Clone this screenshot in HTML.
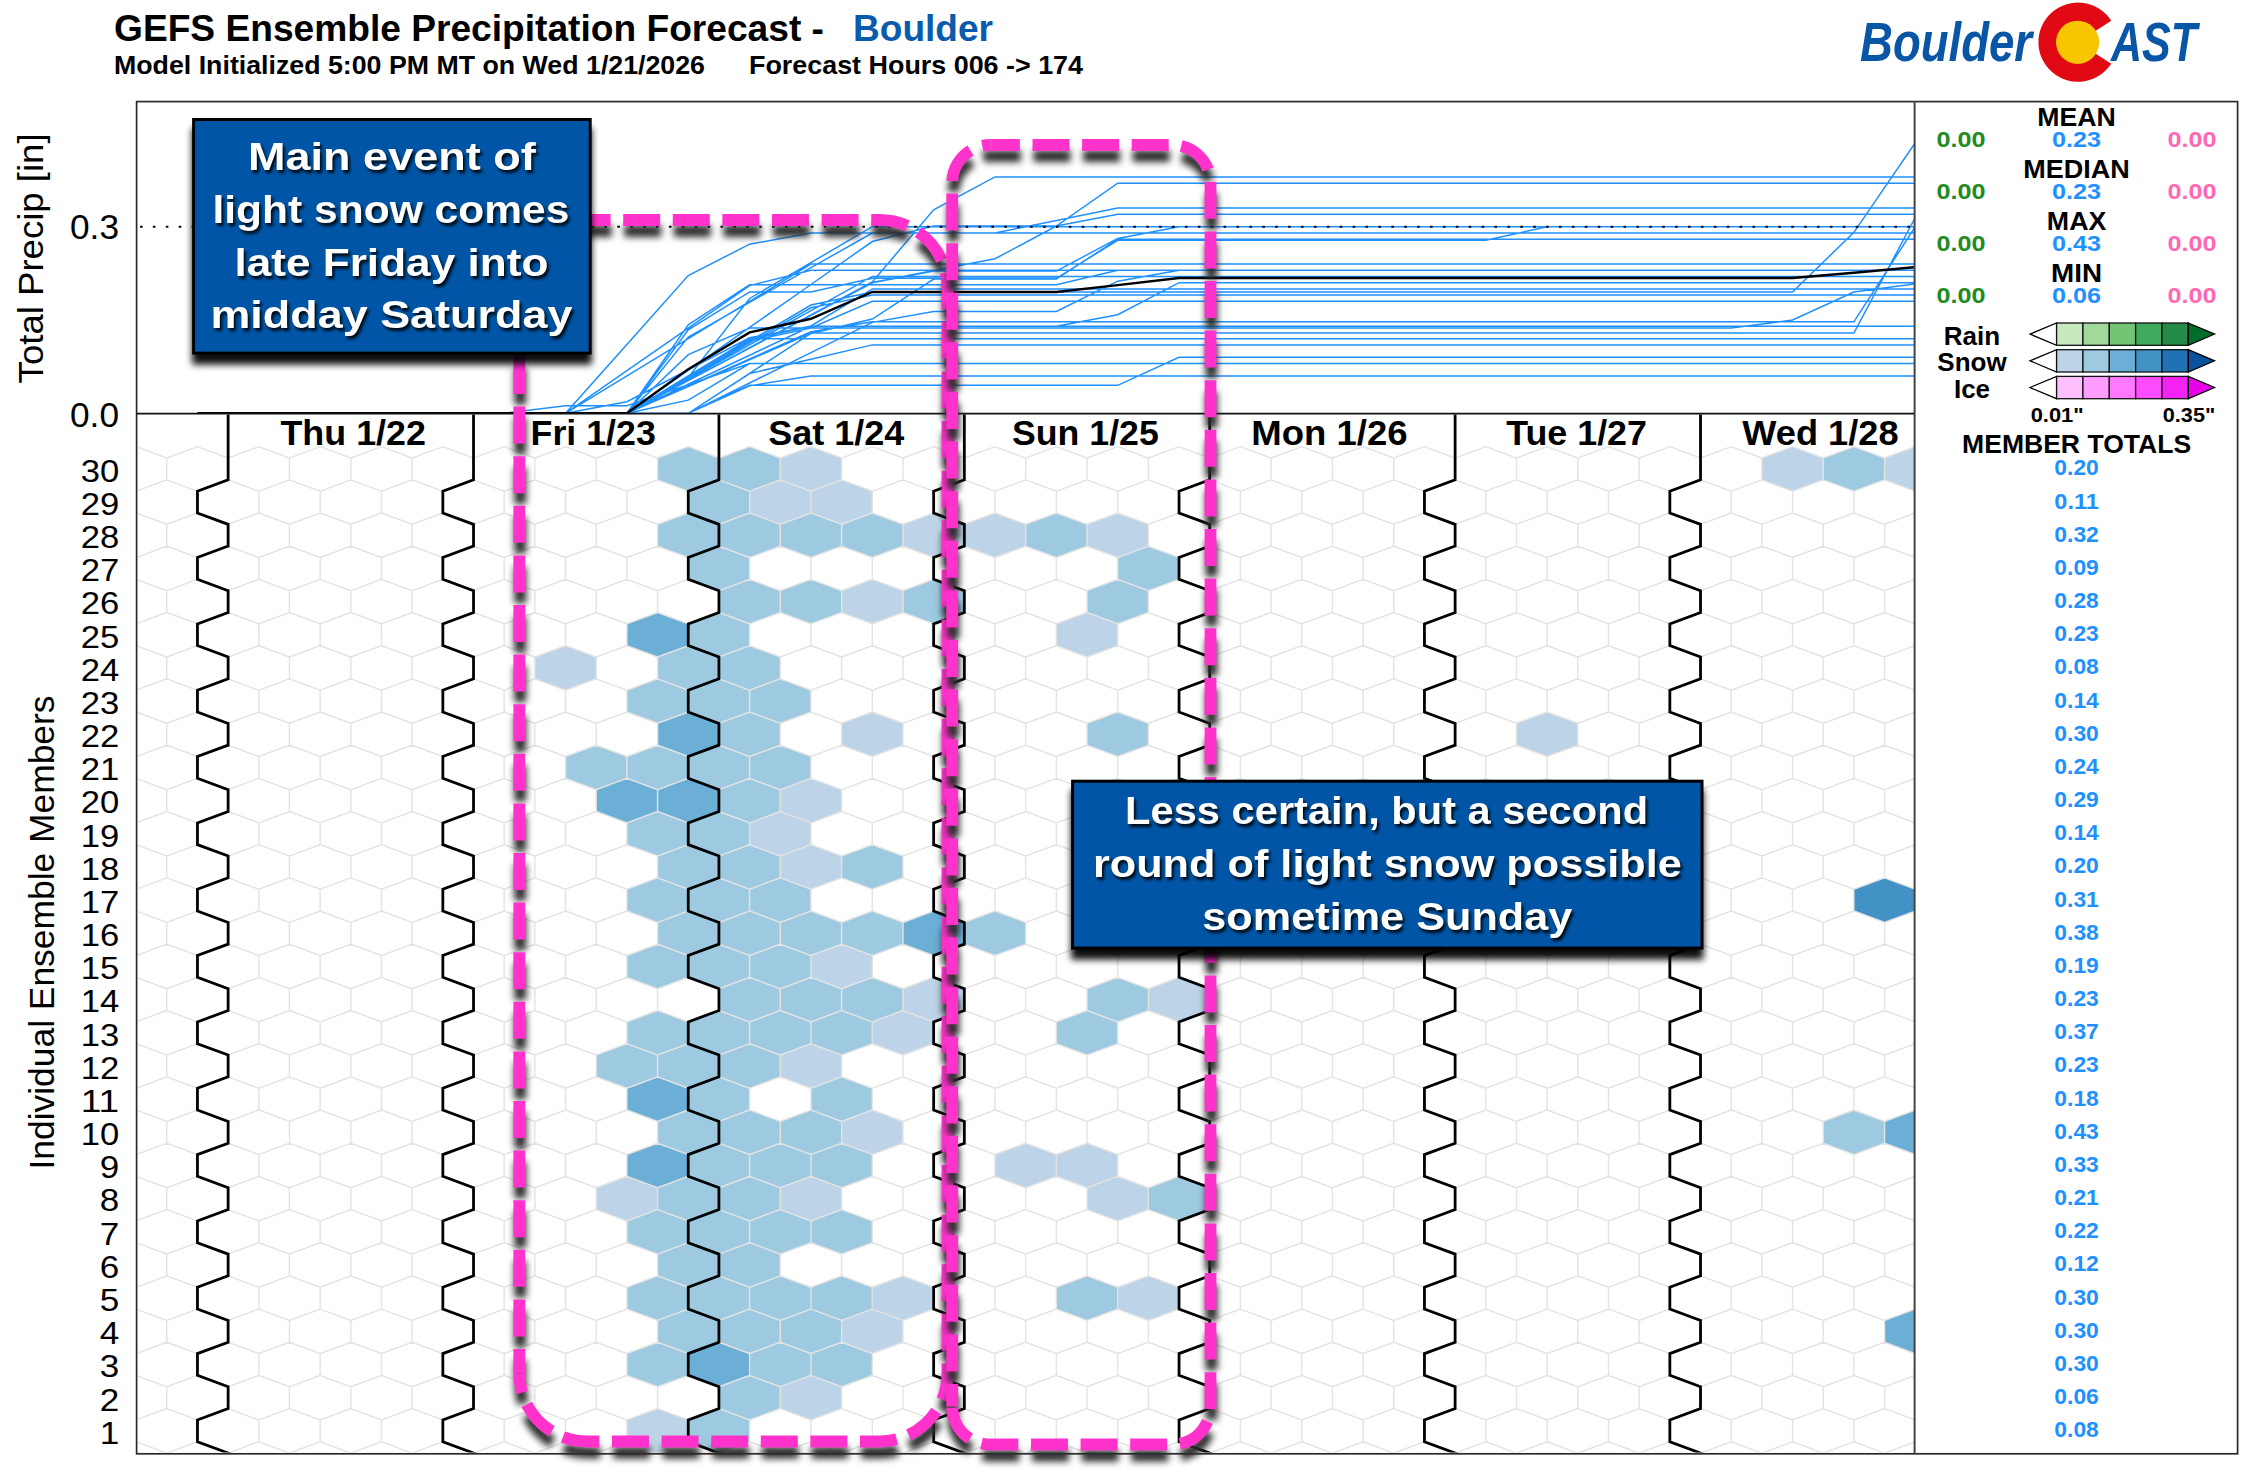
<!DOCTYPE html>
<html><head><meta charset="utf-8"><title>GEFS Ensemble Precipitation Forecast - Boulder</title>
<style>html,body{margin:0;padding:0;background:#fff;width:2253px;height:1472px;overflow:hidden}svg{display:block}</style>
</head><body>
<svg width="2253" height="1472" viewBox="0 0 2253 1472"><rect width="2253" height="1472" fill="#fff"/><defs>
<clipPath id="cg"><rect x="137.5" y="414.5" width="1776.5" height="1038"/></clipPath>
<clipPath id="cl"><rect x="137.5" y="102" width="1776.5" height="312"/></clipPath>
<filter id="dsh" x="-20%" y="-5%" width="140%" height="112%" color-interpolation-filters="sRGB"><feGaussianBlur in="SourceAlpha" stdDeviation="3.6"/><feOffset dx="0.5" dy="11"/><feComponentTransfer><feFuncR type="linear" slope="0" intercept="0.17"/><feFuncG type="linear" slope="0" intercept="0.17"/><feFuncB type="linear" slope="0" intercept="0.17"/><feFuncA type="linear" slope="1.0"/></feComponentTransfer><feMerge><feMergeNode/><feMergeNode in="SourceGraphic"/></feMerge></filter>
<filter id="bsh" x="-10%" y="-10%" width="120%" height="130%" color-interpolation-filters="sRGB"><feGaussianBlur in="SourceAlpha" stdDeviation="3.8"/><feOffset dx="0" dy="10"/><feComponentTransfer><feFuncA type="linear" slope="0.95"/></feComponentTransfer><feMerge><feMergeNode/><feMergeNode in="SourceGraphic"/></feMerge></filter>
<filter id="tsh" x="-10%" y="-20%" width="130%" height="150%" color-interpolation-filters="sRGB"><feGaussianBlur in="SourceAlpha" stdDeviation="1.5"/><feOffset dx="1.5" dy="3"/><feComponentTransfer><feFuncA type="linear" slope="0.9"/></feComponentTransfer><feMerge><feMergeNode/><feMergeNode in="SourceGraphic"/></feMerge></filter>
</defs>
<g clip-path="url(#cg)">
<path d="M657.57,1408.56L688.25,1419.93L688.25,1441.73L657.57,1453.10L626.90,1441.73L626.90,1419.93Z" fill="#bdd3e7"/><path d="M718.92,1408.56L749.59,1419.93L749.59,1441.73L718.92,1453.10L688.25,1441.73L688.25,1419.93Z" fill="#9ecae1"/><path d="M749.60,1375.39L780.27,1386.76L780.27,1408.56L749.60,1419.93L718.93,1408.56L718.93,1386.76Z" fill="#9ecae1"/><path d="M810.95,1375.39L841.62,1386.76L841.62,1408.56L810.95,1419.93L780.28,1408.56L780.28,1386.76Z" fill="#bdd3e7"/><path d="M657.57,1342.22L688.25,1353.59L688.25,1375.39L657.57,1386.76L626.90,1375.39L626.90,1353.59Z" fill="#9ecae1"/><path d="M718.92,1342.22L749.59,1353.59L749.59,1375.39L718.92,1386.76L688.25,1375.39L688.25,1353.59Z" fill="#6baed6"/><path d="M780.27,1342.22L810.94,1353.59L810.94,1375.39L780.27,1386.76L749.60,1375.39L749.60,1353.59Z" fill="#9ecae1"/><path d="M841.62,1342.22L872.29,1353.59L872.29,1375.39L841.62,1386.76L810.95,1375.39L810.95,1353.59Z" fill="#9ecae1"/><path d="M688.25,1309.05L718.92,1320.42L718.92,1342.22L688.25,1353.59L657.58,1342.22L657.58,1320.42Z" fill="#9ecae1"/><path d="M749.60,1309.05L780.27,1320.42L780.27,1342.22L749.60,1353.59L718.93,1342.22L718.93,1320.42Z" fill="#9ecae1"/><path d="M810.95,1309.05L841.62,1320.42L841.62,1342.22L810.95,1353.59L780.28,1342.22L780.28,1320.42Z" fill="#9ecae1"/><path d="M872.30,1309.05L902.98,1320.42L902.98,1342.22L872.30,1353.59L841.63,1342.22L841.63,1320.42Z" fill="#bdd3e7"/><path d="M1915.25,1309.05L1945.92,1320.42L1945.92,1342.22L1915.25,1353.59L1884.58,1342.22L1884.58,1320.42Z" fill="#6baed6"/><path d="M657.57,1275.88L688.25,1287.25L688.25,1309.05L657.57,1320.42L626.90,1309.05L626.90,1287.25Z" fill="#9ecae1"/><path d="M718.92,1275.88L749.59,1287.25L749.59,1309.05L718.92,1320.42L688.25,1309.05L688.25,1287.25Z" fill="#9ecae1"/><path d="M780.27,1275.88L810.94,1287.25L810.94,1309.05L780.27,1320.42L749.60,1309.05L749.60,1287.25Z" fill="#9ecae1"/><path d="M841.62,1275.88L872.29,1287.25L872.29,1309.05L841.62,1320.42L810.95,1309.05L810.95,1287.25Z" fill="#9ecae1"/><path d="M902.97,1275.88L933.64,1287.25L933.64,1309.05L902.97,1320.42L872.30,1309.05L872.30,1287.25Z" fill="#bdd3e7"/><path d="M1087.02,1275.88L1117.69,1287.25L1117.69,1309.05L1087.02,1320.42L1056.35,1309.05L1056.35,1287.25Z" fill="#9ecae1"/><path d="M1148.37,1275.88L1179.05,1287.25L1179.05,1309.05L1148.37,1320.42L1117.70,1309.05L1117.70,1287.25Z" fill="#bdd3e7"/><path d="M688.25,1242.71L718.92,1254.08L718.92,1275.88L688.25,1287.25L657.58,1275.88L657.58,1254.08Z" fill="#9ecae1"/><path d="M749.60,1242.71L780.27,1254.08L780.27,1275.88L749.60,1287.25L718.93,1275.88L718.93,1254.08Z" fill="#9ecae1"/><path d="M657.57,1209.54L688.25,1220.91L688.25,1242.71L657.57,1254.08L626.90,1242.71L626.90,1220.91Z" fill="#9ecae1"/><path d="M718.92,1209.54L749.59,1220.91L749.59,1242.71L718.92,1254.08L688.25,1242.71L688.25,1220.91Z" fill="#9ecae1"/><path d="M780.27,1209.54L810.94,1220.91L810.94,1242.71L780.27,1254.08L749.60,1242.71L749.60,1220.91Z" fill="#9ecae1"/><path d="M841.62,1209.54L872.29,1220.91L872.29,1242.71L841.62,1254.08L810.95,1242.71L810.95,1220.91Z" fill="#9ecae1"/><path d="M626.90,1176.37L657.57,1187.74L657.57,1209.54L626.90,1220.91L596.23,1209.54L596.23,1187.74Z" fill="#bdd3e7"/><path d="M688.25,1176.37L718.92,1187.74L718.92,1209.54L688.25,1220.91L657.58,1209.54L657.58,1187.74Z" fill="#9ecae1"/><path d="M749.60,1176.37L780.27,1187.74L780.27,1209.54L749.60,1220.91L718.93,1209.54L718.93,1187.74Z" fill="#9ecae1"/><path d="M810.95,1176.37L841.62,1187.74L841.62,1209.54L810.95,1220.91L780.28,1209.54L780.28,1187.74Z" fill="#bdd3e7"/><path d="M1117.70,1176.37L1148.38,1187.74L1148.38,1209.54L1117.70,1220.91L1087.03,1209.54L1087.03,1187.74Z" fill="#bdd3e7"/><path d="M1179.05,1176.37L1209.72,1187.74L1209.72,1209.54L1179.05,1220.91L1148.38,1209.54L1148.38,1187.74Z" fill="#9ecae1"/><path d="M657.57,1143.20L688.25,1154.57L688.25,1176.37L657.57,1187.74L626.90,1176.37L626.90,1154.57Z" fill="#6baed6"/><path d="M718.92,1143.20L749.59,1154.57L749.59,1176.37L718.92,1187.74L688.25,1176.37L688.25,1154.57Z" fill="#9ecae1"/><path d="M780.27,1143.20L810.94,1154.57L810.94,1176.37L780.27,1187.74L749.60,1176.37L749.60,1154.57Z" fill="#9ecae1"/><path d="M841.62,1143.20L872.29,1154.57L872.29,1176.37L841.62,1187.74L810.95,1176.37L810.95,1154.57Z" fill="#9ecae1"/><path d="M1025.67,1143.20L1056.35,1154.57L1056.35,1176.37L1025.67,1187.74L995.00,1176.37L995.00,1154.57Z" fill="#bdd3e7"/><path d="M1087.02,1143.20L1117.69,1154.57L1117.69,1176.37L1087.02,1187.74L1056.35,1176.37L1056.35,1154.57Z" fill="#bdd3e7"/><path d="M688.25,1110.03L718.92,1121.40L718.92,1143.20L688.25,1154.57L657.58,1143.20L657.58,1121.40Z" fill="#9ecae1"/><path d="M749.60,1110.03L780.27,1121.40L780.27,1143.20L749.60,1154.57L718.93,1143.20L718.93,1121.40Z" fill="#9ecae1"/><path d="M810.95,1110.03L841.62,1121.40L841.62,1143.20L810.95,1154.57L780.28,1143.20L780.28,1121.40Z" fill="#9ecae1"/><path d="M872.30,1110.03L902.98,1121.40L902.98,1143.20L872.30,1154.57L841.63,1143.20L841.63,1121.40Z" fill="#bdd3e7"/><path d="M1853.90,1110.03L1884.57,1121.40L1884.57,1143.20L1853.90,1154.57L1823.22,1143.20L1823.22,1121.40Z" fill="#9ecae1"/><path d="M1915.25,1110.03L1945.92,1121.40L1945.92,1143.20L1915.25,1154.57L1884.58,1143.20L1884.58,1121.40Z" fill="#6baed6"/><path d="M657.57,1076.86L688.25,1088.23L688.25,1110.03L657.57,1121.40L626.90,1110.03L626.90,1088.23Z" fill="#6baed6"/><path d="M718.92,1076.86L749.59,1088.23L749.59,1110.03L718.92,1121.40L688.25,1110.03L688.25,1088.23Z" fill="#9ecae1"/><path d="M841.62,1076.86L872.29,1088.23L872.29,1110.03L841.62,1121.40L810.95,1110.03L810.95,1088.23Z" fill="#9ecae1"/><path d="M626.90,1043.69L657.57,1055.06L657.57,1076.86L626.90,1088.23L596.23,1076.86L596.23,1055.06Z" fill="#9ecae1"/><path d="M688.25,1043.69L718.92,1055.06L718.92,1076.86L688.25,1088.23L657.58,1076.86L657.58,1055.06Z" fill="#9ecae1"/><path d="M749.60,1043.69L780.27,1055.06L780.27,1076.86L749.60,1088.23L718.93,1076.86L718.93,1055.06Z" fill="#9ecae1"/><path d="M810.95,1043.69L841.62,1055.06L841.62,1076.86L810.95,1088.23L780.28,1076.86L780.28,1055.06Z" fill="#bdd3e7"/><path d="M657.57,1010.52L688.25,1021.89L688.25,1043.69L657.57,1055.06L626.90,1043.69L626.90,1021.89Z" fill="#9ecae1"/><path d="M718.92,1010.52L749.59,1021.89L749.59,1043.69L718.92,1055.06L688.25,1043.69L688.25,1021.89Z" fill="#9ecae1"/><path d="M780.27,1010.52L810.94,1021.89L810.94,1043.69L780.27,1055.06L749.60,1043.69L749.60,1021.89Z" fill="#9ecae1"/><path d="M841.62,1010.52L872.29,1021.89L872.29,1043.69L841.62,1055.06L810.95,1043.69L810.95,1021.89Z" fill="#9ecae1"/><path d="M902.97,1010.52L933.64,1021.89L933.64,1043.69L902.97,1055.06L872.30,1043.69L872.30,1021.89Z" fill="#bdd3e7"/><path d="M1087.02,1010.52L1117.69,1021.89L1117.69,1043.69L1087.02,1055.06L1056.35,1043.69L1056.35,1021.89Z" fill="#9ecae1"/><path d="M749.60,977.35L780.27,988.72L780.27,1010.52L749.60,1021.89L718.93,1010.52L718.93,988.72Z" fill="#9ecae1"/><path d="M810.95,977.35L841.62,988.72L841.62,1010.52L810.95,1021.89L780.28,1010.52L780.28,988.72Z" fill="#9ecae1"/><path d="M872.30,977.35L902.98,988.72L902.98,1010.52L872.30,1021.89L841.63,1010.52L841.63,988.72Z" fill="#9ecae1"/><path d="M933.65,977.35L964.33,988.72L964.33,1010.52L933.65,1021.89L902.98,1010.52L902.98,988.72Z" fill="#bdd3e7"/><path d="M1117.70,977.35L1148.38,988.72L1148.38,1010.52L1117.70,1021.89L1087.03,1010.52L1087.03,988.72Z" fill="#9ecae1"/><path d="M1179.05,977.35L1209.72,988.72L1209.72,1010.52L1179.05,1021.89L1148.38,1010.52L1148.38,988.72Z" fill="#bdd3e7"/><path d="M657.57,944.18L688.25,955.55L688.25,977.35L657.57,988.72L626.90,977.35L626.90,955.55Z" fill="#9ecae1"/><path d="M718.92,944.18L749.59,955.55L749.59,977.35L718.92,988.72L688.25,977.35L688.25,955.55Z" fill="#9ecae1"/><path d="M780.27,944.18L810.94,955.55L810.94,977.35L780.27,988.72L749.60,977.35L749.60,955.55Z" fill="#9ecae1"/><path d="M841.62,944.18L872.29,955.55L872.29,977.35L841.62,988.72L810.95,977.35L810.95,955.55Z" fill="#bdd3e7"/><path d="M688.25,911.01L718.92,922.38L718.92,944.18L688.25,955.55L657.58,944.18L657.58,922.38Z" fill="#9ecae1"/><path d="M749.60,911.01L780.27,922.38L780.27,944.18L749.60,955.55L718.93,944.18L718.93,922.38Z" fill="#9ecae1"/><path d="M810.95,911.01L841.62,922.38L841.62,944.18L810.95,955.55L780.28,944.18L780.28,922.38Z" fill="#9ecae1"/><path d="M872.30,911.01L902.98,922.38L902.98,944.18L872.30,955.55L841.63,944.18L841.63,922.38Z" fill="#9ecae1"/><path d="M933.65,911.01L964.33,922.38L964.33,944.18L933.65,955.55L902.98,944.18L902.98,922.38Z" fill="#6baed6"/><path d="M995.00,911.01L1025.67,922.38L1025.67,944.18L995.00,955.55L964.33,944.18L964.33,922.38Z" fill="#9ecae1"/><path d="M657.57,877.84L688.25,889.21L688.25,911.01L657.57,922.38L626.90,911.01L626.90,889.21Z" fill="#9ecae1"/><path d="M718.92,877.84L749.59,889.21L749.59,911.01L718.92,922.38L688.25,911.01L688.25,889.21Z" fill="#9ecae1"/><path d="M780.27,877.84L810.94,889.21L810.94,911.01L780.27,922.38L749.60,911.01L749.60,889.21Z" fill="#9ecae1"/><path d="M1884.57,877.84L1915.24,889.21L1915.24,911.01L1884.57,922.38L1853.89,911.01L1853.89,889.21Z" fill="#4292c6"/><path d="M688.25,844.67L718.92,856.04L718.92,877.84L688.25,889.21L657.58,877.84L657.58,856.04Z" fill="#9ecae1"/><path d="M749.60,844.67L780.27,856.04L780.27,877.84L749.60,889.21L718.93,877.84L718.93,856.04Z" fill="#9ecae1"/><path d="M810.95,844.67L841.62,856.04L841.62,877.84L810.95,889.21L780.28,877.84L780.28,856.04Z" fill="#bdd3e7"/><path d="M872.30,844.67L902.98,856.04L902.98,877.84L872.30,889.21L841.63,877.84L841.63,856.04Z" fill="#9ecae1"/><path d="M657.57,811.50L688.25,822.87L688.25,844.67L657.57,856.04L626.90,844.67L626.90,822.87Z" fill="#9ecae1"/><path d="M718.92,811.50L749.59,822.87L749.59,844.67L718.92,856.04L688.25,844.67L688.25,822.87Z" fill="#9ecae1"/><path d="M780.27,811.50L810.94,822.87L810.94,844.67L780.27,856.04L749.60,844.67L749.60,822.87Z" fill="#bdd3e7"/><path d="M626.90,778.33L657.57,789.70L657.57,811.50L626.90,822.87L596.23,811.50L596.23,789.70Z" fill="#6baed6"/><path d="M688.25,778.33L718.92,789.70L718.92,811.50L688.25,822.87L657.58,811.50L657.58,789.70Z" fill="#6baed6"/><path d="M749.60,778.33L780.27,789.70L780.27,811.50L749.60,822.87L718.93,811.50L718.93,789.70Z" fill="#9ecae1"/><path d="M810.95,778.33L841.62,789.70L841.62,811.50L810.95,822.87L780.28,811.50L780.28,789.70Z" fill="#bdd3e7"/><path d="M596.22,745.16L626.89,756.53L626.89,778.33L596.22,789.70L565.55,778.33L565.55,756.53Z" fill="#9ecae1"/><path d="M657.57,745.16L688.25,756.53L688.25,778.33L657.57,789.70L626.90,778.33L626.90,756.53Z" fill="#9ecae1"/><path d="M718.92,745.16L749.59,756.53L749.59,778.33L718.92,789.70L688.25,778.33L688.25,756.53Z" fill="#9ecae1"/><path d="M780.27,745.16L810.94,756.53L810.94,778.33L780.27,789.70L749.60,778.33L749.60,756.53Z" fill="#9ecae1"/><path d="M688.25,711.99L718.92,723.36L718.92,745.16L688.25,756.53L657.58,745.16L657.58,723.36Z" fill="#6baed6"/><path d="M749.60,711.99L780.27,723.36L780.27,745.16L749.60,756.53L718.93,745.16L718.93,723.36Z" fill="#9ecae1"/><path d="M872.30,711.99L902.98,723.36L902.98,745.16L872.30,756.53L841.63,745.16L841.63,723.36Z" fill="#bdd3e7"/><path d="M1117.70,711.99L1148.38,723.36L1148.38,745.16L1117.70,756.53L1087.03,745.16L1087.03,723.36Z" fill="#9ecae1"/><path d="M1547.15,711.99L1577.82,723.36L1577.82,745.16L1547.15,756.53L1516.47,745.16L1516.47,723.36Z" fill="#bdd3e7"/><path d="M657.57,678.82L688.25,690.19L688.25,711.99L657.57,723.36L626.90,711.99L626.90,690.19Z" fill="#9ecae1"/><path d="M718.92,678.82L749.59,690.19L749.59,711.99L718.92,723.36L688.25,711.99L688.25,690.19Z" fill="#9ecae1"/><path d="M780.27,678.82L810.94,690.19L810.94,711.99L780.27,723.36L749.60,711.99L749.60,690.19Z" fill="#9ecae1"/><path d="M565.55,645.65L596.22,657.02L596.22,678.82L565.55,690.19L534.88,678.82L534.88,657.02Z" fill="#bdd3e7"/><path d="M688.25,645.65L718.92,657.02L718.92,678.82L688.25,690.19L657.58,678.82L657.58,657.02Z" fill="#9ecae1"/><path d="M749.60,645.65L780.27,657.02L780.27,678.82L749.60,690.19L718.93,678.82L718.93,657.02Z" fill="#9ecae1"/><path d="M657.57,612.48L688.25,623.85L688.25,645.65L657.57,657.02L626.90,645.65L626.90,623.85Z" fill="#6baed6"/><path d="M718.92,612.48L749.59,623.85L749.59,645.65L718.92,657.02L688.25,645.65L688.25,623.85Z" fill="#9ecae1"/><path d="M1087.02,612.48L1117.69,623.85L1117.69,645.65L1087.02,657.02L1056.35,645.65L1056.35,623.85Z" fill="#bdd3e7"/><path d="M749.60,579.31L780.27,590.68L780.27,612.48L749.60,623.85L718.93,612.48L718.93,590.68Z" fill="#9ecae1"/><path d="M810.95,579.31L841.62,590.68L841.62,612.48L810.95,623.85L780.28,612.48L780.28,590.68Z" fill="#9ecae1"/><path d="M872.30,579.31L902.98,590.68L902.98,612.48L872.30,623.85L841.63,612.48L841.63,590.68Z" fill="#bdd3e7"/><path d="M933.65,579.31L964.33,590.68L964.33,612.48L933.65,623.85L902.98,612.48L902.98,590.68Z" fill="#9ecae1"/><path d="M1117.70,579.31L1148.38,590.68L1148.38,612.48L1117.70,623.85L1087.03,612.48L1087.03,590.68Z" fill="#9ecae1"/><path d="M718.92,546.14L749.59,557.51L749.59,579.31L718.92,590.68L688.25,579.31L688.25,557.51Z" fill="#9ecae1"/><path d="M1148.37,546.14L1179.05,557.51L1179.05,579.31L1148.37,590.68L1117.70,579.31L1117.70,557.51Z" fill="#9ecae1"/><path d="M688.25,512.97L718.92,524.34L718.92,546.14L688.25,557.51L657.58,546.14L657.58,524.34Z" fill="#9ecae1"/><path d="M749.60,512.97L780.27,524.34L780.27,546.14L749.60,557.51L718.93,546.14L718.93,524.34Z" fill="#9ecae1"/><path d="M810.95,512.97L841.62,524.34L841.62,546.14L810.95,557.51L780.28,546.14L780.28,524.34Z" fill="#9ecae1"/><path d="M872.30,512.97L902.98,524.34L902.98,546.14L872.30,557.51L841.63,546.14L841.63,524.34Z" fill="#9ecae1"/><path d="M933.65,512.97L964.33,524.34L964.33,546.14L933.65,557.51L902.98,546.14L902.98,524.34Z" fill="#bdd3e7"/><path d="M995.00,512.97L1025.67,524.34L1025.67,546.14L995.00,557.51L964.33,546.14L964.33,524.34Z" fill="#bdd3e7"/><path d="M1056.35,512.97L1087.02,524.34L1087.02,546.14L1056.35,557.51L1025.67,546.14L1025.67,524.34Z" fill="#9ecae1"/><path d="M1117.70,512.97L1148.38,524.34L1148.38,546.14L1117.70,557.51L1087.03,546.14L1087.03,524.34Z" fill="#bdd3e7"/><path d="M718.92,479.80L749.59,491.17L749.59,512.97L718.92,524.34L688.25,512.97L688.25,491.17Z" fill="#9ecae1"/><path d="M780.27,479.80L810.94,491.17L810.94,512.97L780.27,524.34L749.60,512.97L749.60,491.17Z" fill="#bdd3e7"/><path d="M841.62,479.80L872.29,491.17L872.29,512.97L841.62,524.34L810.95,512.97L810.95,491.17Z" fill="#bdd3e7"/><path d="M688.25,446.63L718.92,458.00L718.92,479.80L688.25,491.17L657.58,479.80L657.58,458.00Z" fill="#9ecae1"/><path d="M749.60,446.63L780.27,458.00L780.27,479.80L749.60,491.17L718.93,479.80L718.93,458.00Z" fill="#9ecae1"/><path d="M810.95,446.63L841.62,458.00L841.62,479.80L810.95,491.17L780.28,479.80L780.28,458.00Z" fill="#bdd3e7"/><path d="M1792.55,446.63L1823.22,458.00L1823.22,479.80L1792.55,491.17L1761.88,479.80L1761.88,458.00Z" fill="#bdd3e7"/><path d="M1853.90,446.63L1884.57,458.00L1884.57,479.80L1853.90,491.17L1823.22,479.80L1823.22,458.00Z" fill="#9ecae1"/><path d="M1915.25,446.63L1945.92,458.00L1945.92,479.80L1915.25,491.17L1884.58,479.80L1884.58,458.00Z" fill="#bdd3e7"/>
<path d="M105.42,1408.56L136.10,1419.93L136.10,1441.73L105.42,1453.10L74.75,1441.73L74.75,1419.93ZM166.77,1408.56L197.45,1419.93L197.45,1441.73L166.77,1453.10L136.09,1441.73L136.09,1419.93ZM228.12,1408.56L258.80,1419.93L258.80,1441.73L228.12,1453.10L197.44,1441.73L197.44,1419.93ZM289.47,1408.56L320.15,1419.93L320.15,1441.73L289.47,1453.10L258.80,1441.73L258.80,1419.93ZM350.82,1408.56L381.50,1419.93L381.50,1441.73L350.82,1453.10L320.15,1441.73L320.15,1419.93ZM412.17,1408.56L442.85,1419.93L442.85,1441.73L412.17,1453.10L381.50,1441.73L381.50,1419.93ZM473.52,1408.56L504.19,1419.93L504.19,1441.73L473.52,1453.10L442.84,1441.73L442.84,1419.93ZM534.87,1408.56L565.54,1419.93L565.54,1441.73L534.87,1453.10L504.19,1441.73L504.19,1419.93ZM596.22,1408.56L626.89,1419.93L626.89,1441.73L596.22,1453.10L565.55,1441.73L565.55,1419.93ZM657.57,1408.56L688.25,1419.93L688.25,1441.73L657.57,1453.10L626.90,1441.73L626.90,1419.93ZM718.92,1408.56L749.59,1419.93L749.59,1441.73L718.92,1453.10L688.25,1441.73L688.25,1419.93ZM780.27,1408.56L810.94,1419.93L810.94,1441.73L780.27,1453.10L749.60,1441.73L749.60,1419.93ZM841.62,1408.56L872.29,1419.93L872.29,1441.73L841.62,1453.10L810.95,1441.73L810.95,1419.93ZM902.97,1408.56L933.64,1419.93L933.64,1441.73L902.97,1453.10L872.30,1441.73L872.30,1419.93ZM964.32,1408.56L995.00,1419.93L995.00,1441.73L964.32,1453.10L933.65,1441.73L933.65,1419.93ZM1025.67,1408.56L1056.35,1419.93L1056.35,1441.73L1025.67,1453.10L995.00,1441.73L995.00,1419.93ZM1087.02,1408.56L1117.69,1419.93L1117.69,1441.73L1087.02,1453.10L1056.35,1441.73L1056.35,1419.93ZM1148.37,1408.56L1179.05,1419.93L1179.05,1441.73L1148.37,1453.10L1117.70,1441.73L1117.70,1419.93ZM1209.72,1408.56L1240.39,1419.93L1240.39,1441.73L1209.72,1453.10L1179.05,1441.73L1179.05,1419.93ZM1271.07,1408.56L1301.74,1419.93L1301.74,1441.73L1271.07,1453.10L1240.39,1441.73L1240.39,1419.93ZM1332.42,1408.56L1363.10,1419.93L1363.10,1441.73L1332.42,1453.10L1301.75,1441.73L1301.75,1419.93ZM1393.77,1408.56L1424.44,1419.93L1424.44,1441.73L1393.77,1453.10L1363.10,1441.73L1363.10,1419.93ZM1455.12,1408.56L1485.80,1419.93L1485.80,1441.73L1455.12,1453.10L1424.45,1441.73L1424.45,1419.93ZM1516.47,1408.56L1547.14,1419.93L1547.14,1441.73L1516.47,1453.10L1485.80,1441.73L1485.80,1419.93ZM1577.82,1408.56L1608.49,1419.93L1608.49,1441.73L1577.82,1453.10L1547.14,1441.73L1547.14,1419.93ZM1639.17,1408.56L1669.85,1419.93L1669.85,1441.73L1639.17,1453.10L1608.50,1441.73L1608.50,1419.93ZM1700.52,1408.56L1731.19,1419.93L1731.19,1441.73L1700.52,1453.10L1669.85,1441.73L1669.85,1419.93ZM1761.87,1408.56L1792.55,1419.93L1792.55,1441.73L1761.87,1453.10L1731.20,1441.73L1731.20,1419.93ZM1823.22,1408.56L1853.89,1419.93L1853.89,1441.73L1823.22,1453.10L1792.55,1441.73L1792.55,1419.93ZM1884.57,1408.56L1915.24,1419.93L1915.24,1441.73L1884.57,1453.10L1853.89,1441.73L1853.89,1419.93ZM1945.92,1408.56L1976.60,1419.93L1976.60,1441.73L1945.92,1453.10L1915.25,1441.73L1915.25,1419.93ZM136.10,1375.39L166.78,1386.76L166.78,1408.56L136.10,1419.93L105.42,1408.56L105.42,1386.76ZM197.45,1375.39L228.12,1386.76L228.12,1408.56L197.45,1419.93L166.77,1408.56L166.77,1386.76ZM258.80,1375.39L289.48,1386.76L289.48,1408.56L258.80,1419.93L228.12,1408.56L228.12,1386.76ZM320.15,1375.39L350.82,1386.76L350.82,1408.56L320.15,1419.93L289.47,1408.56L289.47,1386.76ZM381.50,1375.39L412.18,1386.76L412.18,1408.56L381.50,1419.93L350.82,1408.56L350.82,1386.76ZM442.85,1375.39L473.53,1386.76L473.53,1408.56L442.85,1419.93L412.18,1408.56L412.18,1386.76ZM504.20,1375.39L534.88,1386.76L534.88,1408.56L504.20,1419.93L473.53,1408.56L473.53,1386.76ZM565.55,1375.39L596.22,1386.76L596.22,1408.56L565.55,1419.93L534.88,1408.56L534.88,1386.76ZM626.90,1375.39L657.57,1386.76L657.57,1408.56L626.90,1419.93L596.23,1408.56L596.23,1386.76ZM688.25,1375.39L718.92,1386.76L718.92,1408.56L688.25,1419.93L657.58,1408.56L657.58,1386.76ZM749.60,1375.39L780.27,1386.76L780.27,1408.56L749.60,1419.93L718.93,1408.56L718.93,1386.76ZM810.95,1375.39L841.62,1386.76L841.62,1408.56L810.95,1419.93L780.28,1408.56L780.28,1386.76ZM872.30,1375.39L902.98,1386.76L902.98,1408.56L872.30,1419.93L841.63,1408.56L841.63,1386.76ZM933.65,1375.39L964.33,1386.76L964.33,1408.56L933.65,1419.93L902.98,1408.56L902.98,1386.76ZM995.00,1375.39L1025.67,1386.76L1025.67,1408.56L995.00,1419.93L964.33,1408.56L964.33,1386.76ZM1056.35,1375.39L1087.02,1386.76L1087.02,1408.56L1056.35,1419.93L1025.67,1408.56L1025.67,1386.76ZM1117.70,1375.39L1148.38,1386.76L1148.38,1408.56L1117.70,1419.93L1087.03,1408.56L1087.03,1386.76ZM1179.05,1375.39L1209.72,1386.76L1209.72,1408.56L1179.05,1419.93L1148.38,1408.56L1148.38,1386.76ZM1240.40,1375.39L1271.07,1386.76L1271.07,1408.56L1240.40,1419.93L1209.72,1408.56L1209.72,1386.76ZM1301.75,1375.39L1332.42,1386.76L1332.42,1408.56L1301.75,1419.93L1271.08,1408.56L1271.08,1386.76ZM1363.10,1375.39L1393.77,1386.76L1393.77,1408.56L1363.10,1419.93L1332.42,1408.56L1332.42,1386.76ZM1424.45,1375.39L1455.12,1386.76L1455.12,1408.56L1424.45,1419.93L1393.78,1408.56L1393.78,1386.76ZM1485.80,1375.39L1516.47,1386.76L1516.47,1408.56L1485.80,1419.93L1455.12,1408.56L1455.12,1386.76ZM1547.15,1375.39L1577.82,1386.76L1577.82,1408.56L1547.15,1419.93L1516.47,1408.56L1516.47,1386.76ZM1608.50,1375.39L1639.17,1386.76L1639.17,1408.56L1608.50,1419.93L1577.83,1408.56L1577.83,1386.76ZM1669.85,1375.39L1700.52,1386.76L1700.52,1408.56L1669.85,1419.93L1639.17,1408.56L1639.17,1386.76ZM1731.20,1375.39L1761.88,1386.76L1761.88,1408.56L1731.20,1419.93L1700.53,1408.56L1700.53,1386.76ZM1792.55,1375.39L1823.22,1386.76L1823.22,1408.56L1792.55,1419.93L1761.88,1408.56L1761.88,1386.76ZM1853.90,1375.39L1884.57,1386.76L1884.57,1408.56L1853.90,1419.93L1823.22,1408.56L1823.22,1386.76ZM1915.25,1375.39L1945.92,1386.76L1945.92,1408.56L1915.25,1419.93L1884.58,1408.56L1884.58,1386.76ZM105.42,1342.22L136.10,1353.59L136.10,1375.39L105.42,1386.76L74.75,1375.39L74.75,1353.59ZM166.77,1342.22L197.45,1353.59L197.45,1375.39L166.77,1386.76L136.09,1375.39L136.09,1353.59ZM228.12,1342.22L258.80,1353.59L258.80,1375.39L228.12,1386.76L197.44,1375.39L197.44,1353.59ZM289.47,1342.22L320.15,1353.59L320.15,1375.39L289.47,1386.76L258.80,1375.39L258.80,1353.59ZM350.82,1342.22L381.50,1353.59L381.50,1375.39L350.82,1386.76L320.15,1375.39L320.15,1353.59ZM412.17,1342.22L442.85,1353.59L442.85,1375.39L412.17,1386.76L381.50,1375.39L381.50,1353.59ZM473.52,1342.22L504.19,1353.59L504.19,1375.39L473.52,1386.76L442.84,1375.39L442.84,1353.59ZM534.87,1342.22L565.54,1353.59L565.54,1375.39L534.87,1386.76L504.19,1375.39L504.19,1353.59ZM596.22,1342.22L626.89,1353.59L626.89,1375.39L596.22,1386.76L565.55,1375.39L565.55,1353.59ZM657.57,1342.22L688.25,1353.59L688.25,1375.39L657.57,1386.76L626.90,1375.39L626.90,1353.59ZM718.92,1342.22L749.59,1353.59L749.59,1375.39L718.92,1386.76L688.25,1375.39L688.25,1353.59ZM780.27,1342.22L810.94,1353.59L810.94,1375.39L780.27,1386.76L749.60,1375.39L749.60,1353.59ZM841.62,1342.22L872.29,1353.59L872.29,1375.39L841.62,1386.76L810.95,1375.39L810.95,1353.59ZM902.97,1342.22L933.64,1353.59L933.64,1375.39L902.97,1386.76L872.30,1375.39L872.30,1353.59ZM964.32,1342.22L995.00,1353.59L995.00,1375.39L964.32,1386.76L933.65,1375.39L933.65,1353.59ZM1025.67,1342.22L1056.35,1353.59L1056.35,1375.39L1025.67,1386.76L995.00,1375.39L995.00,1353.59ZM1087.02,1342.22L1117.69,1353.59L1117.69,1375.39L1087.02,1386.76L1056.35,1375.39L1056.35,1353.59ZM1148.37,1342.22L1179.05,1353.59L1179.05,1375.39L1148.37,1386.76L1117.70,1375.39L1117.70,1353.59ZM1209.72,1342.22L1240.39,1353.59L1240.39,1375.39L1209.72,1386.76L1179.05,1375.39L1179.05,1353.59ZM1271.07,1342.22L1301.74,1353.59L1301.74,1375.39L1271.07,1386.76L1240.39,1375.39L1240.39,1353.59ZM1332.42,1342.22L1363.10,1353.59L1363.10,1375.39L1332.42,1386.76L1301.75,1375.39L1301.75,1353.59ZM1393.77,1342.22L1424.44,1353.59L1424.44,1375.39L1393.77,1386.76L1363.10,1375.39L1363.10,1353.59ZM1455.12,1342.22L1485.80,1353.59L1485.80,1375.39L1455.12,1386.76L1424.45,1375.39L1424.45,1353.59ZM1516.47,1342.22L1547.14,1353.59L1547.14,1375.39L1516.47,1386.76L1485.80,1375.39L1485.80,1353.59ZM1577.82,1342.22L1608.49,1353.59L1608.49,1375.39L1577.82,1386.76L1547.14,1375.39L1547.14,1353.59ZM1639.17,1342.22L1669.85,1353.59L1669.85,1375.39L1639.17,1386.76L1608.50,1375.39L1608.50,1353.59ZM1700.52,1342.22L1731.19,1353.59L1731.19,1375.39L1700.52,1386.76L1669.85,1375.39L1669.85,1353.59ZM1761.87,1342.22L1792.55,1353.59L1792.55,1375.39L1761.87,1386.76L1731.20,1375.39L1731.20,1353.59ZM1823.22,1342.22L1853.89,1353.59L1853.89,1375.39L1823.22,1386.76L1792.55,1375.39L1792.55,1353.59ZM1884.57,1342.22L1915.24,1353.59L1915.24,1375.39L1884.57,1386.76L1853.89,1375.39L1853.89,1353.59ZM1945.92,1342.22L1976.60,1353.59L1976.60,1375.39L1945.92,1386.76L1915.25,1375.39L1915.25,1353.59ZM136.10,1309.05L166.78,1320.42L166.78,1342.22L136.10,1353.59L105.42,1342.22L105.42,1320.42ZM197.45,1309.05L228.12,1320.42L228.12,1342.22L197.45,1353.59L166.77,1342.22L166.77,1320.42ZM258.80,1309.05L289.48,1320.42L289.48,1342.22L258.80,1353.59L228.12,1342.22L228.12,1320.42ZM320.15,1309.05L350.82,1320.42L350.82,1342.22L320.15,1353.59L289.47,1342.22L289.47,1320.42ZM381.50,1309.05L412.18,1320.42L412.18,1342.22L381.50,1353.59L350.82,1342.22L350.82,1320.42ZM442.85,1309.05L473.53,1320.42L473.53,1342.22L442.85,1353.59L412.18,1342.22L412.18,1320.42ZM504.20,1309.05L534.88,1320.42L534.88,1342.22L504.20,1353.59L473.53,1342.22L473.53,1320.42ZM565.55,1309.05L596.22,1320.42L596.22,1342.22L565.55,1353.59L534.88,1342.22L534.88,1320.42ZM626.90,1309.05L657.57,1320.42L657.57,1342.22L626.90,1353.59L596.23,1342.22L596.23,1320.42ZM688.25,1309.05L718.92,1320.42L718.92,1342.22L688.25,1353.59L657.58,1342.22L657.58,1320.42ZM749.60,1309.05L780.27,1320.42L780.27,1342.22L749.60,1353.59L718.93,1342.22L718.93,1320.42ZM810.95,1309.05L841.62,1320.42L841.62,1342.22L810.95,1353.59L780.28,1342.22L780.28,1320.42ZM872.30,1309.05L902.98,1320.42L902.98,1342.22L872.30,1353.59L841.63,1342.22L841.63,1320.42ZM933.65,1309.05L964.33,1320.42L964.33,1342.22L933.65,1353.59L902.98,1342.22L902.98,1320.42ZM995.00,1309.05L1025.67,1320.42L1025.67,1342.22L995.00,1353.59L964.33,1342.22L964.33,1320.42ZM1056.35,1309.05L1087.02,1320.42L1087.02,1342.22L1056.35,1353.59L1025.67,1342.22L1025.67,1320.42ZM1117.70,1309.05L1148.38,1320.42L1148.38,1342.22L1117.70,1353.59L1087.03,1342.22L1087.03,1320.42ZM1179.05,1309.05L1209.72,1320.42L1209.72,1342.22L1179.05,1353.59L1148.38,1342.22L1148.38,1320.42ZM1240.40,1309.05L1271.07,1320.42L1271.07,1342.22L1240.40,1353.59L1209.72,1342.22L1209.72,1320.42ZM1301.75,1309.05L1332.42,1320.42L1332.42,1342.22L1301.75,1353.59L1271.08,1342.22L1271.08,1320.42ZM1363.10,1309.05L1393.77,1320.42L1393.77,1342.22L1363.10,1353.59L1332.42,1342.22L1332.42,1320.42ZM1424.45,1309.05L1455.12,1320.42L1455.12,1342.22L1424.45,1353.59L1393.78,1342.22L1393.78,1320.42ZM1485.80,1309.05L1516.47,1320.42L1516.47,1342.22L1485.80,1353.59L1455.12,1342.22L1455.12,1320.42ZM1547.15,1309.05L1577.82,1320.42L1577.82,1342.22L1547.15,1353.59L1516.47,1342.22L1516.47,1320.42ZM1608.50,1309.05L1639.17,1320.42L1639.17,1342.22L1608.50,1353.59L1577.83,1342.22L1577.83,1320.42ZM1669.85,1309.05L1700.52,1320.42L1700.52,1342.22L1669.85,1353.59L1639.17,1342.22L1639.17,1320.42ZM1731.20,1309.05L1761.88,1320.42L1761.88,1342.22L1731.20,1353.59L1700.53,1342.22L1700.53,1320.42ZM1792.55,1309.05L1823.22,1320.42L1823.22,1342.22L1792.55,1353.59L1761.88,1342.22L1761.88,1320.42ZM1853.90,1309.05L1884.57,1320.42L1884.57,1342.22L1853.90,1353.59L1823.22,1342.22L1823.22,1320.42ZM1915.25,1309.05L1945.92,1320.42L1945.92,1342.22L1915.25,1353.59L1884.58,1342.22L1884.58,1320.42ZM105.42,1275.88L136.10,1287.25L136.10,1309.05L105.42,1320.42L74.75,1309.05L74.75,1287.25ZM166.77,1275.88L197.45,1287.25L197.45,1309.05L166.77,1320.42L136.09,1309.05L136.09,1287.25ZM228.12,1275.88L258.80,1287.25L258.80,1309.05L228.12,1320.42L197.44,1309.05L197.44,1287.25ZM289.47,1275.88L320.15,1287.25L320.15,1309.05L289.47,1320.42L258.80,1309.05L258.80,1287.25ZM350.82,1275.88L381.50,1287.25L381.50,1309.05L350.82,1320.42L320.15,1309.05L320.15,1287.25ZM412.17,1275.88L442.85,1287.25L442.85,1309.05L412.17,1320.42L381.50,1309.05L381.50,1287.25ZM473.52,1275.88L504.19,1287.25L504.19,1309.05L473.52,1320.42L442.84,1309.05L442.84,1287.25ZM534.87,1275.88L565.54,1287.25L565.54,1309.05L534.87,1320.42L504.19,1309.05L504.19,1287.25ZM596.22,1275.88L626.89,1287.25L626.89,1309.05L596.22,1320.42L565.55,1309.05L565.55,1287.25ZM657.57,1275.88L688.25,1287.25L688.25,1309.05L657.57,1320.42L626.90,1309.05L626.90,1287.25ZM718.92,1275.88L749.59,1287.25L749.59,1309.05L718.92,1320.42L688.25,1309.05L688.25,1287.25ZM780.27,1275.88L810.94,1287.25L810.94,1309.05L780.27,1320.42L749.60,1309.05L749.60,1287.25ZM841.62,1275.88L872.29,1287.25L872.29,1309.05L841.62,1320.42L810.95,1309.05L810.95,1287.25ZM902.97,1275.88L933.64,1287.25L933.64,1309.05L902.97,1320.42L872.30,1309.05L872.30,1287.25ZM964.32,1275.88L995.00,1287.25L995.00,1309.05L964.32,1320.42L933.65,1309.05L933.65,1287.25ZM1025.67,1275.88L1056.35,1287.25L1056.35,1309.05L1025.67,1320.42L995.00,1309.05L995.00,1287.25ZM1087.02,1275.88L1117.69,1287.25L1117.69,1309.05L1087.02,1320.42L1056.35,1309.05L1056.35,1287.25ZM1148.37,1275.88L1179.05,1287.25L1179.05,1309.05L1148.37,1320.42L1117.70,1309.05L1117.70,1287.25ZM1209.72,1275.88L1240.39,1287.25L1240.39,1309.05L1209.72,1320.42L1179.05,1309.05L1179.05,1287.25ZM1271.07,1275.88L1301.74,1287.25L1301.74,1309.05L1271.07,1320.42L1240.39,1309.05L1240.39,1287.25ZM1332.42,1275.88L1363.10,1287.25L1363.10,1309.05L1332.42,1320.42L1301.75,1309.05L1301.75,1287.25ZM1393.77,1275.88L1424.44,1287.25L1424.44,1309.05L1393.77,1320.42L1363.10,1309.05L1363.10,1287.25ZM1455.12,1275.88L1485.80,1287.25L1485.80,1309.05L1455.12,1320.42L1424.45,1309.05L1424.45,1287.25ZM1516.47,1275.88L1547.14,1287.25L1547.14,1309.05L1516.47,1320.42L1485.80,1309.05L1485.80,1287.25ZM1577.82,1275.88L1608.49,1287.25L1608.49,1309.05L1577.82,1320.42L1547.14,1309.05L1547.14,1287.25ZM1639.17,1275.88L1669.85,1287.25L1669.85,1309.05L1639.17,1320.42L1608.50,1309.05L1608.50,1287.25ZM1700.52,1275.88L1731.19,1287.25L1731.19,1309.05L1700.52,1320.42L1669.85,1309.05L1669.85,1287.25ZM1761.87,1275.88L1792.55,1287.25L1792.55,1309.05L1761.87,1320.42L1731.20,1309.05L1731.20,1287.25ZM1823.22,1275.88L1853.89,1287.25L1853.89,1309.05L1823.22,1320.42L1792.55,1309.05L1792.55,1287.25ZM1884.57,1275.88L1915.24,1287.25L1915.24,1309.05L1884.57,1320.42L1853.89,1309.05L1853.89,1287.25ZM1945.92,1275.88L1976.60,1287.25L1976.60,1309.05L1945.92,1320.42L1915.25,1309.05L1915.25,1287.25ZM136.10,1242.71L166.78,1254.08L166.78,1275.88L136.10,1287.25L105.42,1275.88L105.42,1254.08ZM197.45,1242.71L228.12,1254.08L228.12,1275.88L197.45,1287.25L166.77,1275.88L166.77,1254.08ZM258.80,1242.71L289.48,1254.08L289.48,1275.88L258.80,1287.25L228.12,1275.88L228.12,1254.08ZM320.15,1242.71L350.82,1254.08L350.82,1275.88L320.15,1287.25L289.47,1275.88L289.47,1254.08ZM381.50,1242.71L412.18,1254.08L412.18,1275.88L381.50,1287.25L350.82,1275.88L350.82,1254.08ZM442.85,1242.71L473.53,1254.08L473.53,1275.88L442.85,1287.25L412.18,1275.88L412.18,1254.08ZM504.20,1242.71L534.88,1254.08L534.88,1275.88L504.20,1287.25L473.53,1275.88L473.53,1254.08ZM565.55,1242.71L596.22,1254.08L596.22,1275.88L565.55,1287.25L534.88,1275.88L534.88,1254.08ZM626.90,1242.71L657.57,1254.08L657.57,1275.88L626.90,1287.25L596.23,1275.88L596.23,1254.08ZM688.25,1242.71L718.92,1254.08L718.92,1275.88L688.25,1287.25L657.58,1275.88L657.58,1254.08ZM749.60,1242.71L780.27,1254.08L780.27,1275.88L749.60,1287.25L718.93,1275.88L718.93,1254.08ZM810.95,1242.71L841.62,1254.08L841.62,1275.88L810.95,1287.25L780.28,1275.88L780.28,1254.08ZM872.30,1242.71L902.98,1254.08L902.98,1275.88L872.30,1287.25L841.63,1275.88L841.63,1254.08ZM933.65,1242.71L964.33,1254.08L964.33,1275.88L933.65,1287.25L902.98,1275.88L902.98,1254.08ZM995.00,1242.71L1025.67,1254.08L1025.67,1275.88L995.00,1287.25L964.33,1275.88L964.33,1254.08ZM1056.35,1242.71L1087.02,1254.08L1087.02,1275.88L1056.35,1287.25L1025.67,1275.88L1025.67,1254.08ZM1117.70,1242.71L1148.38,1254.08L1148.38,1275.88L1117.70,1287.25L1087.03,1275.88L1087.03,1254.08ZM1179.05,1242.71L1209.72,1254.08L1209.72,1275.88L1179.05,1287.25L1148.38,1275.88L1148.38,1254.08ZM1240.40,1242.71L1271.07,1254.08L1271.07,1275.88L1240.40,1287.25L1209.72,1275.88L1209.72,1254.08ZM1301.75,1242.71L1332.42,1254.08L1332.42,1275.88L1301.75,1287.25L1271.08,1275.88L1271.08,1254.08ZM1363.10,1242.71L1393.77,1254.08L1393.77,1275.88L1363.10,1287.25L1332.42,1275.88L1332.42,1254.08ZM1424.45,1242.71L1455.12,1254.08L1455.12,1275.88L1424.45,1287.25L1393.78,1275.88L1393.78,1254.08ZM1485.80,1242.71L1516.47,1254.08L1516.47,1275.88L1485.80,1287.25L1455.12,1275.88L1455.12,1254.08ZM1547.15,1242.71L1577.82,1254.08L1577.82,1275.88L1547.15,1287.25L1516.47,1275.88L1516.47,1254.08ZM1608.50,1242.71L1639.17,1254.08L1639.17,1275.88L1608.50,1287.25L1577.83,1275.88L1577.83,1254.08ZM1669.85,1242.71L1700.52,1254.08L1700.52,1275.88L1669.85,1287.25L1639.17,1275.88L1639.17,1254.08ZM1731.20,1242.71L1761.88,1254.08L1761.88,1275.88L1731.20,1287.25L1700.53,1275.88L1700.53,1254.08ZM1792.55,1242.71L1823.22,1254.08L1823.22,1275.88L1792.55,1287.25L1761.88,1275.88L1761.88,1254.08ZM1853.90,1242.71L1884.57,1254.08L1884.57,1275.88L1853.90,1287.25L1823.22,1275.88L1823.22,1254.08ZM1915.25,1242.71L1945.92,1254.08L1945.92,1275.88L1915.25,1287.25L1884.58,1275.88L1884.58,1254.08ZM105.42,1209.54L136.10,1220.91L136.10,1242.71L105.42,1254.08L74.75,1242.71L74.75,1220.91ZM166.77,1209.54L197.45,1220.91L197.45,1242.71L166.77,1254.08L136.09,1242.71L136.09,1220.91ZM228.12,1209.54L258.80,1220.91L258.80,1242.71L228.12,1254.08L197.44,1242.71L197.44,1220.91ZM289.47,1209.54L320.15,1220.91L320.15,1242.71L289.47,1254.08L258.80,1242.71L258.80,1220.91ZM350.82,1209.54L381.50,1220.91L381.50,1242.71L350.82,1254.08L320.15,1242.71L320.15,1220.91ZM412.17,1209.54L442.85,1220.91L442.85,1242.71L412.17,1254.08L381.50,1242.71L381.50,1220.91ZM473.52,1209.54L504.19,1220.91L504.19,1242.71L473.52,1254.08L442.84,1242.71L442.84,1220.91ZM534.87,1209.54L565.54,1220.91L565.54,1242.71L534.87,1254.08L504.19,1242.71L504.19,1220.91ZM596.22,1209.54L626.89,1220.91L626.89,1242.71L596.22,1254.08L565.55,1242.71L565.55,1220.91ZM657.57,1209.54L688.25,1220.91L688.25,1242.71L657.57,1254.08L626.90,1242.71L626.90,1220.91ZM718.92,1209.54L749.59,1220.91L749.59,1242.71L718.92,1254.08L688.25,1242.71L688.25,1220.91ZM780.27,1209.54L810.94,1220.91L810.94,1242.71L780.27,1254.08L749.60,1242.71L749.60,1220.91ZM841.62,1209.54L872.29,1220.91L872.29,1242.71L841.62,1254.08L810.95,1242.71L810.95,1220.91ZM902.97,1209.54L933.64,1220.91L933.64,1242.71L902.97,1254.08L872.30,1242.71L872.30,1220.91ZM964.32,1209.54L995.00,1220.91L995.00,1242.71L964.32,1254.08L933.65,1242.71L933.65,1220.91ZM1025.67,1209.54L1056.35,1220.91L1056.35,1242.71L1025.67,1254.08L995.00,1242.71L995.00,1220.91ZM1087.02,1209.54L1117.69,1220.91L1117.69,1242.71L1087.02,1254.08L1056.35,1242.71L1056.35,1220.91ZM1148.37,1209.54L1179.05,1220.91L1179.05,1242.71L1148.37,1254.08L1117.70,1242.71L1117.70,1220.91ZM1209.72,1209.54L1240.39,1220.91L1240.39,1242.71L1209.72,1254.08L1179.05,1242.71L1179.05,1220.91ZM1271.07,1209.54L1301.74,1220.91L1301.74,1242.71L1271.07,1254.08L1240.39,1242.71L1240.39,1220.91ZM1332.42,1209.54L1363.10,1220.91L1363.10,1242.71L1332.42,1254.08L1301.75,1242.71L1301.75,1220.91ZM1393.77,1209.54L1424.44,1220.91L1424.44,1242.71L1393.77,1254.08L1363.10,1242.71L1363.10,1220.91ZM1455.12,1209.54L1485.80,1220.91L1485.80,1242.71L1455.12,1254.08L1424.45,1242.71L1424.45,1220.91ZM1516.47,1209.54L1547.14,1220.91L1547.14,1242.71L1516.47,1254.08L1485.80,1242.71L1485.80,1220.91ZM1577.82,1209.54L1608.49,1220.91L1608.49,1242.71L1577.82,1254.08L1547.14,1242.71L1547.14,1220.91ZM1639.17,1209.54L1669.85,1220.91L1669.85,1242.71L1639.17,1254.08L1608.50,1242.71L1608.50,1220.91ZM1700.52,1209.54L1731.19,1220.91L1731.19,1242.71L1700.52,1254.08L1669.85,1242.71L1669.85,1220.91ZM1761.87,1209.54L1792.55,1220.91L1792.55,1242.71L1761.87,1254.08L1731.20,1242.71L1731.20,1220.91ZM1823.22,1209.54L1853.89,1220.91L1853.89,1242.71L1823.22,1254.08L1792.55,1242.71L1792.55,1220.91ZM1884.57,1209.54L1915.24,1220.91L1915.24,1242.71L1884.57,1254.08L1853.89,1242.71L1853.89,1220.91ZM1945.92,1209.54L1976.60,1220.91L1976.60,1242.71L1945.92,1254.08L1915.25,1242.71L1915.25,1220.91ZM136.10,1176.37L166.78,1187.74L166.78,1209.54L136.10,1220.91L105.42,1209.54L105.42,1187.74ZM197.45,1176.37L228.12,1187.74L228.12,1209.54L197.45,1220.91L166.77,1209.54L166.77,1187.74ZM258.80,1176.37L289.48,1187.74L289.48,1209.54L258.80,1220.91L228.12,1209.54L228.12,1187.74ZM320.15,1176.37L350.82,1187.74L350.82,1209.54L320.15,1220.91L289.47,1209.54L289.47,1187.74ZM381.50,1176.37L412.18,1187.74L412.18,1209.54L381.50,1220.91L350.82,1209.54L350.82,1187.74ZM442.85,1176.37L473.53,1187.74L473.53,1209.54L442.85,1220.91L412.18,1209.54L412.18,1187.74ZM504.20,1176.37L534.88,1187.74L534.88,1209.54L504.20,1220.91L473.53,1209.54L473.53,1187.74ZM565.55,1176.37L596.22,1187.74L596.22,1209.54L565.55,1220.91L534.88,1209.54L534.88,1187.74ZM626.90,1176.37L657.57,1187.74L657.57,1209.54L626.90,1220.91L596.23,1209.54L596.23,1187.74ZM688.25,1176.37L718.92,1187.74L718.92,1209.54L688.25,1220.91L657.58,1209.54L657.58,1187.74ZM749.60,1176.37L780.27,1187.74L780.27,1209.54L749.60,1220.91L718.93,1209.54L718.93,1187.74ZM810.95,1176.37L841.62,1187.74L841.62,1209.54L810.95,1220.91L780.28,1209.54L780.28,1187.74ZM872.30,1176.37L902.98,1187.74L902.98,1209.54L872.30,1220.91L841.63,1209.54L841.63,1187.74ZM933.65,1176.37L964.33,1187.74L964.33,1209.54L933.65,1220.91L902.98,1209.54L902.98,1187.74ZM995.00,1176.37L1025.67,1187.74L1025.67,1209.54L995.00,1220.91L964.33,1209.54L964.33,1187.74ZM1056.35,1176.37L1087.02,1187.74L1087.02,1209.54L1056.35,1220.91L1025.67,1209.54L1025.67,1187.74ZM1117.70,1176.37L1148.38,1187.74L1148.38,1209.54L1117.70,1220.91L1087.03,1209.54L1087.03,1187.74ZM1179.05,1176.37L1209.72,1187.74L1209.72,1209.54L1179.05,1220.91L1148.38,1209.54L1148.38,1187.74ZM1240.40,1176.37L1271.07,1187.74L1271.07,1209.54L1240.40,1220.91L1209.72,1209.54L1209.72,1187.74ZM1301.75,1176.37L1332.42,1187.74L1332.42,1209.54L1301.75,1220.91L1271.08,1209.54L1271.08,1187.74ZM1363.10,1176.37L1393.77,1187.74L1393.77,1209.54L1363.10,1220.91L1332.42,1209.54L1332.42,1187.74ZM1424.45,1176.37L1455.12,1187.74L1455.12,1209.54L1424.45,1220.91L1393.78,1209.54L1393.78,1187.74ZM1485.80,1176.37L1516.47,1187.74L1516.47,1209.54L1485.80,1220.91L1455.12,1209.54L1455.12,1187.74ZM1547.15,1176.37L1577.82,1187.74L1577.82,1209.54L1547.15,1220.91L1516.47,1209.54L1516.47,1187.74ZM1608.50,1176.37L1639.17,1187.74L1639.17,1209.54L1608.50,1220.91L1577.83,1209.54L1577.83,1187.74ZM1669.85,1176.37L1700.52,1187.74L1700.52,1209.54L1669.85,1220.91L1639.17,1209.54L1639.17,1187.74ZM1731.20,1176.37L1761.88,1187.74L1761.88,1209.54L1731.20,1220.91L1700.53,1209.54L1700.53,1187.74ZM1792.55,1176.37L1823.22,1187.74L1823.22,1209.54L1792.55,1220.91L1761.88,1209.54L1761.88,1187.74ZM1853.90,1176.37L1884.57,1187.74L1884.57,1209.54L1853.90,1220.91L1823.22,1209.54L1823.22,1187.74ZM1915.25,1176.37L1945.92,1187.74L1945.92,1209.54L1915.25,1220.91L1884.58,1209.54L1884.58,1187.74ZM105.42,1143.20L136.10,1154.57L136.10,1176.37L105.42,1187.74L74.75,1176.37L74.75,1154.57ZM166.77,1143.20L197.45,1154.57L197.45,1176.37L166.77,1187.74L136.09,1176.37L136.09,1154.57ZM228.12,1143.20L258.80,1154.57L258.80,1176.37L228.12,1187.74L197.44,1176.37L197.44,1154.57ZM289.47,1143.20L320.15,1154.57L320.15,1176.37L289.47,1187.74L258.80,1176.37L258.80,1154.57ZM350.82,1143.20L381.50,1154.57L381.50,1176.37L350.82,1187.74L320.15,1176.37L320.15,1154.57ZM412.17,1143.20L442.85,1154.57L442.85,1176.37L412.17,1187.74L381.50,1176.37L381.50,1154.57ZM473.52,1143.20L504.19,1154.57L504.19,1176.37L473.52,1187.74L442.84,1176.37L442.84,1154.57ZM534.87,1143.20L565.54,1154.57L565.54,1176.37L534.87,1187.74L504.19,1176.37L504.19,1154.57ZM596.22,1143.20L626.89,1154.57L626.89,1176.37L596.22,1187.74L565.55,1176.37L565.55,1154.57ZM657.57,1143.20L688.25,1154.57L688.25,1176.37L657.57,1187.74L626.90,1176.37L626.90,1154.57ZM718.92,1143.20L749.59,1154.57L749.59,1176.37L718.92,1187.74L688.25,1176.37L688.25,1154.57ZM780.27,1143.20L810.94,1154.57L810.94,1176.37L780.27,1187.74L749.60,1176.37L749.60,1154.57ZM841.62,1143.20L872.29,1154.57L872.29,1176.37L841.62,1187.74L810.95,1176.37L810.95,1154.57ZM902.97,1143.20L933.64,1154.57L933.64,1176.37L902.97,1187.74L872.30,1176.37L872.30,1154.57ZM964.32,1143.20L995.00,1154.57L995.00,1176.37L964.32,1187.74L933.65,1176.37L933.65,1154.57ZM1025.67,1143.20L1056.35,1154.57L1056.35,1176.37L1025.67,1187.74L995.00,1176.37L995.00,1154.57ZM1087.02,1143.20L1117.69,1154.57L1117.69,1176.37L1087.02,1187.74L1056.35,1176.37L1056.35,1154.57ZM1148.37,1143.20L1179.05,1154.57L1179.05,1176.37L1148.37,1187.74L1117.70,1176.37L1117.70,1154.57ZM1209.72,1143.20L1240.39,1154.57L1240.39,1176.37L1209.72,1187.74L1179.05,1176.37L1179.05,1154.57ZM1271.07,1143.20L1301.74,1154.57L1301.74,1176.37L1271.07,1187.74L1240.39,1176.37L1240.39,1154.57ZM1332.42,1143.20L1363.10,1154.57L1363.10,1176.37L1332.42,1187.74L1301.75,1176.37L1301.75,1154.57ZM1393.77,1143.20L1424.44,1154.57L1424.44,1176.37L1393.77,1187.74L1363.10,1176.37L1363.10,1154.57ZM1455.12,1143.20L1485.80,1154.57L1485.80,1176.37L1455.12,1187.74L1424.45,1176.37L1424.45,1154.57ZM1516.47,1143.20L1547.14,1154.57L1547.14,1176.37L1516.47,1187.74L1485.80,1176.37L1485.80,1154.57ZM1577.82,1143.20L1608.49,1154.57L1608.49,1176.37L1577.82,1187.74L1547.14,1176.37L1547.14,1154.57ZM1639.17,1143.20L1669.85,1154.57L1669.85,1176.37L1639.17,1187.74L1608.50,1176.37L1608.50,1154.57ZM1700.52,1143.20L1731.19,1154.57L1731.19,1176.37L1700.52,1187.74L1669.85,1176.37L1669.85,1154.57ZM1761.87,1143.20L1792.55,1154.57L1792.55,1176.37L1761.87,1187.74L1731.20,1176.37L1731.20,1154.57ZM1823.22,1143.20L1853.89,1154.57L1853.89,1176.37L1823.22,1187.74L1792.55,1176.37L1792.55,1154.57ZM1884.57,1143.20L1915.24,1154.57L1915.24,1176.37L1884.57,1187.74L1853.89,1176.37L1853.89,1154.57ZM1945.92,1143.20L1976.60,1154.57L1976.60,1176.37L1945.92,1187.74L1915.25,1176.37L1915.25,1154.57ZM136.10,1110.03L166.78,1121.40L166.78,1143.20L136.10,1154.57L105.42,1143.20L105.42,1121.40ZM197.45,1110.03L228.12,1121.40L228.12,1143.20L197.45,1154.57L166.77,1143.20L166.77,1121.40ZM258.80,1110.03L289.48,1121.40L289.48,1143.20L258.80,1154.57L228.12,1143.20L228.12,1121.40ZM320.15,1110.03L350.82,1121.40L350.82,1143.20L320.15,1154.57L289.47,1143.20L289.47,1121.40ZM381.50,1110.03L412.18,1121.40L412.18,1143.20L381.50,1154.57L350.82,1143.20L350.82,1121.40ZM442.85,1110.03L473.53,1121.40L473.53,1143.20L442.85,1154.57L412.18,1143.20L412.18,1121.40ZM504.20,1110.03L534.88,1121.40L534.88,1143.20L504.20,1154.57L473.53,1143.20L473.53,1121.40ZM565.55,1110.03L596.22,1121.40L596.22,1143.20L565.55,1154.57L534.88,1143.20L534.88,1121.40ZM626.90,1110.03L657.57,1121.40L657.57,1143.20L626.90,1154.57L596.23,1143.20L596.23,1121.40ZM688.25,1110.03L718.92,1121.40L718.92,1143.20L688.25,1154.57L657.58,1143.20L657.58,1121.40ZM749.60,1110.03L780.27,1121.40L780.27,1143.20L749.60,1154.57L718.93,1143.20L718.93,1121.40ZM810.95,1110.03L841.62,1121.40L841.62,1143.20L810.95,1154.57L780.28,1143.20L780.28,1121.40ZM872.30,1110.03L902.98,1121.40L902.98,1143.20L872.30,1154.57L841.63,1143.20L841.63,1121.40ZM933.65,1110.03L964.33,1121.40L964.33,1143.20L933.65,1154.57L902.98,1143.20L902.98,1121.40ZM995.00,1110.03L1025.67,1121.40L1025.67,1143.20L995.00,1154.57L964.33,1143.20L964.33,1121.40ZM1056.35,1110.03L1087.02,1121.40L1087.02,1143.20L1056.35,1154.57L1025.67,1143.20L1025.67,1121.40ZM1117.70,1110.03L1148.38,1121.40L1148.38,1143.20L1117.70,1154.57L1087.03,1143.20L1087.03,1121.40ZM1179.05,1110.03L1209.72,1121.40L1209.72,1143.20L1179.05,1154.57L1148.38,1143.20L1148.38,1121.40ZM1240.40,1110.03L1271.07,1121.40L1271.07,1143.20L1240.40,1154.57L1209.72,1143.20L1209.72,1121.40ZM1301.75,1110.03L1332.42,1121.40L1332.42,1143.20L1301.75,1154.57L1271.08,1143.20L1271.08,1121.40ZM1363.10,1110.03L1393.77,1121.40L1393.77,1143.20L1363.10,1154.57L1332.42,1143.20L1332.42,1121.40ZM1424.45,1110.03L1455.12,1121.40L1455.12,1143.20L1424.45,1154.57L1393.78,1143.20L1393.78,1121.40ZM1485.80,1110.03L1516.47,1121.40L1516.47,1143.20L1485.80,1154.57L1455.12,1143.20L1455.12,1121.40ZM1547.15,1110.03L1577.82,1121.40L1577.82,1143.20L1547.15,1154.57L1516.47,1143.20L1516.47,1121.40ZM1608.50,1110.03L1639.17,1121.40L1639.17,1143.20L1608.50,1154.57L1577.83,1143.20L1577.83,1121.40ZM1669.85,1110.03L1700.52,1121.40L1700.52,1143.20L1669.85,1154.57L1639.17,1143.20L1639.17,1121.40ZM1731.20,1110.03L1761.88,1121.40L1761.88,1143.20L1731.20,1154.57L1700.53,1143.20L1700.53,1121.40ZM1792.55,1110.03L1823.22,1121.40L1823.22,1143.20L1792.55,1154.57L1761.88,1143.20L1761.88,1121.40ZM1853.90,1110.03L1884.57,1121.40L1884.57,1143.20L1853.90,1154.57L1823.22,1143.20L1823.22,1121.40ZM1915.25,1110.03L1945.92,1121.40L1945.92,1143.20L1915.25,1154.57L1884.58,1143.20L1884.58,1121.40ZM105.42,1076.86L136.10,1088.23L136.10,1110.03L105.42,1121.40L74.75,1110.03L74.75,1088.23ZM166.77,1076.86L197.45,1088.23L197.45,1110.03L166.77,1121.40L136.09,1110.03L136.09,1088.23ZM228.12,1076.86L258.80,1088.23L258.80,1110.03L228.12,1121.40L197.44,1110.03L197.44,1088.23ZM289.47,1076.86L320.15,1088.23L320.15,1110.03L289.47,1121.40L258.80,1110.03L258.80,1088.23ZM350.82,1076.86L381.50,1088.23L381.50,1110.03L350.82,1121.40L320.15,1110.03L320.15,1088.23ZM412.17,1076.86L442.85,1088.23L442.85,1110.03L412.17,1121.40L381.50,1110.03L381.50,1088.23ZM473.52,1076.86L504.19,1088.23L504.19,1110.03L473.52,1121.40L442.84,1110.03L442.84,1088.23ZM534.87,1076.86L565.54,1088.23L565.54,1110.03L534.87,1121.40L504.19,1110.03L504.19,1088.23ZM596.22,1076.86L626.89,1088.23L626.89,1110.03L596.22,1121.40L565.55,1110.03L565.55,1088.23ZM657.57,1076.86L688.25,1088.23L688.25,1110.03L657.57,1121.40L626.90,1110.03L626.90,1088.23ZM718.92,1076.86L749.59,1088.23L749.59,1110.03L718.92,1121.40L688.25,1110.03L688.25,1088.23ZM780.27,1076.86L810.94,1088.23L810.94,1110.03L780.27,1121.40L749.60,1110.03L749.60,1088.23ZM841.62,1076.86L872.29,1088.23L872.29,1110.03L841.62,1121.40L810.95,1110.03L810.95,1088.23ZM902.97,1076.86L933.64,1088.23L933.64,1110.03L902.97,1121.40L872.30,1110.03L872.30,1088.23ZM964.32,1076.86L995.00,1088.23L995.00,1110.03L964.32,1121.40L933.65,1110.03L933.65,1088.23ZM1025.67,1076.86L1056.35,1088.23L1056.35,1110.03L1025.67,1121.40L995.00,1110.03L995.00,1088.23ZM1087.02,1076.86L1117.69,1088.23L1117.69,1110.03L1087.02,1121.40L1056.35,1110.03L1056.35,1088.23ZM1148.37,1076.86L1179.05,1088.23L1179.05,1110.03L1148.37,1121.40L1117.70,1110.03L1117.70,1088.23ZM1209.72,1076.86L1240.39,1088.23L1240.39,1110.03L1209.72,1121.40L1179.05,1110.03L1179.05,1088.23ZM1271.07,1076.86L1301.74,1088.23L1301.74,1110.03L1271.07,1121.40L1240.39,1110.03L1240.39,1088.23ZM1332.42,1076.86L1363.10,1088.23L1363.10,1110.03L1332.42,1121.40L1301.75,1110.03L1301.75,1088.23ZM1393.77,1076.86L1424.44,1088.23L1424.44,1110.03L1393.77,1121.40L1363.10,1110.03L1363.10,1088.23ZM1455.12,1076.86L1485.80,1088.23L1485.80,1110.03L1455.12,1121.40L1424.45,1110.03L1424.45,1088.23ZM1516.47,1076.86L1547.14,1088.23L1547.14,1110.03L1516.47,1121.40L1485.80,1110.03L1485.80,1088.23ZM1577.82,1076.86L1608.49,1088.23L1608.49,1110.03L1577.82,1121.40L1547.14,1110.03L1547.14,1088.23ZM1639.17,1076.86L1669.85,1088.23L1669.85,1110.03L1639.17,1121.40L1608.50,1110.03L1608.50,1088.23ZM1700.52,1076.86L1731.19,1088.23L1731.19,1110.03L1700.52,1121.40L1669.85,1110.03L1669.85,1088.23ZM1761.87,1076.86L1792.55,1088.23L1792.55,1110.03L1761.87,1121.40L1731.20,1110.03L1731.20,1088.23ZM1823.22,1076.86L1853.89,1088.23L1853.89,1110.03L1823.22,1121.40L1792.55,1110.03L1792.55,1088.23ZM1884.57,1076.86L1915.24,1088.23L1915.24,1110.03L1884.57,1121.40L1853.89,1110.03L1853.89,1088.23ZM1945.92,1076.86L1976.60,1088.23L1976.60,1110.03L1945.92,1121.40L1915.25,1110.03L1915.25,1088.23ZM136.10,1043.69L166.78,1055.06L166.78,1076.86L136.10,1088.23L105.42,1076.86L105.42,1055.06ZM197.45,1043.69L228.12,1055.06L228.12,1076.86L197.45,1088.23L166.77,1076.86L166.77,1055.06ZM258.80,1043.69L289.48,1055.06L289.48,1076.86L258.80,1088.23L228.12,1076.86L228.12,1055.06ZM320.15,1043.69L350.82,1055.06L350.82,1076.86L320.15,1088.23L289.47,1076.86L289.47,1055.06ZM381.50,1043.69L412.18,1055.06L412.18,1076.86L381.50,1088.23L350.82,1076.86L350.82,1055.06ZM442.85,1043.69L473.53,1055.06L473.53,1076.86L442.85,1088.23L412.18,1076.86L412.18,1055.06ZM504.20,1043.69L534.88,1055.06L534.88,1076.86L504.20,1088.23L473.53,1076.86L473.53,1055.06ZM565.55,1043.69L596.22,1055.06L596.22,1076.86L565.55,1088.23L534.88,1076.86L534.88,1055.06ZM626.90,1043.69L657.57,1055.06L657.57,1076.86L626.90,1088.23L596.23,1076.86L596.23,1055.06ZM688.25,1043.69L718.92,1055.06L718.92,1076.86L688.25,1088.23L657.58,1076.86L657.58,1055.06ZM749.60,1043.69L780.27,1055.06L780.27,1076.86L749.60,1088.23L718.93,1076.86L718.93,1055.06ZM810.95,1043.69L841.62,1055.06L841.62,1076.86L810.95,1088.23L780.28,1076.86L780.28,1055.06ZM872.30,1043.69L902.98,1055.06L902.98,1076.86L872.30,1088.23L841.63,1076.86L841.63,1055.06ZM933.65,1043.69L964.33,1055.06L964.33,1076.86L933.65,1088.23L902.98,1076.86L902.98,1055.06ZM995.00,1043.69L1025.67,1055.06L1025.67,1076.86L995.00,1088.23L964.33,1076.86L964.33,1055.06ZM1056.35,1043.69L1087.02,1055.06L1087.02,1076.86L1056.35,1088.23L1025.67,1076.86L1025.67,1055.06ZM1117.70,1043.69L1148.38,1055.06L1148.38,1076.86L1117.70,1088.23L1087.03,1076.86L1087.03,1055.06ZM1179.05,1043.69L1209.72,1055.06L1209.72,1076.86L1179.05,1088.23L1148.38,1076.86L1148.38,1055.06ZM1240.40,1043.69L1271.07,1055.06L1271.07,1076.86L1240.40,1088.23L1209.72,1076.86L1209.72,1055.06ZM1301.75,1043.69L1332.42,1055.06L1332.42,1076.86L1301.75,1088.23L1271.08,1076.86L1271.08,1055.06ZM1363.10,1043.69L1393.77,1055.06L1393.77,1076.86L1363.10,1088.23L1332.42,1076.86L1332.42,1055.06ZM1424.45,1043.69L1455.12,1055.06L1455.12,1076.86L1424.45,1088.23L1393.78,1076.86L1393.78,1055.06ZM1485.80,1043.69L1516.47,1055.06L1516.47,1076.86L1485.80,1088.23L1455.12,1076.86L1455.12,1055.06ZM1547.15,1043.69L1577.82,1055.06L1577.82,1076.86L1547.15,1088.23L1516.47,1076.86L1516.47,1055.06ZM1608.50,1043.69L1639.17,1055.06L1639.17,1076.86L1608.50,1088.23L1577.83,1076.86L1577.83,1055.06ZM1669.85,1043.69L1700.52,1055.06L1700.52,1076.86L1669.85,1088.23L1639.17,1076.86L1639.17,1055.06ZM1731.20,1043.69L1761.88,1055.06L1761.88,1076.86L1731.20,1088.23L1700.53,1076.86L1700.53,1055.06ZM1792.55,1043.69L1823.22,1055.06L1823.22,1076.86L1792.55,1088.23L1761.88,1076.86L1761.88,1055.06ZM1853.90,1043.69L1884.57,1055.06L1884.57,1076.86L1853.90,1088.23L1823.22,1076.86L1823.22,1055.06ZM1915.25,1043.69L1945.92,1055.06L1945.92,1076.86L1915.25,1088.23L1884.58,1076.86L1884.58,1055.06ZM105.42,1010.52L136.10,1021.89L136.10,1043.69L105.42,1055.06L74.75,1043.69L74.75,1021.89ZM166.77,1010.52L197.45,1021.89L197.45,1043.69L166.77,1055.06L136.09,1043.69L136.09,1021.89ZM228.12,1010.52L258.80,1021.89L258.80,1043.69L228.12,1055.06L197.44,1043.69L197.44,1021.89ZM289.47,1010.52L320.15,1021.89L320.15,1043.69L289.47,1055.06L258.80,1043.69L258.80,1021.89ZM350.82,1010.52L381.50,1021.89L381.50,1043.69L350.82,1055.06L320.15,1043.69L320.15,1021.89ZM412.17,1010.52L442.85,1021.89L442.85,1043.69L412.17,1055.06L381.50,1043.69L381.50,1021.89ZM473.52,1010.52L504.19,1021.89L504.19,1043.69L473.52,1055.06L442.84,1043.69L442.84,1021.89ZM534.87,1010.52L565.54,1021.89L565.54,1043.69L534.87,1055.06L504.19,1043.69L504.19,1021.89ZM596.22,1010.52L626.89,1021.89L626.89,1043.69L596.22,1055.06L565.55,1043.69L565.55,1021.89ZM657.57,1010.52L688.25,1021.89L688.25,1043.69L657.57,1055.06L626.90,1043.69L626.90,1021.89ZM718.92,1010.52L749.59,1021.89L749.59,1043.69L718.92,1055.06L688.25,1043.69L688.25,1021.89ZM780.27,1010.52L810.94,1021.89L810.94,1043.69L780.27,1055.06L749.60,1043.69L749.60,1021.89ZM841.62,1010.52L872.29,1021.89L872.29,1043.69L841.62,1055.06L810.95,1043.69L810.95,1021.89ZM902.97,1010.52L933.64,1021.89L933.64,1043.69L902.97,1055.06L872.30,1043.69L872.30,1021.89ZM964.32,1010.52L995.00,1021.89L995.00,1043.69L964.32,1055.06L933.65,1043.69L933.65,1021.89ZM1025.67,1010.52L1056.35,1021.89L1056.35,1043.69L1025.67,1055.06L995.00,1043.69L995.00,1021.89ZM1087.02,1010.52L1117.69,1021.89L1117.69,1043.69L1087.02,1055.06L1056.35,1043.69L1056.35,1021.89ZM1148.37,1010.52L1179.05,1021.89L1179.05,1043.69L1148.37,1055.06L1117.70,1043.69L1117.70,1021.89ZM1209.72,1010.52L1240.39,1021.89L1240.39,1043.69L1209.72,1055.06L1179.05,1043.69L1179.05,1021.89ZM1271.07,1010.52L1301.74,1021.89L1301.74,1043.69L1271.07,1055.06L1240.39,1043.69L1240.39,1021.89ZM1332.42,1010.52L1363.10,1021.89L1363.10,1043.69L1332.42,1055.06L1301.75,1043.69L1301.75,1021.89ZM1393.77,1010.52L1424.44,1021.89L1424.44,1043.69L1393.77,1055.06L1363.10,1043.69L1363.10,1021.89ZM1455.12,1010.52L1485.80,1021.89L1485.80,1043.69L1455.12,1055.06L1424.45,1043.69L1424.45,1021.89ZM1516.47,1010.52L1547.14,1021.89L1547.14,1043.69L1516.47,1055.06L1485.80,1043.69L1485.80,1021.89ZM1577.82,1010.52L1608.49,1021.89L1608.49,1043.69L1577.82,1055.06L1547.14,1043.69L1547.14,1021.89ZM1639.17,1010.52L1669.85,1021.89L1669.85,1043.69L1639.17,1055.06L1608.50,1043.69L1608.50,1021.89ZM1700.52,1010.52L1731.19,1021.89L1731.19,1043.69L1700.52,1055.06L1669.85,1043.69L1669.85,1021.89ZM1761.87,1010.52L1792.55,1021.89L1792.55,1043.69L1761.87,1055.06L1731.20,1043.69L1731.20,1021.89ZM1823.22,1010.52L1853.89,1021.89L1853.89,1043.69L1823.22,1055.06L1792.55,1043.69L1792.55,1021.89ZM1884.57,1010.52L1915.24,1021.89L1915.24,1043.69L1884.57,1055.06L1853.89,1043.69L1853.89,1021.89ZM1945.92,1010.52L1976.60,1021.89L1976.60,1043.69L1945.92,1055.06L1915.25,1043.69L1915.25,1021.89ZM136.10,977.35L166.78,988.72L166.78,1010.52L136.10,1021.89L105.42,1010.52L105.42,988.72ZM197.45,977.35L228.12,988.72L228.12,1010.52L197.45,1021.89L166.77,1010.52L166.77,988.72ZM258.80,977.35L289.48,988.72L289.48,1010.52L258.80,1021.89L228.12,1010.52L228.12,988.72ZM320.15,977.35L350.82,988.72L350.82,1010.52L320.15,1021.89L289.47,1010.52L289.47,988.72ZM381.50,977.35L412.18,988.72L412.18,1010.52L381.50,1021.89L350.82,1010.52L350.82,988.72ZM442.85,977.35L473.53,988.72L473.53,1010.52L442.85,1021.89L412.18,1010.52L412.18,988.72ZM504.20,977.35L534.88,988.72L534.88,1010.52L504.20,1021.89L473.53,1010.52L473.53,988.72ZM565.55,977.35L596.22,988.72L596.22,1010.52L565.55,1021.89L534.88,1010.52L534.88,988.72ZM626.90,977.35L657.57,988.72L657.57,1010.52L626.90,1021.89L596.23,1010.52L596.23,988.72ZM688.25,977.35L718.92,988.72L718.92,1010.52L688.25,1021.89L657.58,1010.52L657.58,988.72ZM749.60,977.35L780.27,988.72L780.27,1010.52L749.60,1021.89L718.93,1010.52L718.93,988.72ZM810.95,977.35L841.62,988.72L841.62,1010.52L810.95,1021.89L780.28,1010.52L780.28,988.72ZM872.30,977.35L902.98,988.72L902.98,1010.52L872.30,1021.89L841.63,1010.52L841.63,988.72ZM933.65,977.35L964.33,988.72L964.33,1010.52L933.65,1021.89L902.98,1010.52L902.98,988.72ZM995.00,977.35L1025.67,988.72L1025.67,1010.52L995.00,1021.89L964.33,1010.52L964.33,988.72ZM1056.35,977.35L1087.02,988.72L1087.02,1010.52L1056.35,1021.89L1025.67,1010.52L1025.67,988.72ZM1117.70,977.35L1148.38,988.72L1148.38,1010.52L1117.70,1021.89L1087.03,1010.52L1087.03,988.72ZM1179.05,977.35L1209.72,988.72L1209.72,1010.52L1179.05,1021.89L1148.38,1010.52L1148.38,988.72ZM1240.40,977.35L1271.07,988.72L1271.07,1010.52L1240.40,1021.89L1209.72,1010.52L1209.72,988.72ZM1301.75,977.35L1332.42,988.72L1332.42,1010.52L1301.75,1021.89L1271.08,1010.52L1271.08,988.72ZM1363.10,977.35L1393.77,988.72L1393.77,1010.52L1363.10,1021.89L1332.42,1010.52L1332.42,988.72ZM1424.45,977.35L1455.12,988.72L1455.12,1010.52L1424.45,1021.89L1393.78,1010.52L1393.78,988.72ZM1485.80,977.35L1516.47,988.72L1516.47,1010.52L1485.80,1021.89L1455.12,1010.52L1455.12,988.72ZM1547.15,977.35L1577.82,988.72L1577.82,1010.52L1547.15,1021.89L1516.47,1010.52L1516.47,988.72ZM1608.50,977.35L1639.17,988.72L1639.17,1010.52L1608.50,1021.89L1577.83,1010.52L1577.83,988.72ZM1669.85,977.35L1700.52,988.72L1700.52,1010.52L1669.85,1021.89L1639.17,1010.52L1639.17,988.72ZM1731.20,977.35L1761.88,988.72L1761.88,1010.52L1731.20,1021.89L1700.53,1010.52L1700.53,988.72ZM1792.55,977.35L1823.22,988.72L1823.22,1010.52L1792.55,1021.89L1761.88,1010.52L1761.88,988.72ZM1853.90,977.35L1884.57,988.72L1884.57,1010.52L1853.90,1021.89L1823.22,1010.52L1823.22,988.72ZM1915.25,977.35L1945.92,988.72L1945.92,1010.52L1915.25,1021.89L1884.58,1010.52L1884.58,988.72ZM105.42,944.18L136.10,955.55L136.10,977.35L105.42,988.72L74.75,977.35L74.75,955.55ZM166.77,944.18L197.45,955.55L197.45,977.35L166.77,988.72L136.09,977.35L136.09,955.55ZM228.12,944.18L258.80,955.55L258.80,977.35L228.12,988.72L197.44,977.35L197.44,955.55ZM289.47,944.18L320.15,955.55L320.15,977.35L289.47,988.72L258.80,977.35L258.80,955.55ZM350.82,944.18L381.50,955.55L381.50,977.35L350.82,988.72L320.15,977.35L320.15,955.55ZM412.17,944.18L442.85,955.55L442.85,977.35L412.17,988.72L381.50,977.35L381.50,955.55ZM473.52,944.18L504.19,955.55L504.19,977.35L473.52,988.72L442.84,977.35L442.84,955.55ZM534.87,944.18L565.54,955.55L565.54,977.35L534.87,988.72L504.19,977.35L504.19,955.55ZM596.22,944.18L626.89,955.55L626.89,977.35L596.22,988.72L565.55,977.35L565.55,955.55ZM657.57,944.18L688.25,955.55L688.25,977.35L657.57,988.72L626.90,977.35L626.90,955.55ZM718.92,944.18L749.59,955.55L749.59,977.35L718.92,988.72L688.25,977.35L688.25,955.55ZM780.27,944.18L810.94,955.55L810.94,977.35L780.27,988.72L749.60,977.35L749.60,955.55ZM841.62,944.18L872.29,955.55L872.29,977.35L841.62,988.72L810.95,977.35L810.95,955.55ZM902.97,944.18L933.64,955.55L933.64,977.35L902.97,988.72L872.30,977.35L872.30,955.55ZM964.32,944.18L995.00,955.55L995.00,977.35L964.32,988.72L933.65,977.35L933.65,955.55ZM1025.67,944.18L1056.35,955.55L1056.35,977.35L1025.67,988.72L995.00,977.35L995.00,955.55ZM1087.02,944.18L1117.69,955.55L1117.69,977.35L1087.02,988.72L1056.35,977.35L1056.35,955.55ZM1148.37,944.18L1179.05,955.55L1179.05,977.35L1148.37,988.72L1117.70,977.35L1117.70,955.55ZM1209.72,944.18L1240.39,955.55L1240.39,977.35L1209.72,988.72L1179.05,977.35L1179.05,955.55ZM1271.07,944.18L1301.74,955.55L1301.74,977.35L1271.07,988.72L1240.39,977.35L1240.39,955.55ZM1332.42,944.18L1363.10,955.55L1363.10,977.35L1332.42,988.72L1301.75,977.35L1301.75,955.55ZM1393.77,944.18L1424.44,955.55L1424.44,977.35L1393.77,988.72L1363.10,977.35L1363.10,955.55ZM1455.12,944.18L1485.80,955.55L1485.80,977.35L1455.12,988.72L1424.45,977.35L1424.45,955.55ZM1516.47,944.18L1547.14,955.55L1547.14,977.35L1516.47,988.72L1485.80,977.35L1485.80,955.55ZM1577.82,944.18L1608.49,955.55L1608.49,977.35L1577.82,988.72L1547.14,977.35L1547.14,955.55ZM1639.17,944.18L1669.85,955.55L1669.85,977.35L1639.17,988.72L1608.50,977.35L1608.50,955.55ZM1700.52,944.18L1731.19,955.55L1731.19,977.35L1700.52,988.72L1669.85,977.35L1669.85,955.55ZM1761.87,944.18L1792.55,955.55L1792.55,977.35L1761.87,988.72L1731.20,977.35L1731.20,955.55ZM1823.22,944.18L1853.89,955.55L1853.89,977.35L1823.22,988.72L1792.55,977.35L1792.55,955.55ZM1884.57,944.18L1915.24,955.55L1915.24,977.35L1884.57,988.72L1853.89,977.35L1853.89,955.55ZM1945.92,944.18L1976.60,955.55L1976.60,977.35L1945.92,988.72L1915.25,977.35L1915.25,955.55ZM136.10,911.01L166.78,922.38L166.78,944.18L136.10,955.55L105.42,944.18L105.42,922.38ZM197.45,911.01L228.12,922.38L228.12,944.18L197.45,955.55L166.77,944.18L166.77,922.38ZM258.80,911.01L289.48,922.38L289.48,944.18L258.80,955.55L228.12,944.18L228.12,922.38ZM320.15,911.01L350.82,922.38L350.82,944.18L320.15,955.55L289.47,944.18L289.47,922.38ZM381.50,911.01L412.18,922.38L412.18,944.18L381.50,955.55L350.82,944.18L350.82,922.38ZM442.85,911.01L473.53,922.38L473.53,944.18L442.85,955.55L412.18,944.18L412.18,922.38ZM504.20,911.01L534.88,922.38L534.88,944.18L504.20,955.55L473.53,944.18L473.53,922.38ZM565.55,911.01L596.22,922.38L596.22,944.18L565.55,955.55L534.88,944.18L534.88,922.38ZM626.90,911.01L657.57,922.38L657.57,944.18L626.90,955.55L596.23,944.18L596.23,922.38ZM688.25,911.01L718.92,922.38L718.92,944.18L688.25,955.55L657.58,944.18L657.58,922.38ZM749.60,911.01L780.27,922.38L780.27,944.18L749.60,955.55L718.93,944.18L718.93,922.38ZM810.95,911.01L841.62,922.38L841.62,944.18L810.95,955.55L780.28,944.18L780.28,922.38ZM872.30,911.01L902.98,922.38L902.98,944.18L872.30,955.55L841.63,944.18L841.63,922.38ZM933.65,911.01L964.33,922.38L964.33,944.18L933.65,955.55L902.98,944.18L902.98,922.38ZM995.00,911.01L1025.67,922.38L1025.67,944.18L995.00,955.55L964.33,944.18L964.33,922.38ZM1056.35,911.01L1087.02,922.38L1087.02,944.18L1056.35,955.55L1025.67,944.18L1025.67,922.38ZM1117.70,911.01L1148.38,922.38L1148.38,944.18L1117.70,955.55L1087.03,944.18L1087.03,922.38ZM1179.05,911.01L1209.72,922.38L1209.72,944.18L1179.05,955.55L1148.38,944.18L1148.38,922.38ZM1240.40,911.01L1271.07,922.38L1271.07,944.18L1240.40,955.55L1209.72,944.18L1209.72,922.38ZM1301.75,911.01L1332.42,922.38L1332.42,944.18L1301.75,955.55L1271.08,944.18L1271.08,922.38ZM1363.10,911.01L1393.77,922.38L1393.77,944.18L1363.10,955.55L1332.42,944.18L1332.42,922.38ZM1424.45,911.01L1455.12,922.38L1455.12,944.18L1424.45,955.55L1393.78,944.18L1393.78,922.38ZM1485.80,911.01L1516.47,922.38L1516.47,944.18L1485.80,955.55L1455.12,944.18L1455.12,922.38ZM1547.15,911.01L1577.82,922.38L1577.82,944.18L1547.15,955.55L1516.47,944.18L1516.47,922.38ZM1608.50,911.01L1639.17,922.38L1639.17,944.18L1608.50,955.55L1577.83,944.18L1577.83,922.38ZM1669.85,911.01L1700.52,922.38L1700.52,944.18L1669.85,955.55L1639.17,944.18L1639.17,922.38ZM1731.20,911.01L1761.88,922.38L1761.88,944.18L1731.20,955.55L1700.53,944.18L1700.53,922.38ZM1792.55,911.01L1823.22,922.38L1823.22,944.18L1792.55,955.55L1761.88,944.18L1761.88,922.38ZM1853.90,911.01L1884.57,922.38L1884.57,944.18L1853.90,955.55L1823.22,944.18L1823.22,922.38ZM1915.25,911.01L1945.92,922.38L1945.92,944.18L1915.25,955.55L1884.58,944.18L1884.58,922.38ZM105.42,877.84L136.10,889.21L136.10,911.01L105.42,922.38L74.75,911.01L74.75,889.21ZM166.77,877.84L197.45,889.21L197.45,911.01L166.77,922.38L136.09,911.01L136.09,889.21ZM228.12,877.84L258.80,889.21L258.80,911.01L228.12,922.38L197.44,911.01L197.44,889.21ZM289.47,877.84L320.15,889.21L320.15,911.01L289.47,922.38L258.80,911.01L258.80,889.21ZM350.82,877.84L381.50,889.21L381.50,911.01L350.82,922.38L320.15,911.01L320.15,889.21ZM412.17,877.84L442.85,889.21L442.85,911.01L412.17,922.38L381.50,911.01L381.50,889.21ZM473.52,877.84L504.19,889.21L504.19,911.01L473.52,922.38L442.84,911.01L442.84,889.21ZM534.87,877.84L565.54,889.21L565.54,911.01L534.87,922.38L504.19,911.01L504.19,889.21ZM596.22,877.84L626.89,889.21L626.89,911.01L596.22,922.38L565.55,911.01L565.55,889.21ZM657.57,877.84L688.25,889.21L688.25,911.01L657.57,922.38L626.90,911.01L626.90,889.21ZM718.92,877.84L749.59,889.21L749.59,911.01L718.92,922.38L688.25,911.01L688.25,889.21ZM780.27,877.84L810.94,889.21L810.94,911.01L780.27,922.38L749.60,911.01L749.60,889.21ZM841.62,877.84L872.29,889.21L872.29,911.01L841.62,922.38L810.95,911.01L810.95,889.21ZM902.97,877.84L933.64,889.21L933.64,911.01L902.97,922.38L872.30,911.01L872.30,889.21ZM964.32,877.84L995.00,889.21L995.00,911.01L964.32,922.38L933.65,911.01L933.65,889.21ZM1025.67,877.84L1056.35,889.21L1056.35,911.01L1025.67,922.38L995.00,911.01L995.00,889.21ZM1087.02,877.84L1117.69,889.21L1117.69,911.01L1087.02,922.38L1056.35,911.01L1056.35,889.21ZM1148.37,877.84L1179.05,889.21L1179.05,911.01L1148.37,922.38L1117.70,911.01L1117.70,889.21ZM1209.72,877.84L1240.39,889.21L1240.39,911.01L1209.72,922.38L1179.05,911.01L1179.05,889.21ZM1271.07,877.84L1301.74,889.21L1301.74,911.01L1271.07,922.38L1240.39,911.01L1240.39,889.21ZM1332.42,877.84L1363.10,889.21L1363.10,911.01L1332.42,922.38L1301.75,911.01L1301.75,889.21ZM1393.77,877.84L1424.44,889.21L1424.44,911.01L1393.77,922.38L1363.10,911.01L1363.10,889.21ZM1455.12,877.84L1485.80,889.21L1485.80,911.01L1455.12,922.38L1424.45,911.01L1424.45,889.21ZM1516.47,877.84L1547.14,889.21L1547.14,911.01L1516.47,922.38L1485.80,911.01L1485.80,889.21ZM1577.82,877.84L1608.49,889.21L1608.49,911.01L1577.82,922.38L1547.14,911.01L1547.14,889.21ZM1639.17,877.84L1669.85,889.21L1669.85,911.01L1639.17,922.38L1608.50,911.01L1608.50,889.21ZM1700.52,877.84L1731.19,889.21L1731.19,911.01L1700.52,922.38L1669.85,911.01L1669.85,889.21ZM1761.87,877.84L1792.55,889.21L1792.55,911.01L1761.87,922.38L1731.20,911.01L1731.20,889.21ZM1823.22,877.84L1853.89,889.21L1853.89,911.01L1823.22,922.38L1792.55,911.01L1792.55,889.21ZM1884.57,877.84L1915.24,889.21L1915.24,911.01L1884.57,922.38L1853.89,911.01L1853.89,889.21ZM1945.92,877.84L1976.60,889.21L1976.60,911.01L1945.92,922.38L1915.25,911.01L1915.25,889.21ZM136.10,844.67L166.78,856.04L166.78,877.84L136.10,889.21L105.42,877.84L105.42,856.04ZM197.45,844.67L228.12,856.04L228.12,877.84L197.45,889.21L166.77,877.84L166.77,856.04ZM258.80,844.67L289.48,856.04L289.48,877.84L258.80,889.21L228.12,877.84L228.12,856.04ZM320.15,844.67L350.82,856.04L350.82,877.84L320.15,889.21L289.47,877.84L289.47,856.04ZM381.50,844.67L412.18,856.04L412.18,877.84L381.50,889.21L350.82,877.84L350.82,856.04ZM442.85,844.67L473.53,856.04L473.53,877.84L442.85,889.21L412.18,877.84L412.18,856.04ZM504.20,844.67L534.88,856.04L534.88,877.84L504.20,889.21L473.53,877.84L473.53,856.04ZM565.55,844.67L596.22,856.04L596.22,877.84L565.55,889.21L534.88,877.84L534.88,856.04ZM626.90,844.67L657.57,856.04L657.57,877.84L626.90,889.21L596.23,877.84L596.23,856.04ZM688.25,844.67L718.92,856.04L718.92,877.84L688.25,889.21L657.58,877.84L657.58,856.04ZM749.60,844.67L780.27,856.04L780.27,877.84L749.60,889.21L718.93,877.84L718.93,856.04ZM810.95,844.67L841.62,856.04L841.62,877.84L810.95,889.21L780.28,877.84L780.28,856.04ZM872.30,844.67L902.98,856.04L902.98,877.84L872.30,889.21L841.63,877.84L841.63,856.04ZM933.65,844.67L964.33,856.04L964.33,877.84L933.65,889.21L902.98,877.84L902.98,856.04ZM995.00,844.67L1025.67,856.04L1025.67,877.84L995.00,889.21L964.33,877.84L964.33,856.04ZM1056.35,844.67L1087.02,856.04L1087.02,877.84L1056.35,889.21L1025.67,877.84L1025.67,856.04ZM1117.70,844.67L1148.38,856.04L1148.38,877.84L1117.70,889.21L1087.03,877.84L1087.03,856.04ZM1179.05,844.67L1209.72,856.04L1209.72,877.84L1179.05,889.21L1148.38,877.84L1148.38,856.04ZM1240.40,844.67L1271.07,856.04L1271.07,877.84L1240.40,889.21L1209.72,877.84L1209.72,856.04ZM1301.75,844.67L1332.42,856.04L1332.42,877.84L1301.75,889.21L1271.08,877.84L1271.08,856.04ZM1363.10,844.67L1393.77,856.04L1393.77,877.84L1363.10,889.21L1332.42,877.84L1332.42,856.04ZM1424.45,844.67L1455.12,856.04L1455.12,877.84L1424.45,889.21L1393.78,877.84L1393.78,856.04ZM1485.80,844.67L1516.47,856.04L1516.47,877.84L1485.80,889.21L1455.12,877.84L1455.12,856.04ZM1547.15,844.67L1577.82,856.04L1577.82,877.84L1547.15,889.21L1516.47,877.84L1516.47,856.04ZM1608.50,844.67L1639.17,856.04L1639.17,877.84L1608.50,889.21L1577.83,877.84L1577.83,856.04ZM1669.85,844.67L1700.52,856.04L1700.52,877.84L1669.85,889.21L1639.17,877.84L1639.17,856.04ZM1731.20,844.67L1761.88,856.04L1761.88,877.84L1731.20,889.21L1700.53,877.84L1700.53,856.04ZM1792.55,844.67L1823.22,856.04L1823.22,877.84L1792.55,889.21L1761.88,877.84L1761.88,856.04ZM1853.90,844.67L1884.57,856.04L1884.57,877.84L1853.90,889.21L1823.22,877.84L1823.22,856.04ZM1915.25,844.67L1945.92,856.04L1945.92,877.84L1915.25,889.21L1884.58,877.84L1884.58,856.04ZM105.42,811.50L136.10,822.87L136.10,844.67L105.42,856.04L74.75,844.67L74.75,822.87ZM166.77,811.50L197.45,822.87L197.45,844.67L166.77,856.04L136.09,844.67L136.09,822.87ZM228.12,811.50L258.80,822.87L258.80,844.67L228.12,856.04L197.44,844.67L197.44,822.87ZM289.47,811.50L320.15,822.87L320.15,844.67L289.47,856.04L258.80,844.67L258.80,822.87ZM350.82,811.50L381.50,822.87L381.50,844.67L350.82,856.04L320.15,844.67L320.15,822.87ZM412.17,811.50L442.85,822.87L442.85,844.67L412.17,856.04L381.50,844.67L381.50,822.87ZM473.52,811.50L504.19,822.87L504.19,844.67L473.52,856.04L442.84,844.67L442.84,822.87ZM534.87,811.50L565.54,822.87L565.54,844.67L534.87,856.04L504.19,844.67L504.19,822.87ZM596.22,811.50L626.89,822.87L626.89,844.67L596.22,856.04L565.55,844.67L565.55,822.87ZM657.57,811.50L688.25,822.87L688.25,844.67L657.57,856.04L626.90,844.67L626.90,822.87ZM718.92,811.50L749.59,822.87L749.59,844.67L718.92,856.04L688.25,844.67L688.25,822.87ZM780.27,811.50L810.94,822.87L810.94,844.67L780.27,856.04L749.60,844.67L749.60,822.87ZM841.62,811.50L872.29,822.87L872.29,844.67L841.62,856.04L810.95,844.67L810.95,822.87ZM902.97,811.50L933.64,822.87L933.64,844.67L902.97,856.04L872.30,844.67L872.30,822.87ZM964.32,811.50L995.00,822.87L995.00,844.67L964.32,856.04L933.65,844.67L933.65,822.87ZM1025.67,811.50L1056.35,822.87L1056.35,844.67L1025.67,856.04L995.00,844.67L995.00,822.87ZM1087.02,811.50L1117.69,822.87L1117.69,844.67L1087.02,856.04L1056.35,844.67L1056.35,822.87ZM1148.37,811.50L1179.05,822.87L1179.05,844.67L1148.37,856.04L1117.70,844.67L1117.70,822.87ZM1209.72,811.50L1240.39,822.87L1240.39,844.67L1209.72,856.04L1179.05,844.67L1179.05,822.87ZM1271.07,811.50L1301.74,822.87L1301.74,844.67L1271.07,856.04L1240.39,844.67L1240.39,822.87ZM1332.42,811.50L1363.10,822.87L1363.10,844.67L1332.42,856.04L1301.75,844.67L1301.75,822.87ZM1393.77,811.50L1424.44,822.87L1424.44,844.67L1393.77,856.04L1363.10,844.67L1363.10,822.87ZM1455.12,811.50L1485.80,822.87L1485.80,844.67L1455.12,856.04L1424.45,844.67L1424.45,822.87ZM1516.47,811.50L1547.14,822.87L1547.14,844.67L1516.47,856.04L1485.80,844.67L1485.80,822.87ZM1577.82,811.50L1608.49,822.87L1608.49,844.67L1577.82,856.04L1547.14,844.67L1547.14,822.87ZM1639.17,811.50L1669.85,822.87L1669.85,844.67L1639.17,856.04L1608.50,844.67L1608.50,822.87ZM1700.52,811.50L1731.19,822.87L1731.19,844.67L1700.52,856.04L1669.85,844.67L1669.85,822.87ZM1761.87,811.50L1792.55,822.87L1792.55,844.67L1761.87,856.04L1731.20,844.67L1731.20,822.87ZM1823.22,811.50L1853.89,822.87L1853.89,844.67L1823.22,856.04L1792.55,844.67L1792.55,822.87ZM1884.57,811.50L1915.24,822.87L1915.24,844.67L1884.57,856.04L1853.89,844.67L1853.89,822.87ZM1945.92,811.50L1976.60,822.87L1976.60,844.67L1945.92,856.04L1915.25,844.67L1915.25,822.87ZM136.10,778.33L166.78,789.70L166.78,811.50L136.10,822.87L105.42,811.50L105.42,789.70ZM197.45,778.33L228.12,789.70L228.12,811.50L197.45,822.87L166.77,811.50L166.77,789.70ZM258.80,778.33L289.48,789.70L289.48,811.50L258.80,822.87L228.12,811.50L228.12,789.70ZM320.15,778.33L350.82,789.70L350.82,811.50L320.15,822.87L289.47,811.50L289.47,789.70ZM381.50,778.33L412.18,789.70L412.18,811.50L381.50,822.87L350.82,811.50L350.82,789.70ZM442.85,778.33L473.53,789.70L473.53,811.50L442.85,822.87L412.18,811.50L412.18,789.70ZM504.20,778.33L534.88,789.70L534.88,811.50L504.20,822.87L473.53,811.50L473.53,789.70ZM565.55,778.33L596.22,789.70L596.22,811.50L565.55,822.87L534.88,811.50L534.88,789.70ZM626.90,778.33L657.57,789.70L657.57,811.50L626.90,822.87L596.23,811.50L596.23,789.70ZM688.25,778.33L718.92,789.70L718.92,811.50L688.25,822.87L657.58,811.50L657.58,789.70ZM749.60,778.33L780.27,789.70L780.27,811.50L749.60,822.87L718.93,811.50L718.93,789.70ZM810.95,778.33L841.62,789.70L841.62,811.50L810.95,822.87L780.28,811.50L780.28,789.70ZM872.30,778.33L902.98,789.70L902.98,811.50L872.30,822.87L841.63,811.50L841.63,789.70ZM933.65,778.33L964.33,789.70L964.33,811.50L933.65,822.87L902.98,811.50L902.98,789.70ZM995.00,778.33L1025.67,789.70L1025.67,811.50L995.00,822.87L964.33,811.50L964.33,789.70ZM1056.35,778.33L1087.02,789.70L1087.02,811.50L1056.35,822.87L1025.67,811.50L1025.67,789.70ZM1117.70,778.33L1148.38,789.70L1148.38,811.50L1117.70,822.87L1087.03,811.50L1087.03,789.70ZM1179.05,778.33L1209.72,789.70L1209.72,811.50L1179.05,822.87L1148.38,811.50L1148.38,789.70ZM1240.40,778.33L1271.07,789.70L1271.07,811.50L1240.40,822.87L1209.72,811.50L1209.72,789.70ZM1301.75,778.33L1332.42,789.70L1332.42,811.50L1301.75,822.87L1271.08,811.50L1271.08,789.70ZM1363.10,778.33L1393.77,789.70L1393.77,811.50L1363.10,822.87L1332.42,811.50L1332.42,789.70ZM1424.45,778.33L1455.12,789.70L1455.12,811.50L1424.45,822.87L1393.78,811.50L1393.78,789.70ZM1485.80,778.33L1516.47,789.70L1516.47,811.50L1485.80,822.87L1455.12,811.50L1455.12,789.70ZM1547.15,778.33L1577.82,789.70L1577.82,811.50L1547.15,822.87L1516.47,811.50L1516.47,789.70ZM1608.50,778.33L1639.17,789.70L1639.17,811.50L1608.50,822.87L1577.83,811.50L1577.83,789.70ZM1669.85,778.33L1700.52,789.70L1700.52,811.50L1669.85,822.87L1639.17,811.50L1639.17,789.70ZM1731.20,778.33L1761.88,789.70L1761.88,811.50L1731.20,822.87L1700.53,811.50L1700.53,789.70ZM1792.55,778.33L1823.22,789.70L1823.22,811.50L1792.55,822.87L1761.88,811.50L1761.88,789.70ZM1853.90,778.33L1884.57,789.70L1884.57,811.50L1853.90,822.87L1823.22,811.50L1823.22,789.70ZM1915.25,778.33L1945.92,789.70L1945.92,811.50L1915.25,822.87L1884.58,811.50L1884.58,789.70ZM105.42,745.16L136.10,756.53L136.10,778.33L105.42,789.70L74.75,778.33L74.75,756.53ZM166.77,745.16L197.45,756.53L197.45,778.33L166.77,789.70L136.09,778.33L136.09,756.53ZM228.12,745.16L258.80,756.53L258.80,778.33L228.12,789.70L197.44,778.33L197.44,756.53ZM289.47,745.16L320.15,756.53L320.15,778.33L289.47,789.70L258.80,778.33L258.80,756.53ZM350.82,745.16L381.50,756.53L381.50,778.33L350.82,789.70L320.15,778.33L320.15,756.53ZM412.17,745.16L442.85,756.53L442.85,778.33L412.17,789.70L381.50,778.33L381.50,756.53ZM473.52,745.16L504.19,756.53L504.19,778.33L473.52,789.70L442.84,778.33L442.84,756.53ZM534.87,745.16L565.54,756.53L565.54,778.33L534.87,789.70L504.19,778.33L504.19,756.53ZM596.22,745.16L626.89,756.53L626.89,778.33L596.22,789.70L565.55,778.33L565.55,756.53ZM657.57,745.16L688.25,756.53L688.25,778.33L657.57,789.70L626.90,778.33L626.90,756.53ZM718.92,745.16L749.59,756.53L749.59,778.33L718.92,789.70L688.25,778.33L688.25,756.53ZM780.27,745.16L810.94,756.53L810.94,778.33L780.27,789.70L749.60,778.33L749.60,756.53ZM841.62,745.16L872.29,756.53L872.29,778.33L841.62,789.70L810.95,778.33L810.95,756.53ZM902.97,745.16L933.64,756.53L933.64,778.33L902.97,789.70L872.30,778.33L872.30,756.53ZM964.32,745.16L995.00,756.53L995.00,778.33L964.32,789.70L933.65,778.33L933.65,756.53ZM1025.67,745.16L1056.35,756.53L1056.35,778.33L1025.67,789.70L995.00,778.33L995.00,756.53ZM1087.02,745.16L1117.69,756.53L1117.69,778.33L1087.02,789.70L1056.35,778.33L1056.35,756.53ZM1148.37,745.16L1179.05,756.53L1179.05,778.33L1148.37,789.70L1117.70,778.33L1117.70,756.53ZM1209.72,745.16L1240.39,756.53L1240.39,778.33L1209.72,789.70L1179.05,778.33L1179.05,756.53ZM1271.07,745.16L1301.74,756.53L1301.74,778.33L1271.07,789.70L1240.39,778.33L1240.39,756.53ZM1332.42,745.16L1363.10,756.53L1363.10,778.33L1332.42,789.70L1301.75,778.33L1301.75,756.53ZM1393.77,745.16L1424.44,756.53L1424.44,778.33L1393.77,789.70L1363.10,778.33L1363.10,756.53ZM1455.12,745.16L1485.80,756.53L1485.80,778.33L1455.12,789.70L1424.45,778.33L1424.45,756.53ZM1516.47,745.16L1547.14,756.53L1547.14,778.33L1516.47,789.70L1485.80,778.33L1485.80,756.53ZM1577.82,745.16L1608.49,756.53L1608.49,778.33L1577.82,789.70L1547.14,778.33L1547.14,756.53ZM1639.17,745.16L1669.85,756.53L1669.85,778.33L1639.17,789.70L1608.50,778.33L1608.50,756.53ZM1700.52,745.16L1731.19,756.53L1731.19,778.33L1700.52,789.70L1669.85,778.33L1669.85,756.53ZM1761.87,745.16L1792.55,756.53L1792.55,778.33L1761.87,789.70L1731.20,778.33L1731.20,756.53ZM1823.22,745.16L1853.89,756.53L1853.89,778.33L1823.22,789.70L1792.55,778.33L1792.55,756.53ZM1884.57,745.16L1915.24,756.53L1915.24,778.33L1884.57,789.70L1853.89,778.33L1853.89,756.53ZM1945.92,745.16L1976.60,756.53L1976.60,778.33L1945.92,789.70L1915.25,778.33L1915.25,756.53ZM136.10,711.99L166.78,723.36L166.78,745.16L136.10,756.53L105.42,745.16L105.42,723.36ZM197.45,711.99L228.12,723.36L228.12,745.16L197.45,756.53L166.77,745.16L166.77,723.36ZM258.80,711.99L289.48,723.36L289.48,745.16L258.80,756.53L228.12,745.16L228.12,723.36ZM320.15,711.99L350.82,723.36L350.82,745.16L320.15,756.53L289.47,745.16L289.47,723.36ZM381.50,711.99L412.18,723.36L412.18,745.16L381.50,756.53L350.82,745.16L350.82,723.36ZM442.85,711.99L473.53,723.36L473.53,745.16L442.85,756.53L412.18,745.16L412.18,723.36ZM504.20,711.99L534.88,723.36L534.88,745.16L504.20,756.53L473.53,745.16L473.53,723.36ZM565.55,711.99L596.22,723.36L596.22,745.16L565.55,756.53L534.88,745.16L534.88,723.36ZM626.90,711.99L657.57,723.36L657.57,745.16L626.90,756.53L596.23,745.16L596.23,723.36ZM688.25,711.99L718.92,723.36L718.92,745.16L688.25,756.53L657.58,745.16L657.58,723.36ZM749.60,711.99L780.27,723.36L780.27,745.16L749.60,756.53L718.93,745.16L718.93,723.36ZM810.95,711.99L841.62,723.36L841.62,745.16L810.95,756.53L780.28,745.16L780.28,723.36ZM872.30,711.99L902.98,723.36L902.98,745.16L872.30,756.53L841.63,745.16L841.63,723.36ZM933.65,711.99L964.33,723.36L964.33,745.16L933.65,756.53L902.98,745.16L902.98,723.36ZM995.00,711.99L1025.67,723.36L1025.67,745.16L995.00,756.53L964.33,745.16L964.33,723.36ZM1056.35,711.99L1087.02,723.36L1087.02,745.16L1056.35,756.53L1025.67,745.16L1025.67,723.36ZM1117.70,711.99L1148.38,723.36L1148.38,745.16L1117.70,756.53L1087.03,745.16L1087.03,723.36ZM1179.05,711.99L1209.72,723.36L1209.72,745.16L1179.05,756.53L1148.38,745.16L1148.38,723.36ZM1240.40,711.99L1271.07,723.36L1271.07,745.16L1240.40,756.53L1209.72,745.16L1209.72,723.36ZM1301.75,711.99L1332.42,723.36L1332.42,745.16L1301.75,756.53L1271.08,745.16L1271.08,723.36ZM1363.10,711.99L1393.77,723.36L1393.77,745.16L1363.10,756.53L1332.42,745.16L1332.42,723.36ZM1424.45,711.99L1455.12,723.36L1455.12,745.16L1424.45,756.53L1393.78,745.16L1393.78,723.36ZM1485.80,711.99L1516.47,723.36L1516.47,745.16L1485.80,756.53L1455.12,745.16L1455.12,723.36ZM1547.15,711.99L1577.82,723.36L1577.82,745.16L1547.15,756.53L1516.47,745.16L1516.47,723.36ZM1608.50,711.99L1639.17,723.36L1639.17,745.16L1608.50,756.53L1577.83,745.16L1577.83,723.36ZM1669.85,711.99L1700.52,723.36L1700.52,745.16L1669.85,756.53L1639.17,745.16L1639.17,723.36ZM1731.20,711.99L1761.88,723.36L1761.88,745.16L1731.20,756.53L1700.53,745.16L1700.53,723.36ZM1792.55,711.99L1823.22,723.36L1823.22,745.16L1792.55,756.53L1761.88,745.16L1761.88,723.36ZM1853.90,711.99L1884.57,723.36L1884.57,745.16L1853.90,756.53L1823.22,745.16L1823.22,723.36ZM1915.25,711.99L1945.92,723.36L1945.92,745.16L1915.25,756.53L1884.58,745.16L1884.58,723.36ZM105.42,678.82L136.10,690.19L136.10,711.99L105.42,723.36L74.75,711.99L74.75,690.19ZM166.77,678.82L197.45,690.19L197.45,711.99L166.77,723.36L136.09,711.99L136.09,690.19ZM228.12,678.82L258.80,690.19L258.80,711.99L228.12,723.36L197.44,711.99L197.44,690.19ZM289.47,678.82L320.15,690.19L320.15,711.99L289.47,723.36L258.80,711.99L258.80,690.19ZM350.82,678.82L381.50,690.19L381.50,711.99L350.82,723.36L320.15,711.99L320.15,690.19ZM412.17,678.82L442.85,690.19L442.85,711.99L412.17,723.36L381.50,711.99L381.50,690.19ZM473.52,678.82L504.19,690.19L504.19,711.99L473.52,723.36L442.84,711.99L442.84,690.19ZM534.87,678.82L565.54,690.19L565.54,711.99L534.87,723.36L504.19,711.99L504.19,690.19ZM596.22,678.82L626.89,690.19L626.89,711.99L596.22,723.36L565.55,711.99L565.55,690.19ZM657.57,678.82L688.25,690.19L688.25,711.99L657.57,723.36L626.90,711.99L626.90,690.19ZM718.92,678.82L749.59,690.19L749.59,711.99L718.92,723.36L688.25,711.99L688.25,690.19ZM780.27,678.82L810.94,690.19L810.94,711.99L780.27,723.36L749.60,711.99L749.60,690.19ZM841.62,678.82L872.29,690.19L872.29,711.99L841.62,723.36L810.95,711.99L810.95,690.19ZM902.97,678.82L933.64,690.19L933.64,711.99L902.97,723.36L872.30,711.99L872.30,690.19ZM964.32,678.82L995.00,690.19L995.00,711.99L964.32,723.36L933.65,711.99L933.65,690.19ZM1025.67,678.82L1056.35,690.19L1056.35,711.99L1025.67,723.36L995.00,711.99L995.00,690.19ZM1087.02,678.82L1117.69,690.19L1117.69,711.99L1087.02,723.36L1056.35,711.99L1056.35,690.19ZM1148.37,678.82L1179.05,690.19L1179.05,711.99L1148.37,723.36L1117.70,711.99L1117.70,690.19ZM1209.72,678.82L1240.39,690.19L1240.39,711.99L1209.72,723.36L1179.05,711.99L1179.05,690.19ZM1271.07,678.82L1301.74,690.19L1301.74,711.99L1271.07,723.36L1240.39,711.99L1240.39,690.19ZM1332.42,678.82L1363.10,690.19L1363.10,711.99L1332.42,723.36L1301.75,711.99L1301.75,690.19ZM1393.77,678.82L1424.44,690.19L1424.44,711.99L1393.77,723.36L1363.10,711.99L1363.10,690.19ZM1455.12,678.82L1485.80,690.19L1485.80,711.99L1455.12,723.36L1424.45,711.99L1424.45,690.19ZM1516.47,678.82L1547.14,690.19L1547.14,711.99L1516.47,723.36L1485.80,711.99L1485.80,690.19ZM1577.82,678.82L1608.49,690.19L1608.49,711.99L1577.82,723.36L1547.14,711.99L1547.14,690.19ZM1639.17,678.82L1669.85,690.19L1669.85,711.99L1639.17,723.36L1608.50,711.99L1608.50,690.19ZM1700.52,678.82L1731.19,690.19L1731.19,711.99L1700.52,723.36L1669.85,711.99L1669.85,690.19ZM1761.87,678.82L1792.55,690.19L1792.55,711.99L1761.87,723.36L1731.20,711.99L1731.20,690.19ZM1823.22,678.82L1853.89,690.19L1853.89,711.99L1823.22,723.36L1792.55,711.99L1792.55,690.19ZM1884.57,678.82L1915.24,690.19L1915.24,711.99L1884.57,723.36L1853.89,711.99L1853.89,690.19ZM1945.92,678.82L1976.60,690.19L1976.60,711.99L1945.92,723.36L1915.25,711.99L1915.25,690.19ZM136.10,645.65L166.78,657.02L166.78,678.82L136.10,690.19L105.42,678.82L105.42,657.02ZM197.45,645.65L228.12,657.02L228.12,678.82L197.45,690.19L166.77,678.82L166.77,657.02ZM258.80,645.65L289.48,657.02L289.48,678.82L258.80,690.19L228.12,678.82L228.12,657.02ZM320.15,645.65L350.82,657.02L350.82,678.82L320.15,690.19L289.47,678.82L289.47,657.02ZM381.50,645.65L412.18,657.02L412.18,678.82L381.50,690.19L350.82,678.82L350.82,657.02ZM442.85,645.65L473.53,657.02L473.53,678.82L442.85,690.19L412.18,678.82L412.18,657.02ZM504.20,645.65L534.88,657.02L534.88,678.82L504.20,690.19L473.53,678.82L473.53,657.02ZM565.55,645.65L596.22,657.02L596.22,678.82L565.55,690.19L534.88,678.82L534.88,657.02ZM626.90,645.65L657.57,657.02L657.57,678.82L626.90,690.19L596.23,678.82L596.23,657.02ZM688.25,645.65L718.92,657.02L718.92,678.82L688.25,690.19L657.58,678.82L657.58,657.02ZM749.60,645.65L780.27,657.02L780.27,678.82L749.60,690.19L718.93,678.82L718.93,657.02ZM810.95,645.65L841.62,657.02L841.62,678.82L810.95,690.19L780.28,678.82L780.28,657.02ZM872.30,645.65L902.98,657.02L902.98,678.82L872.30,690.19L841.63,678.82L841.63,657.02ZM933.65,645.65L964.33,657.02L964.33,678.82L933.65,690.19L902.98,678.82L902.98,657.02ZM995.00,645.65L1025.67,657.02L1025.67,678.82L995.00,690.19L964.33,678.82L964.33,657.02ZM1056.35,645.65L1087.02,657.02L1087.02,678.82L1056.35,690.19L1025.67,678.82L1025.67,657.02ZM1117.70,645.65L1148.38,657.02L1148.38,678.82L1117.70,690.19L1087.03,678.82L1087.03,657.02ZM1179.05,645.65L1209.72,657.02L1209.72,678.82L1179.05,690.19L1148.38,678.82L1148.38,657.02ZM1240.40,645.65L1271.07,657.02L1271.07,678.82L1240.40,690.19L1209.72,678.82L1209.72,657.02ZM1301.75,645.65L1332.42,657.02L1332.42,678.82L1301.75,690.19L1271.08,678.82L1271.08,657.02ZM1363.10,645.65L1393.77,657.02L1393.77,678.82L1363.10,690.19L1332.42,678.82L1332.42,657.02ZM1424.45,645.65L1455.12,657.02L1455.12,678.82L1424.45,690.19L1393.78,678.82L1393.78,657.02ZM1485.80,645.65L1516.47,657.02L1516.47,678.82L1485.80,690.19L1455.12,678.82L1455.12,657.02ZM1547.15,645.65L1577.82,657.02L1577.82,678.82L1547.15,690.19L1516.47,678.82L1516.47,657.02ZM1608.50,645.65L1639.17,657.02L1639.17,678.82L1608.50,690.19L1577.83,678.82L1577.83,657.02ZM1669.85,645.65L1700.52,657.02L1700.52,678.82L1669.85,690.19L1639.17,678.82L1639.17,657.02ZM1731.20,645.65L1761.88,657.02L1761.88,678.82L1731.20,690.19L1700.53,678.82L1700.53,657.02ZM1792.55,645.65L1823.22,657.02L1823.22,678.82L1792.55,690.19L1761.88,678.82L1761.88,657.02ZM1853.90,645.65L1884.57,657.02L1884.57,678.82L1853.90,690.19L1823.22,678.82L1823.22,657.02ZM1915.25,645.65L1945.92,657.02L1945.92,678.82L1915.25,690.19L1884.58,678.82L1884.58,657.02ZM105.42,612.48L136.10,623.85L136.10,645.65L105.42,657.02L74.75,645.65L74.75,623.85ZM166.77,612.48L197.45,623.85L197.45,645.65L166.77,657.02L136.09,645.65L136.09,623.85ZM228.12,612.48L258.80,623.85L258.80,645.65L228.12,657.02L197.44,645.65L197.44,623.85ZM289.47,612.48L320.15,623.85L320.15,645.65L289.47,657.02L258.80,645.65L258.80,623.85ZM350.82,612.48L381.50,623.85L381.50,645.65L350.82,657.02L320.15,645.65L320.15,623.85ZM412.17,612.48L442.85,623.85L442.85,645.65L412.17,657.02L381.50,645.65L381.50,623.85ZM473.52,612.48L504.19,623.85L504.19,645.65L473.52,657.02L442.84,645.65L442.84,623.85ZM534.87,612.48L565.54,623.85L565.54,645.65L534.87,657.02L504.19,645.65L504.19,623.85ZM596.22,612.48L626.89,623.85L626.89,645.65L596.22,657.02L565.55,645.65L565.55,623.85ZM657.57,612.48L688.25,623.85L688.25,645.65L657.57,657.02L626.90,645.65L626.90,623.85ZM718.92,612.48L749.59,623.85L749.59,645.65L718.92,657.02L688.25,645.65L688.25,623.85ZM780.27,612.48L810.94,623.85L810.94,645.65L780.27,657.02L749.60,645.65L749.60,623.85ZM841.62,612.48L872.29,623.85L872.29,645.65L841.62,657.02L810.95,645.65L810.95,623.85ZM902.97,612.48L933.64,623.85L933.64,645.65L902.97,657.02L872.30,645.65L872.30,623.85ZM964.32,612.48L995.00,623.85L995.00,645.65L964.32,657.02L933.65,645.65L933.65,623.85ZM1025.67,612.48L1056.35,623.85L1056.35,645.65L1025.67,657.02L995.00,645.65L995.00,623.85ZM1087.02,612.48L1117.69,623.85L1117.69,645.65L1087.02,657.02L1056.35,645.65L1056.35,623.85ZM1148.37,612.48L1179.05,623.85L1179.05,645.65L1148.37,657.02L1117.70,645.65L1117.70,623.85ZM1209.72,612.48L1240.39,623.85L1240.39,645.65L1209.72,657.02L1179.05,645.65L1179.05,623.85ZM1271.07,612.48L1301.74,623.85L1301.74,645.65L1271.07,657.02L1240.39,645.65L1240.39,623.85ZM1332.42,612.48L1363.10,623.85L1363.10,645.65L1332.42,657.02L1301.75,645.65L1301.75,623.85ZM1393.77,612.48L1424.44,623.85L1424.44,645.65L1393.77,657.02L1363.10,645.65L1363.10,623.85ZM1455.12,612.48L1485.80,623.85L1485.80,645.65L1455.12,657.02L1424.45,645.65L1424.45,623.85ZM1516.47,612.48L1547.14,623.85L1547.14,645.65L1516.47,657.02L1485.80,645.65L1485.80,623.85ZM1577.82,612.48L1608.49,623.85L1608.49,645.65L1577.82,657.02L1547.14,645.65L1547.14,623.85ZM1639.17,612.48L1669.85,623.85L1669.85,645.65L1639.17,657.02L1608.50,645.65L1608.50,623.85ZM1700.52,612.48L1731.19,623.85L1731.19,645.65L1700.52,657.02L1669.85,645.65L1669.85,623.85ZM1761.87,612.48L1792.55,623.85L1792.55,645.65L1761.87,657.02L1731.20,645.65L1731.20,623.85ZM1823.22,612.48L1853.89,623.85L1853.89,645.65L1823.22,657.02L1792.55,645.65L1792.55,623.85ZM1884.57,612.48L1915.24,623.85L1915.24,645.65L1884.57,657.02L1853.89,645.65L1853.89,623.85ZM1945.92,612.48L1976.60,623.85L1976.60,645.65L1945.92,657.02L1915.25,645.65L1915.25,623.85ZM136.10,579.31L166.78,590.68L166.78,612.48L136.10,623.85L105.42,612.48L105.42,590.68ZM197.45,579.31L228.12,590.68L228.12,612.48L197.45,623.85L166.77,612.48L166.77,590.68ZM258.80,579.31L289.48,590.68L289.48,612.48L258.80,623.85L228.12,612.48L228.12,590.68ZM320.15,579.31L350.82,590.68L350.82,612.48L320.15,623.85L289.47,612.48L289.47,590.68ZM381.50,579.31L412.18,590.68L412.18,612.48L381.50,623.85L350.82,612.48L350.82,590.68ZM442.85,579.31L473.53,590.68L473.53,612.48L442.85,623.85L412.18,612.48L412.18,590.68ZM504.20,579.31L534.88,590.68L534.88,612.48L504.20,623.85L473.53,612.48L473.53,590.68ZM565.55,579.31L596.22,590.68L596.22,612.48L565.55,623.85L534.88,612.48L534.88,590.68ZM626.90,579.31L657.57,590.68L657.57,612.48L626.90,623.85L596.23,612.48L596.23,590.68ZM688.25,579.31L718.92,590.68L718.92,612.48L688.25,623.85L657.58,612.48L657.58,590.68ZM749.60,579.31L780.27,590.68L780.27,612.48L749.60,623.85L718.93,612.48L718.93,590.68ZM810.95,579.31L841.62,590.68L841.62,612.48L810.95,623.85L780.28,612.48L780.28,590.68ZM872.30,579.31L902.98,590.68L902.98,612.48L872.30,623.85L841.63,612.48L841.63,590.68ZM933.65,579.31L964.33,590.68L964.33,612.48L933.65,623.85L902.98,612.48L902.98,590.68ZM995.00,579.31L1025.67,590.68L1025.67,612.48L995.00,623.85L964.33,612.48L964.33,590.68ZM1056.35,579.31L1087.02,590.68L1087.02,612.48L1056.35,623.85L1025.67,612.48L1025.67,590.68ZM1117.70,579.31L1148.38,590.68L1148.38,612.48L1117.70,623.85L1087.03,612.48L1087.03,590.68ZM1179.05,579.31L1209.72,590.68L1209.72,612.48L1179.05,623.85L1148.38,612.48L1148.38,590.68ZM1240.40,579.31L1271.07,590.68L1271.07,612.48L1240.40,623.85L1209.72,612.48L1209.72,590.68ZM1301.75,579.31L1332.42,590.68L1332.42,612.48L1301.75,623.85L1271.08,612.48L1271.08,590.68ZM1363.10,579.31L1393.77,590.68L1393.77,612.48L1363.10,623.85L1332.42,612.48L1332.42,590.68ZM1424.45,579.31L1455.12,590.68L1455.12,612.48L1424.45,623.85L1393.78,612.48L1393.78,590.68ZM1485.80,579.31L1516.47,590.68L1516.47,612.48L1485.80,623.85L1455.12,612.48L1455.12,590.68ZM1547.15,579.31L1577.82,590.68L1577.82,612.48L1547.15,623.85L1516.47,612.48L1516.47,590.68ZM1608.50,579.31L1639.17,590.68L1639.17,612.48L1608.50,623.85L1577.83,612.48L1577.83,590.68ZM1669.85,579.31L1700.52,590.68L1700.52,612.48L1669.85,623.85L1639.17,612.48L1639.17,590.68ZM1731.20,579.31L1761.88,590.68L1761.88,612.48L1731.20,623.85L1700.53,612.48L1700.53,590.68ZM1792.55,579.31L1823.22,590.68L1823.22,612.48L1792.55,623.85L1761.88,612.48L1761.88,590.68ZM1853.90,579.31L1884.57,590.68L1884.57,612.48L1853.90,623.85L1823.22,612.48L1823.22,590.68ZM1915.25,579.31L1945.92,590.68L1945.92,612.48L1915.25,623.85L1884.58,612.48L1884.58,590.68ZM105.42,546.14L136.10,557.51L136.10,579.31L105.42,590.68L74.75,579.31L74.75,557.51ZM166.77,546.14L197.45,557.51L197.45,579.31L166.77,590.68L136.09,579.31L136.09,557.51ZM228.12,546.14L258.80,557.51L258.80,579.31L228.12,590.68L197.44,579.31L197.44,557.51ZM289.47,546.14L320.15,557.51L320.15,579.31L289.47,590.68L258.80,579.31L258.80,557.51ZM350.82,546.14L381.50,557.51L381.50,579.31L350.82,590.68L320.15,579.31L320.15,557.51ZM412.17,546.14L442.85,557.51L442.85,579.31L412.17,590.68L381.50,579.31L381.50,557.51ZM473.52,546.14L504.19,557.51L504.19,579.31L473.52,590.68L442.84,579.31L442.84,557.51ZM534.87,546.14L565.54,557.51L565.54,579.31L534.87,590.68L504.19,579.31L504.19,557.51ZM596.22,546.14L626.89,557.51L626.89,579.31L596.22,590.68L565.55,579.31L565.55,557.51ZM657.57,546.14L688.25,557.51L688.25,579.31L657.57,590.68L626.90,579.31L626.90,557.51ZM718.92,546.14L749.59,557.51L749.59,579.31L718.92,590.68L688.25,579.31L688.25,557.51ZM780.27,546.14L810.94,557.51L810.94,579.31L780.27,590.68L749.60,579.31L749.60,557.51ZM841.62,546.14L872.29,557.51L872.29,579.31L841.62,590.68L810.95,579.31L810.95,557.51ZM902.97,546.14L933.64,557.51L933.64,579.31L902.97,590.68L872.30,579.31L872.30,557.51ZM964.32,546.14L995.00,557.51L995.00,579.31L964.32,590.68L933.65,579.31L933.65,557.51ZM1025.67,546.14L1056.35,557.51L1056.35,579.31L1025.67,590.68L995.00,579.31L995.00,557.51ZM1087.02,546.14L1117.69,557.51L1117.69,579.31L1087.02,590.68L1056.35,579.31L1056.35,557.51ZM1148.37,546.14L1179.05,557.51L1179.05,579.31L1148.37,590.68L1117.70,579.31L1117.70,557.51ZM1209.72,546.14L1240.39,557.51L1240.39,579.31L1209.72,590.68L1179.05,579.31L1179.05,557.51ZM1271.07,546.14L1301.74,557.51L1301.74,579.31L1271.07,590.68L1240.39,579.31L1240.39,557.51ZM1332.42,546.14L1363.10,557.51L1363.10,579.31L1332.42,590.68L1301.75,579.31L1301.75,557.51ZM1393.77,546.14L1424.44,557.51L1424.44,579.31L1393.77,590.68L1363.10,579.31L1363.10,557.51ZM1455.12,546.14L1485.80,557.51L1485.80,579.31L1455.12,590.68L1424.45,579.31L1424.45,557.51ZM1516.47,546.14L1547.14,557.51L1547.14,579.31L1516.47,590.68L1485.80,579.31L1485.80,557.51ZM1577.82,546.14L1608.49,557.51L1608.49,579.31L1577.82,590.68L1547.14,579.31L1547.14,557.51ZM1639.17,546.14L1669.85,557.51L1669.85,579.31L1639.17,590.68L1608.50,579.31L1608.50,557.51ZM1700.52,546.14L1731.19,557.51L1731.19,579.31L1700.52,590.68L1669.85,579.31L1669.85,557.51ZM1761.87,546.14L1792.55,557.51L1792.55,579.31L1761.87,590.68L1731.20,579.31L1731.20,557.51ZM1823.22,546.14L1853.89,557.51L1853.89,579.31L1823.22,590.68L1792.55,579.31L1792.55,557.51ZM1884.57,546.14L1915.24,557.51L1915.24,579.31L1884.57,590.68L1853.89,579.31L1853.89,557.51ZM1945.92,546.14L1976.60,557.51L1976.60,579.31L1945.92,590.68L1915.25,579.31L1915.25,557.51ZM136.10,512.97L166.78,524.34L166.78,546.14L136.10,557.51L105.42,546.14L105.42,524.34ZM197.45,512.97L228.12,524.34L228.12,546.14L197.45,557.51L166.77,546.14L166.77,524.34ZM258.80,512.97L289.48,524.34L289.48,546.14L258.80,557.51L228.12,546.14L228.12,524.34ZM320.15,512.97L350.82,524.34L350.82,546.14L320.15,557.51L289.47,546.14L289.47,524.34ZM381.50,512.97L412.18,524.34L412.18,546.14L381.50,557.51L350.82,546.14L350.82,524.34ZM442.85,512.97L473.53,524.34L473.53,546.14L442.85,557.51L412.18,546.14L412.18,524.34ZM504.20,512.97L534.88,524.34L534.88,546.14L504.20,557.51L473.53,546.14L473.53,524.34ZM565.55,512.97L596.22,524.34L596.22,546.14L565.55,557.51L534.88,546.14L534.88,524.34ZM626.90,512.97L657.57,524.34L657.57,546.14L626.90,557.51L596.23,546.14L596.23,524.34ZM688.25,512.97L718.92,524.34L718.92,546.14L688.25,557.51L657.58,546.14L657.58,524.34ZM749.60,512.97L780.27,524.34L780.27,546.14L749.60,557.51L718.93,546.14L718.93,524.34ZM810.95,512.97L841.62,524.34L841.62,546.14L810.95,557.51L780.28,546.14L780.28,524.34ZM872.30,512.97L902.98,524.34L902.98,546.14L872.30,557.51L841.63,546.14L841.63,524.34ZM933.65,512.97L964.33,524.34L964.33,546.14L933.65,557.51L902.98,546.14L902.98,524.34ZM995.00,512.97L1025.67,524.34L1025.67,546.14L995.00,557.51L964.33,546.14L964.33,524.34ZM1056.35,512.97L1087.02,524.34L1087.02,546.14L1056.35,557.51L1025.67,546.14L1025.67,524.34ZM1117.70,512.97L1148.38,524.34L1148.38,546.14L1117.70,557.51L1087.03,546.14L1087.03,524.34ZM1179.05,512.97L1209.72,524.34L1209.72,546.14L1179.05,557.51L1148.38,546.14L1148.38,524.34ZM1240.40,512.97L1271.07,524.34L1271.07,546.14L1240.40,557.51L1209.72,546.14L1209.72,524.34ZM1301.75,512.97L1332.42,524.34L1332.42,546.14L1301.75,557.51L1271.08,546.14L1271.08,524.34ZM1363.10,512.97L1393.77,524.34L1393.77,546.14L1363.10,557.51L1332.42,546.14L1332.42,524.34ZM1424.45,512.97L1455.12,524.34L1455.12,546.14L1424.45,557.51L1393.78,546.14L1393.78,524.34ZM1485.80,512.97L1516.47,524.34L1516.47,546.14L1485.80,557.51L1455.12,546.14L1455.12,524.34ZM1547.15,512.97L1577.82,524.34L1577.82,546.14L1547.15,557.51L1516.47,546.14L1516.47,524.34ZM1608.50,512.97L1639.17,524.34L1639.17,546.14L1608.50,557.51L1577.83,546.14L1577.83,524.34ZM1669.85,512.97L1700.52,524.34L1700.52,546.14L1669.85,557.51L1639.17,546.14L1639.17,524.34ZM1731.20,512.97L1761.88,524.34L1761.88,546.14L1731.20,557.51L1700.53,546.14L1700.53,524.34ZM1792.55,512.97L1823.22,524.34L1823.22,546.14L1792.55,557.51L1761.88,546.14L1761.88,524.34ZM1853.90,512.97L1884.57,524.34L1884.57,546.14L1853.90,557.51L1823.22,546.14L1823.22,524.34ZM1915.25,512.97L1945.92,524.34L1945.92,546.14L1915.25,557.51L1884.58,546.14L1884.58,524.34ZM105.42,479.80L136.10,491.17L136.10,512.97L105.42,524.34L74.75,512.97L74.75,491.17ZM166.77,479.80L197.45,491.17L197.45,512.97L166.77,524.34L136.09,512.97L136.09,491.17ZM228.12,479.80L258.80,491.17L258.80,512.97L228.12,524.34L197.44,512.97L197.44,491.17ZM289.47,479.80L320.15,491.17L320.15,512.97L289.47,524.34L258.80,512.97L258.80,491.17ZM350.82,479.80L381.50,491.17L381.50,512.97L350.82,524.34L320.15,512.97L320.15,491.17ZM412.17,479.80L442.85,491.17L442.85,512.97L412.17,524.34L381.50,512.97L381.50,491.17ZM473.52,479.80L504.19,491.17L504.19,512.97L473.52,524.34L442.84,512.97L442.84,491.17ZM534.87,479.80L565.54,491.17L565.54,512.97L534.87,524.34L504.19,512.97L504.19,491.17ZM596.22,479.80L626.89,491.17L626.89,512.97L596.22,524.34L565.55,512.97L565.55,491.17ZM657.57,479.80L688.25,491.17L688.25,512.97L657.57,524.34L626.90,512.97L626.90,491.17ZM718.92,479.80L749.59,491.17L749.59,512.97L718.92,524.34L688.25,512.97L688.25,491.17ZM780.27,479.80L810.94,491.17L810.94,512.97L780.27,524.34L749.60,512.97L749.60,491.17ZM841.62,479.80L872.29,491.17L872.29,512.97L841.62,524.34L810.95,512.97L810.95,491.17ZM902.97,479.80L933.64,491.17L933.64,512.97L902.97,524.34L872.30,512.97L872.30,491.17ZM964.32,479.80L995.00,491.17L995.00,512.97L964.32,524.34L933.65,512.97L933.65,491.17ZM1025.67,479.80L1056.35,491.17L1056.35,512.97L1025.67,524.34L995.00,512.97L995.00,491.17ZM1087.02,479.80L1117.69,491.17L1117.69,512.97L1087.02,524.34L1056.35,512.97L1056.35,491.17ZM1148.37,479.80L1179.05,491.17L1179.05,512.97L1148.37,524.34L1117.70,512.97L1117.70,491.17ZM1209.72,479.80L1240.39,491.17L1240.39,512.97L1209.72,524.34L1179.05,512.97L1179.05,491.17ZM1271.07,479.80L1301.74,491.17L1301.74,512.97L1271.07,524.34L1240.39,512.97L1240.39,491.17ZM1332.42,479.80L1363.10,491.17L1363.10,512.97L1332.42,524.34L1301.75,512.97L1301.75,491.17ZM1393.77,479.80L1424.44,491.17L1424.44,512.97L1393.77,524.34L1363.10,512.97L1363.10,491.17ZM1455.12,479.80L1485.80,491.17L1485.80,512.97L1455.12,524.34L1424.45,512.97L1424.45,491.17ZM1516.47,479.80L1547.14,491.17L1547.14,512.97L1516.47,524.34L1485.80,512.97L1485.80,491.17ZM1577.82,479.80L1608.49,491.17L1608.49,512.97L1577.82,524.34L1547.14,512.97L1547.14,491.17ZM1639.17,479.80L1669.85,491.17L1669.85,512.97L1639.17,524.34L1608.50,512.97L1608.50,491.17ZM1700.52,479.80L1731.19,491.17L1731.19,512.97L1700.52,524.34L1669.85,512.97L1669.85,491.17ZM1761.87,479.80L1792.55,491.17L1792.55,512.97L1761.87,524.34L1731.20,512.97L1731.20,491.17ZM1823.22,479.80L1853.89,491.17L1853.89,512.97L1823.22,524.34L1792.55,512.97L1792.55,491.17ZM1884.57,479.80L1915.24,491.17L1915.24,512.97L1884.57,524.34L1853.89,512.97L1853.89,491.17ZM1945.92,479.80L1976.60,491.17L1976.60,512.97L1945.92,524.34L1915.25,512.97L1915.25,491.17ZM136.10,446.63L166.78,458.00L166.78,479.80L136.10,491.17L105.42,479.80L105.42,458.00ZM197.45,446.63L228.12,458.00L228.12,479.80L197.45,491.17L166.77,479.80L166.77,458.00ZM258.80,446.63L289.48,458.00L289.48,479.80L258.80,491.17L228.12,479.80L228.12,458.00ZM320.15,446.63L350.82,458.00L350.82,479.80L320.15,491.17L289.47,479.80L289.47,458.00ZM381.50,446.63L412.18,458.00L412.18,479.80L381.50,491.17L350.82,479.80L350.82,458.00ZM442.85,446.63L473.53,458.00L473.53,479.80L442.85,491.17L412.18,479.80L412.18,458.00ZM504.20,446.63L534.88,458.00L534.88,479.80L504.20,491.17L473.53,479.80L473.53,458.00ZM565.55,446.63L596.22,458.00L596.22,479.80L565.55,491.17L534.88,479.80L534.88,458.00ZM626.90,446.63L657.57,458.00L657.57,479.80L626.90,491.17L596.23,479.80L596.23,458.00ZM688.25,446.63L718.92,458.00L718.92,479.80L688.25,491.17L657.58,479.80L657.58,458.00ZM749.60,446.63L780.27,458.00L780.27,479.80L749.60,491.17L718.93,479.80L718.93,458.00ZM810.95,446.63L841.62,458.00L841.62,479.80L810.95,491.17L780.28,479.80L780.28,458.00ZM872.30,446.63L902.98,458.00L902.98,479.80L872.30,491.17L841.63,479.80L841.63,458.00ZM933.65,446.63L964.33,458.00L964.33,479.80L933.65,491.17L902.98,479.80L902.98,458.00ZM995.00,446.63L1025.67,458.00L1025.67,479.80L995.00,491.17L964.33,479.80L964.33,458.00ZM1056.35,446.63L1087.02,458.00L1087.02,479.80L1056.35,491.17L1025.67,479.80L1025.67,458.00ZM1117.70,446.63L1148.38,458.00L1148.38,479.80L1117.70,491.17L1087.03,479.80L1087.03,458.00ZM1179.05,446.63L1209.72,458.00L1209.72,479.80L1179.05,491.17L1148.38,479.80L1148.38,458.00ZM1240.40,446.63L1271.07,458.00L1271.07,479.80L1240.40,491.17L1209.72,479.80L1209.72,458.00ZM1301.75,446.63L1332.42,458.00L1332.42,479.80L1301.75,491.17L1271.08,479.80L1271.08,458.00ZM1363.10,446.63L1393.77,458.00L1393.77,479.80L1363.10,491.17L1332.42,479.80L1332.42,458.00ZM1424.45,446.63L1455.12,458.00L1455.12,479.80L1424.45,491.17L1393.78,479.80L1393.78,458.00ZM1485.80,446.63L1516.47,458.00L1516.47,479.80L1485.80,491.17L1455.12,479.80L1455.12,458.00ZM1547.15,446.63L1577.82,458.00L1577.82,479.80L1547.15,491.17L1516.47,479.80L1516.47,458.00ZM1608.50,446.63L1639.17,458.00L1639.17,479.80L1608.50,491.17L1577.83,479.80L1577.83,458.00ZM1669.85,446.63L1700.52,458.00L1700.52,479.80L1669.85,491.17L1639.17,479.80L1639.17,458.00ZM1731.20,446.63L1761.88,458.00L1761.88,479.80L1731.20,491.17L1700.53,479.80L1700.53,458.00ZM1792.55,446.63L1823.22,458.00L1823.22,479.80L1792.55,491.17L1761.88,479.80L1761.88,458.00ZM1853.90,446.63L1884.57,458.00L1884.57,479.80L1853.90,491.17L1823.22,479.80L1823.22,458.00ZM1915.25,446.63L1945.92,458.00L1945.92,479.80L1915.25,491.17L1884.58,479.80L1884.58,458.00Z" fill="none" stroke="#e3e3e3" stroke-width="1.4"/>
<path d="M228.12,413.50L228.12,458.00L228.12,479.80L197.45,491.17L197.45,512.97L228.12,524.34L228.12,546.14L197.45,557.51L197.45,579.31L228.12,590.68L228.12,612.48L197.45,623.85L197.45,645.65L228.12,657.02L228.12,678.82L197.45,690.19L197.45,711.99L228.12,723.36L228.12,745.16L197.45,756.53L197.45,778.33L228.12,789.70L228.12,811.50L197.45,822.87L197.45,844.67L228.12,856.04L228.12,877.84L197.45,889.21L197.45,911.01L228.12,922.38L228.12,944.18L197.45,955.55L197.45,977.35L228.12,988.72L228.12,1010.52L197.45,1021.89L197.45,1043.69L228.12,1055.06L228.12,1076.86L197.45,1088.23L197.45,1110.03L228.12,1121.40L228.12,1143.20L197.45,1154.57L197.45,1176.37L228.12,1187.74L228.12,1209.54L197.45,1220.91L197.45,1242.71L228.12,1254.08L228.12,1275.88L197.45,1287.25L197.45,1309.05L228.12,1320.42L228.12,1342.22L197.45,1353.59L197.45,1375.39L228.12,1386.76L228.12,1408.56L197.45,1419.93L197.45,1441.73L228.12,1453.10L246.53,1459.92" fill="none" stroke="#000" stroke-width="2.8" stroke-linejoin="miter"/>
<path d="M473.52,413.50L473.52,458.00L473.52,479.80L442.85,491.17L442.85,512.97L473.52,524.34L473.52,546.14L442.85,557.51L442.85,579.31L473.52,590.68L473.52,612.48L442.85,623.85L442.85,645.65L473.52,657.02L473.52,678.82L442.85,690.19L442.85,711.99L473.52,723.36L473.52,745.16L442.85,756.53L442.85,778.33L473.52,789.70L473.52,811.50L442.85,822.87L442.85,844.67L473.52,856.04L473.52,877.84L442.85,889.21L442.85,911.01L473.52,922.38L473.52,944.18L442.85,955.55L442.85,977.35L473.52,988.72L473.52,1010.52L442.85,1021.89L442.85,1043.69L473.52,1055.06L473.52,1076.86L442.85,1088.23L442.85,1110.03L473.52,1121.40L473.52,1143.20L442.85,1154.57L442.85,1176.37L473.52,1187.74L473.52,1209.54L442.85,1220.91L442.85,1242.71L473.52,1254.08L473.52,1275.88L442.85,1287.25L442.85,1309.05L473.52,1320.42L473.52,1342.22L442.85,1353.59L442.85,1375.39L473.52,1386.76L473.52,1408.56L442.85,1419.93L442.85,1441.73L473.52,1453.10L491.93,1459.92" fill="none" stroke="#000" stroke-width="2.8" stroke-linejoin="miter"/>
<path d="M718.93,413.50L718.93,458.00L718.93,479.80L688.25,491.17L688.25,512.97L718.93,524.34L718.93,546.14L688.25,557.51L688.25,579.31L718.93,590.68L718.93,612.48L688.25,623.85L688.25,645.65L718.93,657.02L718.93,678.82L688.25,690.19L688.25,711.99L718.93,723.36L718.93,745.16L688.25,756.53L688.25,778.33L718.93,789.70L718.93,811.50L688.25,822.87L688.25,844.67L718.93,856.04L718.93,877.84L688.25,889.21L688.25,911.01L718.93,922.38L718.93,944.18L688.25,955.55L688.25,977.35L718.93,988.72L718.93,1010.52L688.25,1021.89L688.25,1043.69L718.93,1055.06L718.93,1076.86L688.25,1088.23L688.25,1110.03L718.93,1121.40L718.93,1143.20L688.25,1154.57L688.25,1176.37L718.93,1187.74L718.93,1209.54L688.25,1220.91L688.25,1242.71L718.93,1254.08L718.93,1275.88L688.25,1287.25L688.25,1309.05L718.93,1320.42L718.93,1342.22L688.25,1353.59L688.25,1375.39L718.93,1386.76L718.93,1408.56L688.25,1419.93L688.25,1441.73L718.93,1453.10L737.33,1459.92" fill="none" stroke="#000" stroke-width="2.8" stroke-linejoin="miter"/>
<path d="M964.33,413.50L964.33,458.00L964.33,479.80L933.65,491.17L933.65,512.97L964.33,524.34L964.33,546.14L933.65,557.51L933.65,579.31L964.33,590.68L964.33,612.48L933.65,623.85L933.65,645.65L964.33,657.02L964.33,678.82L933.65,690.19L933.65,711.99L964.33,723.36L964.33,745.16L933.65,756.53L933.65,778.33L964.33,789.70L964.33,811.50L933.65,822.87L933.65,844.67L964.33,856.04L964.33,877.84L933.65,889.21L933.65,911.01L964.33,922.38L964.33,944.18L933.65,955.55L933.65,977.35L964.33,988.72L964.33,1010.52L933.65,1021.89L933.65,1043.69L964.33,1055.06L964.33,1076.86L933.65,1088.23L933.65,1110.03L964.33,1121.40L964.33,1143.20L933.65,1154.57L933.65,1176.37L964.33,1187.74L964.33,1209.54L933.65,1220.91L933.65,1242.71L964.33,1254.08L964.33,1275.88L933.65,1287.25L933.65,1309.05L964.33,1320.42L964.33,1342.22L933.65,1353.59L933.65,1375.39L964.33,1386.76L964.33,1408.56L933.65,1419.93L933.65,1441.73L964.33,1453.10L982.73,1459.92" fill="none" stroke="#000" stroke-width="2.8" stroke-linejoin="miter"/>
<path d="M1209.72,413.50L1209.72,458.00L1209.72,479.80L1179.05,491.17L1179.05,512.97L1209.72,524.34L1209.72,546.14L1179.05,557.51L1179.05,579.31L1209.72,590.68L1209.72,612.48L1179.05,623.85L1179.05,645.65L1209.72,657.02L1209.72,678.82L1179.05,690.19L1179.05,711.99L1209.72,723.36L1209.72,745.16L1179.05,756.53L1179.05,778.33L1209.72,789.70L1209.72,811.50L1179.05,822.87L1179.05,844.67L1209.72,856.04L1209.72,877.84L1179.05,889.21L1179.05,911.01L1209.72,922.38L1209.72,944.18L1179.05,955.55L1179.05,977.35L1209.72,988.72L1209.72,1010.52L1179.05,1021.89L1179.05,1043.69L1209.72,1055.06L1209.72,1076.86L1179.05,1088.23L1179.05,1110.03L1209.72,1121.40L1209.72,1143.20L1179.05,1154.57L1179.05,1176.37L1209.72,1187.74L1209.72,1209.54L1179.05,1220.91L1179.05,1242.71L1209.72,1254.08L1209.72,1275.88L1179.05,1287.25L1179.05,1309.05L1209.72,1320.42L1209.72,1342.22L1179.05,1353.59L1179.05,1375.39L1209.72,1386.76L1209.72,1408.56L1179.05,1419.93L1179.05,1441.73L1209.72,1453.10L1228.13,1459.92" fill="none" stroke="#000" stroke-width="2.8" stroke-linejoin="miter"/>
<path d="M1455.12,413.50L1455.12,458.00L1455.12,479.80L1424.45,491.17L1424.45,512.97L1455.12,524.34L1455.12,546.14L1424.45,557.51L1424.45,579.31L1455.12,590.68L1455.12,612.48L1424.45,623.85L1424.45,645.65L1455.12,657.02L1455.12,678.82L1424.45,690.19L1424.45,711.99L1455.12,723.36L1455.12,745.16L1424.45,756.53L1424.45,778.33L1455.12,789.70L1455.12,811.50L1424.45,822.87L1424.45,844.67L1455.12,856.04L1455.12,877.84L1424.45,889.21L1424.45,911.01L1455.12,922.38L1455.12,944.18L1424.45,955.55L1424.45,977.35L1455.12,988.72L1455.12,1010.52L1424.45,1021.89L1424.45,1043.69L1455.12,1055.06L1455.12,1076.86L1424.45,1088.23L1424.45,1110.03L1455.12,1121.40L1455.12,1143.20L1424.45,1154.57L1424.45,1176.37L1455.12,1187.74L1455.12,1209.54L1424.45,1220.91L1424.45,1242.71L1455.12,1254.08L1455.12,1275.88L1424.45,1287.25L1424.45,1309.05L1455.12,1320.42L1455.12,1342.22L1424.45,1353.59L1424.45,1375.39L1455.12,1386.76L1455.12,1408.56L1424.45,1419.93L1424.45,1441.73L1455.12,1453.10L1473.53,1459.92" fill="none" stroke="#000" stroke-width="2.8" stroke-linejoin="miter"/>
<path d="M1700.52,413.50L1700.52,458.00L1700.52,479.80L1669.85,491.17L1669.85,512.97L1700.52,524.34L1700.52,546.14L1669.85,557.51L1669.85,579.31L1700.52,590.68L1700.52,612.48L1669.85,623.85L1669.85,645.65L1700.52,657.02L1700.52,678.82L1669.85,690.19L1669.85,711.99L1700.52,723.36L1700.52,745.16L1669.85,756.53L1669.85,778.33L1700.52,789.70L1700.52,811.50L1669.85,822.87L1669.85,844.67L1700.52,856.04L1700.52,877.84L1669.85,889.21L1669.85,911.01L1700.52,922.38L1700.52,944.18L1669.85,955.55L1669.85,977.35L1700.52,988.72L1700.52,1010.52L1669.85,1021.89L1669.85,1043.69L1700.52,1055.06L1700.52,1076.86L1669.85,1088.23L1669.85,1110.03L1700.52,1121.40L1700.52,1143.20L1669.85,1154.57L1669.85,1176.37L1700.52,1187.74L1700.52,1209.54L1669.85,1220.91L1669.85,1242.71L1700.52,1254.08L1700.52,1275.88L1669.85,1287.25L1669.85,1309.05L1700.52,1320.42L1700.52,1342.22L1669.85,1353.59L1669.85,1375.39L1700.52,1386.76L1700.52,1408.56L1669.85,1419.93L1669.85,1441.73L1700.52,1453.10L1718.93,1459.92" fill="none" stroke="#000" stroke-width="2.8" stroke-linejoin="miter"/>
</g>
<g clip-path="url(#cl)">
<path d="M197.45,413.30L258.80,413.30L320.15,413.30L381.50,413.30L442.85,413.30L504.20,413.30L565.55,413.30L626.90,413.30L688.25,400.13L749.60,363.54L810.95,363.54L872.30,363.54L933.65,363.54L995.00,363.54L1056.35,363.54L1117.70,363.54L1179.05,363.54L1240.40,363.54L1301.75,363.54L1363.10,363.54L1424.45,363.54L1485.80,363.54L1547.15,363.54L1608.50,363.54L1669.85,363.54L1731.20,363.54L1792.55,363.54L1853.90,363.54L1915.25,363.54M197.45,413.30L258.80,413.30L320.15,413.30L381.50,413.30L442.85,413.30L504.20,413.30L565.55,413.30L626.90,413.30L688.25,413.30L749.60,385.86L810.95,375.98L872.30,375.98L933.65,375.98L995.00,375.98L1056.35,375.98L1117.70,375.98L1179.05,375.98L1240.40,375.98L1301.75,375.98L1363.10,375.98L1424.45,375.98L1485.80,375.98L1547.15,375.98L1608.50,375.98L1669.85,375.98L1731.20,375.98L1792.55,375.98L1853.90,375.98L1915.25,375.98M197.45,413.30L258.80,413.30L320.15,413.30L381.50,413.30L442.85,413.30L504.20,413.30L565.55,413.30L626.90,413.30L688.25,377.42L749.60,298.47L810.95,262.58L872.30,226.70L933.65,226.70L995.00,226.70L1056.35,226.70L1117.70,226.70L1179.05,226.70L1240.40,226.70L1301.75,226.70L1363.10,226.70L1424.45,226.70L1485.80,226.70L1547.15,226.70L1608.50,226.70L1669.85,226.70L1731.20,226.70L1792.55,226.70L1853.90,226.70L1915.25,226.70M197.45,413.30L258.80,413.30L320.15,413.30L381.50,413.30L442.85,413.30L504.20,413.30L565.55,413.30L626.90,413.30L688.25,386.09L749.60,358.88L810.95,331.66L872.30,321.87L933.65,321.87L995.00,321.87L1056.35,321.87L1117.70,321.87L1179.05,321.87L1240.40,321.87L1301.75,321.87L1363.10,321.87L1424.45,321.87L1485.80,321.87L1547.15,321.87L1608.50,321.87L1669.85,321.87L1731.20,321.87L1792.55,321.87L1853.90,321.87L1915.25,226.70M197.45,413.30L258.80,413.30L320.15,413.30L381.50,413.30L442.85,413.30L504.20,413.30L565.55,413.30L626.90,413.30L688.25,380.68L749.60,348.06L810.95,315.43L872.30,282.81L933.65,271.07L995.00,271.07L1056.35,271.07L1117.70,238.44L1179.05,226.70L1240.40,226.70L1301.75,226.70L1363.10,226.70L1424.45,226.70L1485.80,226.70L1547.15,226.70L1608.50,226.70L1669.85,226.70L1731.20,226.70L1792.55,226.70L1853.90,226.70L1915.25,226.70M197.45,413.30L258.80,413.30L320.15,413.30L381.50,413.30L442.85,413.30L504.20,413.30L565.55,413.30L626.90,413.30L688.25,375.98L749.60,338.66L810.95,338.66L872.30,338.66L933.65,338.66L995.00,338.66L1056.35,338.66L1117.70,338.66L1179.05,338.66L1240.40,338.66L1301.75,338.66L1363.10,338.66L1424.45,338.66L1485.80,338.66L1547.15,338.66L1608.50,338.66L1669.85,338.66L1731.20,338.66L1792.55,338.66L1853.90,338.66L1915.25,338.66M197.45,413.30L258.80,413.30L320.15,413.30L381.50,413.30L442.85,413.30L504.20,413.30L565.55,413.30L626.90,413.30L688.25,379.09L749.60,344.88L810.95,310.67L872.30,276.46L933.65,276.46L995.00,276.46L1056.35,276.46L1117.70,276.46L1179.05,276.46L1240.40,276.46L1301.75,276.46L1363.10,276.46L1424.45,276.46L1485.80,276.46L1547.15,276.46L1608.50,276.46L1669.85,276.46L1731.20,276.46L1792.55,276.46L1853.90,276.46L1915.25,276.46M197.45,413.30L258.80,413.30L320.15,413.30L381.50,413.30L442.85,413.30L504.20,413.30L565.55,413.30L626.90,401.77L688.25,369.76L749.60,337.75L810.95,326.22L872.30,326.22L933.65,326.22L995.00,326.22L1056.35,326.22L1117.70,314.69L1179.05,282.68L1240.40,282.68L1301.75,282.68L1363.10,282.68L1424.45,282.68L1485.80,282.68L1547.15,282.68L1608.50,282.68L1669.85,282.68L1731.20,282.68L1792.55,282.68L1853.90,282.68L1915.25,282.68M197.45,413.30L258.80,413.30L320.15,413.30L381.50,413.30L442.85,413.30L504.20,413.30L565.55,413.30L626.90,413.30L688.25,337.02L749.60,302.35L810.95,267.68L872.30,233.00L933.65,233.00L995.00,233.00L1056.35,220.52L1117.70,208.04L1179.05,208.04L1240.40,208.04L1301.75,208.04L1363.10,208.04L1424.45,208.04L1485.80,208.04L1547.15,208.04L1608.50,208.04L1669.85,208.04L1731.20,208.04L1792.55,208.04L1853.90,208.04L1915.25,208.04M197.45,413.30L258.80,413.30L320.15,413.30L381.50,413.30L442.85,413.30L504.20,413.30L565.55,413.30L626.90,413.30L688.25,377.20L749.60,341.10L810.95,305.01L872.30,292.01L933.65,292.01L995.00,292.01L1056.35,292.01L1117.70,292.01L1179.05,292.01L1240.40,292.01L1301.75,292.01L1363.10,292.01L1424.45,292.01L1485.80,292.01L1547.15,292.01L1608.50,292.01L1669.85,292.01L1731.20,292.01L1792.55,292.01L1853.90,232.30L1915.25,142.73M197.45,413.30L258.80,413.30L320.15,413.30L381.50,413.30L442.85,413.30L504.20,413.30L565.55,413.30L626.90,413.30L688.25,354.65L749.60,328.00L810.95,328.00L872.30,301.34L933.65,301.34L995.00,301.34L1056.35,301.34L1117.70,301.34L1179.05,301.34L1240.40,301.34L1301.75,301.34L1363.10,301.34L1424.45,301.34L1485.80,301.34L1547.15,301.34L1608.50,301.34L1669.85,301.34L1731.20,301.34L1792.55,301.34L1853.90,301.34L1915.25,301.34M197.45,413.30L258.80,413.30L320.15,413.30L381.50,413.30L442.85,413.30L504.20,413.30L565.55,413.30L626.90,370.72L688.25,328.15L749.60,285.57L810.95,270.24L872.30,270.24L933.65,270.24L995.00,270.24L1056.35,270.24L1117.70,270.24L1179.05,270.24L1240.40,270.24L1301.75,270.24L1363.10,270.24L1424.45,270.24L1485.80,270.24L1547.15,270.24L1608.50,270.24L1669.85,270.24L1731.20,270.24L1792.55,270.24L1853.90,270.24L1915.25,270.24M197.45,413.30L258.80,413.30L320.15,413.30L381.50,413.30L442.85,413.30L504.20,413.30L565.55,413.30L626.90,413.30L688.25,370.36L749.60,327.43L810.95,284.49L872.30,241.55L933.65,226.10L995.00,226.10L1056.35,226.10L1117.70,183.16L1179.05,183.16L1240.40,183.16L1301.75,183.16L1363.10,183.16L1424.45,183.16L1485.80,183.16L1547.15,183.16L1608.50,183.16L1669.85,183.16L1731.20,183.16L1792.55,183.16L1853.90,183.16L1915.25,183.16M197.45,413.30L258.80,413.30L320.15,413.30L381.50,413.30L442.85,413.30L504.20,413.30L565.55,413.30L626.90,413.30L688.25,413.30L749.60,382.99L810.95,352.68L872.30,322.37L933.65,311.46L995.00,311.46L1056.35,311.46L1117.70,281.15L1179.05,270.24L1240.40,270.24L1301.75,270.24L1363.10,270.24L1424.45,270.24L1485.80,270.24L1547.15,270.24L1608.50,270.24L1669.85,270.24L1731.20,270.24L1792.55,270.24L1853.90,270.24L1915.25,270.24M197.45,413.30L258.80,413.30L320.15,413.30L381.50,413.30L442.85,413.30L504.20,413.30L565.55,413.30L626.90,413.30L688.25,378.13L749.60,342.95L810.95,307.78L872.30,295.12L933.65,295.12L995.00,295.12L1056.35,295.12L1117.70,295.12L1179.05,295.12L1240.40,295.12L1301.75,295.12L1363.10,295.12L1424.45,295.12L1485.80,295.12L1547.15,295.12L1608.50,295.12L1669.85,295.12L1731.20,295.12L1792.55,295.12L1853.90,295.12L1915.25,295.12M197.45,413.30L258.80,413.30L320.15,413.30L381.50,413.30L442.85,413.30L504.20,413.30L565.55,413.30L626.90,413.30L688.25,380.47L749.60,347.64L810.95,314.82L872.30,281.99L933.65,209.77L995.00,176.94L1056.35,176.94L1117.70,176.94L1179.05,176.94L1240.40,176.94L1301.75,176.94L1363.10,176.94L1424.45,176.94L1485.80,176.94L1547.15,176.94L1608.50,176.94L1669.85,176.94L1731.20,176.94L1792.55,176.94L1853.90,176.94L1915.25,176.94M197.45,413.30L258.80,413.30L320.15,413.30L381.50,413.30L442.85,413.30L504.20,413.30L565.55,413.30L626.90,413.30L688.25,386.55L749.60,359.81L810.95,333.06L872.30,333.06L933.65,333.06L995.00,333.06L1056.35,333.06L1117.70,333.06L1179.05,333.06L1240.40,333.06L1301.75,333.06L1363.10,333.06L1424.45,333.06L1485.80,333.06L1547.15,333.06L1608.50,333.06L1669.85,333.06L1731.20,333.06L1792.55,333.06L1853.90,333.06L1915.25,217.37M197.45,413.30L258.80,413.30L320.15,413.30L381.50,413.30L442.85,413.30L504.20,413.30L565.55,413.30L626.90,413.30L688.25,376.28L749.60,339.25L810.95,325.92L872.30,288.90L933.65,288.90L995.00,288.90L1056.35,288.90L1117.70,288.90L1179.05,288.90L1240.40,288.90L1301.75,288.90L1363.10,288.90L1424.45,288.90L1485.80,288.90L1547.15,288.90L1608.50,288.90L1669.85,288.90L1731.20,288.90L1792.55,288.90L1853.90,288.90L1915.25,288.90M197.45,413.30L258.80,413.30L320.15,413.30L381.50,413.30L442.85,413.30L504.20,413.30L565.55,413.30L626.90,413.30L688.25,376.40L749.60,339.50L810.95,326.22L872.30,326.22L933.65,326.22L995.00,326.22L1056.35,326.22L1117.70,326.22L1179.05,326.22L1240.40,326.22L1301.75,326.22L1363.10,326.22L1424.45,326.22L1485.80,326.22L1547.15,326.22L1608.50,326.22L1669.85,326.22L1731.20,326.22L1792.55,326.22L1853.90,326.22L1915.25,326.22M197.45,413.30L258.80,413.30L320.15,413.30L381.50,413.30L442.85,413.30L504.20,413.30L565.55,413.30L626.90,344.40L688.25,275.51L749.60,244.19L810.95,232.92L872.30,232.92L933.65,232.92L995.00,232.92L1056.35,232.92L1117.70,232.92L1179.05,232.92L1240.40,232.92L1301.75,232.92L1363.10,232.92L1424.45,232.92L1485.80,232.92L1547.15,232.92L1608.50,232.92L1669.85,232.92L1731.20,232.92L1792.55,232.92L1853.90,232.92L1915.25,232.92M197.45,413.30L258.80,413.30L320.15,413.30L381.50,413.30L442.85,413.30L504.20,413.30L565.55,413.30L626.90,375.98L688.25,338.66L749.60,301.34L810.95,264.02L872.30,264.02L933.65,264.02L995.00,264.02L1056.35,264.02L1117.70,264.02L1179.05,264.02L1240.40,264.02L1301.75,264.02L1363.10,264.02L1424.45,264.02L1485.80,264.02L1547.15,264.02L1608.50,264.02L1669.85,264.02L1731.20,264.02L1792.55,264.02L1853.90,264.02L1915.25,264.02M197.45,413.30L258.80,413.30L320.15,413.30L381.50,413.30L442.85,413.30L504.20,413.30L565.55,413.30L626.90,413.30L688.25,329.86L749.60,291.93L810.95,291.93L872.30,278.28L933.65,278.28L995.00,278.28L1056.35,278.28L1117.70,240.35L1179.05,240.35L1240.40,240.35L1301.75,240.35L1363.10,240.35L1424.45,240.35L1485.80,240.35L1547.15,226.70L1608.50,226.70L1669.85,226.70L1731.20,226.70L1792.55,226.70L1853.90,226.70L1915.25,226.70M197.45,413.30L258.80,413.30L320.15,413.30L381.50,413.30L442.85,413.30L504.20,413.30L565.55,413.30L626.90,413.30L688.25,384.27L749.60,355.25L810.95,326.22L872.30,326.22L933.65,326.22L995.00,326.22L1056.35,326.22L1117.70,326.22L1179.05,326.22L1240.40,326.22L1301.75,326.22L1363.10,326.22L1424.45,326.22L1485.80,326.22L1547.15,326.22L1608.50,326.22L1669.85,326.22L1731.20,326.22L1792.55,326.22L1853.90,326.22L1915.25,326.22M197.45,413.30L258.80,413.30L320.15,413.30L381.50,413.30L442.85,413.30L504.20,413.30L565.55,405.71L626.90,405.71L688.25,384.62L749.60,363.54L810.95,363.54L872.30,363.54L933.65,363.54L995.00,363.54L1056.35,363.54L1117.70,363.54L1179.05,363.54L1240.40,363.54L1301.75,363.54L1363.10,363.54L1424.45,363.54L1485.80,363.54L1547.15,363.54L1608.50,363.54L1669.85,363.54L1731.20,363.54L1792.55,363.54L1853.90,363.54L1915.25,363.54M197.45,413.30L258.80,413.30L320.15,413.30L381.50,413.30L442.85,413.30L504.20,413.30L565.55,413.30L626.90,413.30L688.25,324.89L749.60,284.71L810.95,284.71L872.30,284.71L933.65,284.71L995.00,284.71L1056.35,284.71L1117.70,270.24L1179.05,270.24L1240.40,270.24L1301.75,270.24L1363.10,270.24L1424.45,270.24L1485.80,270.24L1547.15,270.24L1608.50,270.24L1669.85,270.24L1731.20,270.24L1792.55,270.24L1853.90,270.24L1915.25,270.24M197.45,413.30L258.80,413.30L320.15,413.30L381.50,413.30L442.85,413.30L504.20,413.30L565.55,413.30L626.90,413.30L688.25,413.30L749.60,373.36L810.95,333.41L872.30,319.03L933.65,279.08L995.00,279.08L1056.35,279.08L1117.70,239.14L1179.05,239.14L1240.40,239.14L1301.75,239.14L1363.10,239.14L1424.45,239.14L1485.80,239.14L1547.15,239.14L1608.50,239.14L1669.85,239.14L1731.20,239.14L1792.55,239.14L1853.90,239.14L1915.25,239.14M197.45,413.30L258.80,413.30L320.15,413.30L381.50,413.30L442.85,413.30L504.20,413.30L565.55,413.30L626.90,413.30L688.25,413.30L749.60,385.31L810.95,385.31L872.30,385.31L933.65,385.31L995.00,385.31L1056.35,385.31L1117.70,385.31L1179.05,357.32L1240.40,357.32L1301.75,357.32L1363.10,357.32L1424.45,357.32L1485.80,357.32L1547.15,357.32L1608.50,357.32L1669.85,357.32L1731.20,357.32L1792.55,357.32L1853.90,357.32L1915.25,357.32M197.45,413.30L258.80,413.30L320.15,413.30L381.50,413.30L442.85,413.30L504.20,413.30L565.55,413.30L626.90,413.30L688.25,380.56L749.60,347.83L810.95,315.09L872.30,282.35L933.65,270.57L995.00,258.78L1056.35,226.05L1117.70,214.26L1179.05,214.26L1240.40,214.26L1301.75,214.26L1363.10,214.26L1424.45,214.26L1485.80,214.26L1547.15,214.26L1608.50,214.26L1669.85,214.26L1731.20,214.26L1792.55,214.26L1853.90,214.26L1915.25,214.26M197.45,413.30L258.80,413.30L320.15,413.30L381.50,413.30L442.85,413.30L504.20,413.30L565.55,413.30L626.90,413.30L688.25,413.30L749.60,373.52L810.95,359.20L872.30,344.88L933.65,344.88L995.00,344.88L1056.35,344.88L1117.70,344.88L1179.05,344.88L1240.40,344.88L1301.75,344.88L1363.10,344.88L1424.45,344.88L1485.80,344.88L1547.15,344.88L1608.50,344.88L1669.85,344.88L1731.20,344.88L1792.55,344.88L1853.90,344.88L1915.25,344.88M197.45,413.30L258.80,413.30L320.15,413.30L381.50,413.30L442.85,413.30L504.20,413.30L565.55,413.30L626.90,413.30L688.25,377.19L749.60,341.08L810.95,328.09L872.30,328.09L933.65,328.09L995.00,328.09L1056.35,328.09L1117.70,328.09L1179.05,328.09L1240.40,328.09L1301.75,328.09L1363.10,328.09L1424.45,328.09L1485.80,328.09L1547.15,328.09L1608.50,328.09L1669.85,328.09L1731.20,328.09L1792.55,320.00L1853.90,292.01L1915.25,283.92" fill="none" stroke="#1e90ff" stroke-width="1.5"/>
<path d="M197.45,413.30L258.80,413.30L320.15,413.30L381.50,413.30L442.85,413.30L504.20,413.30L565.55,413.30L626.90,413.30L688.25,369.14L749.60,332.44L810.95,318.76L872.30,292.01L933.65,292.01L995.00,292.01L1056.35,292.01L1117.70,285.17L1179.05,278.01L1240.40,278.01L1301.75,278.01L1363.10,278.01L1424.45,278.01L1485.80,278.01L1547.15,278.01L1608.50,278.01L1669.85,278.01L1731.20,278.01L1792.55,278.01L1853.90,272.73L1915.25,267.13" fill="none" stroke="#000" stroke-width="2.4"/>
<line x1="137" y1="226.7" x2="1914" y2="226.7" stroke="#000" stroke-width="2" stroke-dasharray="2.6 10.3" stroke-dashoffset="-3"/>
</g>
<rect x="136.6" y="101.6" width="2101" height="1352.2" fill="none" stroke="#2a2a2a" stroke-width="1.7"/>
<line x1="1914.6" y1="101" x2="1914.6" y2="1453" stroke="#444" stroke-width="2"/>
<line x1="137" y1="413.6" x2="1914" y2="413.6" stroke="#111" stroke-width="1.8"/>
<text x="353.2" y="445.4" font-family="Liberation Sans" font-size="35" font-weight="bold" fill="#000" text-anchor="middle" textLength="145.5" lengthAdjust="spacingAndGlyphs">Thu 1/22</text>
<text x="593.2" y="445.4" font-family="Liberation Sans" font-size="35" font-weight="bold" fill="#000" text-anchor="middle" textLength="125.2" lengthAdjust="spacingAndGlyphs">Fri 1/23</text>
<text x="836.3" y="445.4" font-family="Liberation Sans" font-size="35" font-weight="bold" fill="#000" text-anchor="middle" textLength="136.1" lengthAdjust="spacingAndGlyphs">Sat 1/24</text>
<text x="1085.4" y="445.4" font-family="Liberation Sans" font-size="35" font-weight="bold" fill="#000" text-anchor="middle" textLength="146.8" lengthAdjust="spacingAndGlyphs">Sun 1/25</text>
<text x="1329.5" y="445.4" font-family="Liberation Sans" font-size="35" font-weight="bold" fill="#000" text-anchor="middle" textLength="156.3" lengthAdjust="spacingAndGlyphs">Mon 1/26</text>
<text x="1576.6" y="445.4" font-family="Liberation Sans" font-size="35" font-weight="bold" fill="#000" text-anchor="middle" textLength="140.8" lengthAdjust="spacingAndGlyphs">Tue 1/27</text>
<text x="1820.4" y="445.4" font-family="Liberation Sans" font-size="35" font-weight="bold" fill="#000" text-anchor="middle" textLength="156.3" lengthAdjust="spacingAndGlyphs">Wed 1/28</text>
<text x="119.2" y="1443.6" font-family="Liberation Sans" font-size="32" font-weight="normal" fill="#000" text-anchor="end" textLength="19.5" lengthAdjust="spacingAndGlyphs">1</text>
<text x="119.2" y="1410.5" font-family="Liberation Sans" font-size="32" font-weight="normal" fill="#000" text-anchor="end" textLength="19.5" lengthAdjust="spacingAndGlyphs">2</text>
<text x="119.2" y="1377.3" font-family="Liberation Sans" font-size="32" font-weight="normal" fill="#000" text-anchor="end" textLength="19.5" lengthAdjust="spacingAndGlyphs">3</text>
<text x="119.2" y="1344.1" font-family="Liberation Sans" font-size="32" font-weight="normal" fill="#000" text-anchor="end" textLength="19.5" lengthAdjust="spacingAndGlyphs">4</text>
<text x="119.2" y="1311.0" font-family="Liberation Sans" font-size="32" font-weight="normal" fill="#000" text-anchor="end" textLength="19.5" lengthAdjust="spacingAndGlyphs">5</text>
<text x="119.2" y="1277.8" font-family="Liberation Sans" font-size="32" font-weight="normal" fill="#000" text-anchor="end" textLength="19.5" lengthAdjust="spacingAndGlyphs">6</text>
<text x="119.2" y="1244.6" font-family="Liberation Sans" font-size="32" font-weight="normal" fill="#000" text-anchor="end" textLength="19.5" lengthAdjust="spacingAndGlyphs">7</text>
<text x="119.2" y="1211.4" font-family="Liberation Sans" font-size="32" font-weight="normal" fill="#000" text-anchor="end" textLength="19.5" lengthAdjust="spacingAndGlyphs">8</text>
<text x="119.2" y="1178.3" font-family="Liberation Sans" font-size="32" font-weight="normal" fill="#000" text-anchor="end" textLength="19.5" lengthAdjust="spacingAndGlyphs">9</text>
<text x="119.2" y="1145.1" font-family="Liberation Sans" font-size="32" font-weight="normal" fill="#000" text-anchor="end" textLength="38.5" lengthAdjust="spacingAndGlyphs">10</text>
<text x="119.2" y="1111.9" font-family="Liberation Sans" font-size="32" font-weight="normal" fill="#000" text-anchor="end" textLength="38.5" lengthAdjust="spacingAndGlyphs">11</text>
<text x="119.2" y="1078.8" font-family="Liberation Sans" font-size="32" font-weight="normal" fill="#000" text-anchor="end" textLength="38.5" lengthAdjust="spacingAndGlyphs">12</text>
<text x="119.2" y="1045.6" font-family="Liberation Sans" font-size="32" font-weight="normal" fill="#000" text-anchor="end" textLength="38.5" lengthAdjust="spacingAndGlyphs">13</text>
<text x="119.2" y="1012.4" font-family="Liberation Sans" font-size="32" font-weight="normal" fill="#000" text-anchor="end" textLength="38.5" lengthAdjust="spacingAndGlyphs">14</text>
<text x="119.2" y="979.2" font-family="Liberation Sans" font-size="32" font-weight="normal" fill="#000" text-anchor="end" textLength="38.5" lengthAdjust="spacingAndGlyphs">15</text>
<text x="119.2" y="946.1" font-family="Liberation Sans" font-size="32" font-weight="normal" fill="#000" text-anchor="end" textLength="38.5" lengthAdjust="spacingAndGlyphs">16</text>
<text x="119.2" y="912.9" font-family="Liberation Sans" font-size="32" font-weight="normal" fill="#000" text-anchor="end" textLength="38.5" lengthAdjust="spacingAndGlyphs">17</text>
<text x="119.2" y="879.7" font-family="Liberation Sans" font-size="32" font-weight="normal" fill="#000" text-anchor="end" textLength="38.5" lengthAdjust="spacingAndGlyphs">18</text>
<text x="119.2" y="846.6" font-family="Liberation Sans" font-size="32" font-weight="normal" fill="#000" text-anchor="end" textLength="38.5" lengthAdjust="spacingAndGlyphs">19</text>
<text x="119.2" y="813.4" font-family="Liberation Sans" font-size="32" font-weight="normal" fill="#000" text-anchor="end" textLength="38.5" lengthAdjust="spacingAndGlyphs">20</text>
<text x="119.2" y="780.2" font-family="Liberation Sans" font-size="32" font-weight="normal" fill="#000" text-anchor="end" textLength="38.5" lengthAdjust="spacingAndGlyphs">21</text>
<text x="119.2" y="747.1" font-family="Liberation Sans" font-size="32" font-weight="normal" fill="#000" text-anchor="end" textLength="38.5" lengthAdjust="spacingAndGlyphs">22</text>
<text x="119.2" y="713.9" font-family="Liberation Sans" font-size="32" font-weight="normal" fill="#000" text-anchor="end" textLength="38.5" lengthAdjust="spacingAndGlyphs">23</text>
<text x="119.2" y="680.7" font-family="Liberation Sans" font-size="32" font-weight="normal" fill="#000" text-anchor="end" textLength="38.5" lengthAdjust="spacingAndGlyphs">24</text>
<text x="119.2" y="647.5" font-family="Liberation Sans" font-size="32" font-weight="normal" fill="#000" text-anchor="end" textLength="38.5" lengthAdjust="spacingAndGlyphs">25</text>
<text x="119.2" y="614.4" font-family="Liberation Sans" font-size="32" font-weight="normal" fill="#000" text-anchor="end" textLength="38.5" lengthAdjust="spacingAndGlyphs">26</text>
<text x="119.2" y="581.2" font-family="Liberation Sans" font-size="32" font-weight="normal" fill="#000" text-anchor="end" textLength="38.5" lengthAdjust="spacingAndGlyphs">27</text>
<text x="119.2" y="548.0" font-family="Liberation Sans" font-size="32" font-weight="normal" fill="#000" text-anchor="end" textLength="38.5" lengthAdjust="spacingAndGlyphs">28</text>
<text x="119.2" y="514.9" font-family="Liberation Sans" font-size="32" font-weight="normal" fill="#000" text-anchor="end" textLength="38.5" lengthAdjust="spacingAndGlyphs">29</text>
<text x="119.2" y="481.7" font-family="Liberation Sans" font-size="32" font-weight="normal" fill="#000" text-anchor="end" textLength="38.5" lengthAdjust="spacingAndGlyphs">30</text>
<text x="119" y="239.4" font-family="Liberation Sans" font-size="34.2" font-weight="normal" fill="#000" text-anchor="end" textLength="49" lengthAdjust="spacingAndGlyphs">0.3</text>
<text x="119" y="426.5" font-family="Liberation Sans" font-size="34.2" font-weight="normal" fill="#000" text-anchor="end" textLength="49" lengthAdjust="spacingAndGlyphs">0.0</text>
<text transform="translate(43,258.4) rotate(-90)" font-family="Liberation Sans" font-size="34.5" text-anchor="middle" textLength="250" lengthAdjust="spacingAndGlyphs">Total Precip [in]</text>
<text transform="translate(53.8,932.5) rotate(-90)" font-family="Liberation Sans" font-size="35.5" text-anchor="middle" textLength="474" lengthAdjust="spacingAndGlyphs">Individual Ensemble Members</text>
<text x="2076.6" y="126.3" font-family="Liberation Sans" font-size="25.5" font-weight="bold" fill="#000" text-anchor="middle" textLength="78.5" lengthAdjust="spacingAndGlyphs">MEAN</text>
<text x="2076.6" y="178.3" font-family="Liberation Sans" font-size="25.5" font-weight="bold" fill="#000" text-anchor="middle" textLength="106.5" lengthAdjust="spacingAndGlyphs">MEDIAN</text>
<text x="2076.6" y="230.3" font-family="Liberation Sans" font-size="25.5" font-weight="bold" fill="#000" text-anchor="middle" textLength="59.5" lengthAdjust="spacingAndGlyphs">MAX</text>
<text x="2076.6" y="282.3" font-family="Liberation Sans" font-size="25.5" font-weight="bold" fill="#000" text-anchor="middle" textLength="51" lengthAdjust="spacingAndGlyphs">MIN</text>
<text x="1961" y="147" font-family="Liberation Sans" font-size="22" font-weight="bold" fill="#228b22" text-anchor="middle" textLength="49" lengthAdjust="spacingAndGlyphs">0.00</text>
<text x="2076.6" y="147" font-family="Liberation Sans" font-size="22" font-weight="bold" fill="#1e90ff" text-anchor="middle" textLength="49" lengthAdjust="spacingAndGlyphs">0.23</text>
<text x="2192" y="147" font-family="Liberation Sans" font-size="22" font-weight="bold" fill="#ff69b4" text-anchor="middle" textLength="49" lengthAdjust="spacingAndGlyphs">0.00</text>
<text x="1961" y="199" font-family="Liberation Sans" font-size="22" font-weight="bold" fill="#228b22" text-anchor="middle" textLength="49" lengthAdjust="spacingAndGlyphs">0.00</text>
<text x="2076.6" y="199" font-family="Liberation Sans" font-size="22" font-weight="bold" fill="#1e90ff" text-anchor="middle" textLength="49" lengthAdjust="spacingAndGlyphs">0.23</text>
<text x="2192" y="199" font-family="Liberation Sans" font-size="22" font-weight="bold" fill="#ff69b4" text-anchor="middle" textLength="49" lengthAdjust="spacingAndGlyphs">0.00</text>
<text x="1961" y="251" font-family="Liberation Sans" font-size="22" font-weight="bold" fill="#228b22" text-anchor="middle" textLength="49" lengthAdjust="spacingAndGlyphs">0.00</text>
<text x="2076.6" y="251" font-family="Liberation Sans" font-size="22" font-weight="bold" fill="#1e90ff" text-anchor="middle" textLength="49" lengthAdjust="spacingAndGlyphs">0.43</text>
<text x="2192" y="251" font-family="Liberation Sans" font-size="22" font-weight="bold" fill="#ff69b4" text-anchor="middle" textLength="49" lengthAdjust="spacingAndGlyphs">0.00</text>
<text x="1961" y="303" font-family="Liberation Sans" font-size="22" font-weight="bold" fill="#228b22" text-anchor="middle" textLength="49" lengthAdjust="spacingAndGlyphs">0.00</text>
<text x="2076.6" y="303" font-family="Liberation Sans" font-size="22" font-weight="bold" fill="#1e90ff" text-anchor="middle" textLength="49" lengthAdjust="spacingAndGlyphs">0.06</text>
<text x="2192" y="303" font-family="Liberation Sans" font-size="22" font-weight="bold" fill="#ff69b4" text-anchor="middle" textLength="49" lengthAdjust="spacingAndGlyphs">0.00</text>
<path d="M2030,334.1L2056.6,323L2056.6,345.3Z" fill="#fff" stroke="#000" stroke-width="1.3"/>
<rect x="2056.60" y="323" width="26.34" height="22.3" fill="#c7e9c0" stroke="#111" stroke-width="1.3"/>
<rect x="2082.94" y="323" width="26.34" height="22.3" fill="#a1d99b" stroke="#111" stroke-width="1.3"/>
<rect x="2109.28" y="323" width="26.34" height="22.3" fill="#74c476" stroke="#111" stroke-width="1.3"/>
<rect x="2135.62" y="323" width="26.34" height="22.3" fill="#41ab5d" stroke="#111" stroke-width="1.3"/>
<rect x="2161.96" y="323" width="26.34" height="22.3" fill="#238b45" stroke="#111" stroke-width="1.3"/>
<path d="M2188.30,323L2214.5,334.1L2188.30,345.3Z" fill="#006d2c" stroke="#000" stroke-width="1.3"/>
<path d="M2030,360.8L2056.6,349.7L2056.6,372.0Z" fill="#fff" stroke="#000" stroke-width="1.3"/>
<rect x="2056.60" y="349.7" width="26.34" height="22.3" fill="#bdd3e7" stroke="#111" stroke-width="1.3"/>
<rect x="2082.94" y="349.7" width="26.34" height="22.3" fill="#9ecae1" stroke="#111" stroke-width="1.3"/>
<rect x="2109.28" y="349.7" width="26.34" height="22.3" fill="#6baed6" stroke="#111" stroke-width="1.3"/>
<rect x="2135.62" y="349.7" width="26.34" height="22.3" fill="#4292c6" stroke="#111" stroke-width="1.3"/>
<rect x="2161.96" y="349.7" width="26.34" height="22.3" fill="#2171b5" stroke="#111" stroke-width="1.3"/>
<path d="M2188.30,349.7L2214.5,360.8L2188.30,372.0Z" fill="#08519c" stroke="#000" stroke-width="1.3"/>
<path d="M2030,387.5L2056.6,376.4L2056.6,398.7Z" fill="#fff" stroke="#000" stroke-width="1.3"/>
<rect x="2056.60" y="376.4" width="26.34" height="22.3" fill="#ffc0ff" stroke="#111" stroke-width="1.3"/>
<rect x="2082.94" y="376.4" width="26.34" height="22.3" fill="#ff9cff" stroke="#111" stroke-width="1.3"/>
<rect x="2109.28" y="376.4" width="26.34" height="22.3" fill="#ff78ff" stroke="#111" stroke-width="1.3"/>
<rect x="2135.62" y="376.4" width="26.34" height="22.3" fill="#ff4cff" stroke="#111" stroke-width="1.3"/>
<rect x="2161.96" y="376.4" width="26.34" height="22.3" fill="#f522f5" stroke="#111" stroke-width="1.3"/>
<path d="M2188.30,376.4L2214.5,387.5L2188.30,398.7Z" fill="#e800e8" stroke="#000" stroke-width="1.3"/>
<text x="1972" y="344.8" font-family="Liberation Sans" font-size="26" font-weight="bold" fill="#000" text-anchor="middle" >Rain</text>
<text x="1972" y="370.9" font-family="Liberation Sans" font-size="26" font-weight="bold" fill="#000" text-anchor="middle" >Snow</text>
<text x="1972" y="397.7" font-family="Liberation Sans" font-size="26" font-weight="bold" fill="#000" text-anchor="middle" >Ice</text>
<text x="2057.2" y="421.7" font-family="Liberation Sans" font-size="21" font-weight="bold" fill="#000" text-anchor="middle" textLength="53" lengthAdjust="spacingAndGlyphs">0.01"</text>
<text x="2189" y="421.7" font-family="Liberation Sans" font-size="21" font-weight="bold" fill="#000" text-anchor="middle" textLength="52.5" lengthAdjust="spacingAndGlyphs">0.35"</text>
<text x="2076.6" y="453" font-family="Liberation Sans" font-size="26" font-weight="bold" fill="#000" text-anchor="middle" textLength="229" lengthAdjust="spacingAndGlyphs">MEMBER TOTALS</text>
<text x="2076.6" y="1437.2" font-family="Liberation Sans" font-size="21.5" font-weight="bold" fill="#1e90ff" text-anchor="middle" textLength="44.5" lengthAdjust="spacingAndGlyphs">0.08</text>
<text x="2076.6" y="1404.1" font-family="Liberation Sans" font-size="21.5" font-weight="bold" fill="#1e90ff" text-anchor="middle" textLength="44.5" lengthAdjust="spacingAndGlyphs">0.06</text>
<text x="2076.6" y="1370.9" font-family="Liberation Sans" font-size="21.5" font-weight="bold" fill="#1e90ff" text-anchor="middle" textLength="44.5" lengthAdjust="spacingAndGlyphs">0.30</text>
<text x="2076.6" y="1337.7" font-family="Liberation Sans" font-size="21.5" font-weight="bold" fill="#1e90ff" text-anchor="middle" textLength="44.5" lengthAdjust="spacingAndGlyphs">0.30</text>
<text x="2076.6" y="1304.6" font-family="Liberation Sans" font-size="21.5" font-weight="bold" fill="#1e90ff" text-anchor="middle" textLength="44.5" lengthAdjust="spacingAndGlyphs">0.30</text>
<text x="2076.6" y="1271.4" font-family="Liberation Sans" font-size="21.5" font-weight="bold" fill="#1e90ff" text-anchor="middle" textLength="44.5" lengthAdjust="spacingAndGlyphs">0.12</text>
<text x="2076.6" y="1238.2" font-family="Liberation Sans" font-size="21.5" font-weight="bold" fill="#1e90ff" text-anchor="middle" textLength="44.5" lengthAdjust="spacingAndGlyphs">0.22</text>
<text x="2076.6" y="1205.0" font-family="Liberation Sans" font-size="21.5" font-weight="bold" fill="#1e90ff" text-anchor="middle" textLength="44.5" lengthAdjust="spacingAndGlyphs">0.21</text>
<text x="2076.6" y="1171.9" font-family="Liberation Sans" font-size="21.5" font-weight="bold" fill="#1e90ff" text-anchor="middle" textLength="44.5" lengthAdjust="spacingAndGlyphs">0.33</text>
<text x="2076.6" y="1138.7" font-family="Liberation Sans" font-size="21.5" font-weight="bold" fill="#1e90ff" text-anchor="middle" textLength="44.5" lengthAdjust="spacingAndGlyphs">0.43</text>
<text x="2076.6" y="1105.5" font-family="Liberation Sans" font-size="21.5" font-weight="bold" fill="#1e90ff" text-anchor="middle" textLength="44.5" lengthAdjust="spacingAndGlyphs">0.18</text>
<text x="2076.6" y="1072.4" font-family="Liberation Sans" font-size="21.5" font-weight="bold" fill="#1e90ff" text-anchor="middle" textLength="44.5" lengthAdjust="spacingAndGlyphs">0.23</text>
<text x="2076.6" y="1039.2" font-family="Liberation Sans" font-size="21.5" font-weight="bold" fill="#1e90ff" text-anchor="middle" textLength="44.5" lengthAdjust="spacingAndGlyphs">0.37</text>
<text x="2076.6" y="1006.0" font-family="Liberation Sans" font-size="21.5" font-weight="bold" fill="#1e90ff" text-anchor="middle" textLength="44.5" lengthAdjust="spacingAndGlyphs">0.23</text>
<text x="2076.6" y="972.9" font-family="Liberation Sans" font-size="21.5" font-weight="bold" fill="#1e90ff" text-anchor="middle" textLength="44.5" lengthAdjust="spacingAndGlyphs">0.19</text>
<text x="2076.6" y="939.7" font-family="Liberation Sans" font-size="21.5" font-weight="bold" fill="#1e90ff" text-anchor="middle" textLength="44.5" lengthAdjust="spacingAndGlyphs">0.38</text>
<text x="2076.6" y="906.5" font-family="Liberation Sans" font-size="21.5" font-weight="bold" fill="#1e90ff" text-anchor="middle" textLength="44.5" lengthAdjust="spacingAndGlyphs">0.31</text>
<text x="2076.6" y="873.3" font-family="Liberation Sans" font-size="21.5" font-weight="bold" fill="#1e90ff" text-anchor="middle" textLength="44.5" lengthAdjust="spacingAndGlyphs">0.20</text>
<text x="2076.6" y="840.2" font-family="Liberation Sans" font-size="21.5" font-weight="bold" fill="#1e90ff" text-anchor="middle" textLength="44.5" lengthAdjust="spacingAndGlyphs">0.14</text>
<text x="2076.6" y="807.0" font-family="Liberation Sans" font-size="21.5" font-weight="bold" fill="#1e90ff" text-anchor="middle" textLength="44.5" lengthAdjust="spacingAndGlyphs">0.29</text>
<text x="2076.6" y="773.8" font-family="Liberation Sans" font-size="21.5" font-weight="bold" fill="#1e90ff" text-anchor="middle" textLength="44.5" lengthAdjust="spacingAndGlyphs">0.24</text>
<text x="2076.6" y="740.7" font-family="Liberation Sans" font-size="21.5" font-weight="bold" fill="#1e90ff" text-anchor="middle" textLength="44.5" lengthAdjust="spacingAndGlyphs">0.30</text>
<text x="2076.6" y="707.5" font-family="Liberation Sans" font-size="21.5" font-weight="bold" fill="#1e90ff" text-anchor="middle" textLength="44.5" lengthAdjust="spacingAndGlyphs">0.14</text>
<text x="2076.6" y="674.3" font-family="Liberation Sans" font-size="21.5" font-weight="bold" fill="#1e90ff" text-anchor="middle" textLength="44.5" lengthAdjust="spacingAndGlyphs">0.08</text>
<text x="2076.6" y="641.1" font-family="Liberation Sans" font-size="21.5" font-weight="bold" fill="#1e90ff" text-anchor="middle" textLength="44.5" lengthAdjust="spacingAndGlyphs">0.23</text>
<text x="2076.6" y="608.0" font-family="Liberation Sans" font-size="21.5" font-weight="bold" fill="#1e90ff" text-anchor="middle" textLength="44.5" lengthAdjust="spacingAndGlyphs">0.28</text>
<text x="2076.6" y="574.8" font-family="Liberation Sans" font-size="21.5" font-weight="bold" fill="#1e90ff" text-anchor="middle" textLength="44.5" lengthAdjust="spacingAndGlyphs">0.09</text>
<text x="2076.6" y="541.6" font-family="Liberation Sans" font-size="21.5" font-weight="bold" fill="#1e90ff" text-anchor="middle" textLength="44.5" lengthAdjust="spacingAndGlyphs">0.32</text>
<text x="2076.6" y="508.5" font-family="Liberation Sans" font-size="21.5" font-weight="bold" fill="#1e90ff" text-anchor="middle" textLength="44.5" lengthAdjust="spacingAndGlyphs">0.11</text>
<text x="2076.6" y="475.3" font-family="Liberation Sans" font-size="21.5" font-weight="bold" fill="#1e90ff" text-anchor="middle" textLength="44.5" lengthAdjust="spacingAndGlyphs">0.20</text>
<text x="114" y="41" font-family="Liberation Sans" font-size="36.5" font-weight="bold" fill="#000" text-anchor="start" textLength="710" lengthAdjust="spacingAndGlyphs">GEFS Ensemble Precipitation Forecast -</text>
<text x="853" y="41" font-family="Liberation Sans" font-size="36.5" font-weight="bold" fill="#0a5aad" text-anchor="start" textLength="140" lengthAdjust="spacingAndGlyphs">Boulder</text>
<text x="114" y="73.5" font-family="Liberation Sans" font-size="26" font-weight="bold" fill="#000" text-anchor="start" textLength="591" lengthAdjust="spacingAndGlyphs">Model Initialized 5:00 PM MT on Wed 1/21/2026</text>
<text x="749" y="73.5" font-family="Liberation Sans" font-size="26" font-weight="bold" fill="#000" text-anchor="start" textLength="334" lengthAdjust="spacingAndGlyphs">Forecast Hours 006 -&gt; 174</text>
<text x="1860" y="60.7" font-family="Liberation Sans" font-size="55" font-weight="bold" font-style="italic" fill="#0a56a6" textLength="172" lengthAdjust="spacingAndGlyphs">Boulder</text>
<path d="M2078,42.2L2111.21,20.63A39.6,39.6 0 1 0 2111.21,63.77Z" fill="#e10a14"/>
<circle cx="2077.6" cy="42.3" r="21.6" fill="#f7c600"/>
<text x="2111" y="60.7" font-family="Liberation Sans" font-size="55" font-weight="bold" font-style="italic" fill="#0a56a6" textLength="86" lengthAdjust="spacingAndGlyphs">AST</text>
<g filter="url(#dsh)">
<path d="M587.30,220.00H879.50A68,68 0 0 1 947.50,288.00V1373.50A68,68 0 0 1 879.50,1441.50H587.30A68,68 0 0 1 519.30,1373.50" fill="none" stroke="#ff33cc" stroke-width="11.8" stroke-dasharray="37 12.6" stroke-dashoffset="13.7"/>
<path d="M519.30,1373.50V288.00A68,68 0 0 1 587.30,220.00" fill="none" stroke="#ff33cc" stroke-width="11.8" stroke-dasharray="37 12.6" stroke-dashoffset="12.5"/>
</g>
<g filter="url(#dsh)">
<path d="M990.20,145.00H1172.50A38,38 0 0 1 1210.50,183.00V1406.50A38,38 0 0 1 1172.50,1444.50H990.20A38,38 0 0 1 952.20,1406.50" fill="none" stroke="#ff33cc" stroke-width="11.8" stroke-dasharray="37 12.6" stroke-dashoffset="7.3"/>
<path d="M952.20,1406.50V183.00A38,38 0 0 1 990.20,145.00" fill="none" stroke="#ff33cc" stroke-width="11.8" stroke-dasharray="37 12.6" stroke-dashoffset="14.5"/>
</g>
<g filter="url(#bsh)"><rect x="193.6" y="119.5" width="396.6" height="233.60000000000002" fill="#0055a6" stroke="#000" stroke-width="3"/></g>
<g filter="url(#tsh)">
<text x="391.9" y="169.9" font-family="Liberation Sans" font-size="39" font-weight="bold" fill="#fff" text-anchor="middle" textLength="288" lengthAdjust="spacingAndGlyphs">Main event of</text>
<text x="390.9" y="223.3" font-family="Liberation Sans" font-size="39" font-weight="bold" fill="#fff" text-anchor="middle" textLength="357" lengthAdjust="spacingAndGlyphs">light snow comes</text>
<text x="391.4" y="275.8" font-family="Liberation Sans" font-size="39" font-weight="bold" fill="#fff" text-anchor="middle" textLength="314" lengthAdjust="spacingAndGlyphs">late Friday into</text>
<text x="391.4" y="328.3" font-family="Liberation Sans" font-size="39" font-weight="bold" fill="#fff" text-anchor="middle" textLength="362" lengthAdjust="spacingAndGlyphs">midday Saturday</text>
</g>
<g filter="url(#bsh)"><rect x="1072.6" y="781.2" width="629.4000000000001" height="166.89999999999998" fill="#0055a6" stroke="#000" stroke-width="3"/></g>
<g filter="url(#tsh)">
<text x="1386.6" y="824.2" font-family="Liberation Sans" font-size="39" font-weight="bold" fill="#fff" text-anchor="middle" textLength="523" lengthAdjust="spacingAndGlyphs">Less certain, but a second</text>
<text x="1387.4" y="876.9" font-family="Liberation Sans" font-size="39" font-weight="bold" fill="#fff" text-anchor="middle" textLength="589" lengthAdjust="spacingAndGlyphs">round of light snow possible</text>
<text x="1387.3" y="929.6" font-family="Liberation Sans" font-size="39" font-weight="bold" fill="#fff" text-anchor="middle" textLength="370" lengthAdjust="spacingAndGlyphs">sometime Sunday</text>
</g></svg>
</body></html>
